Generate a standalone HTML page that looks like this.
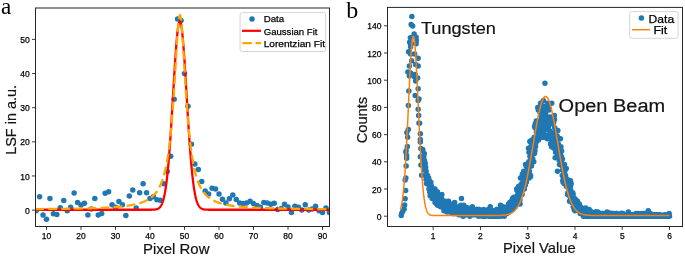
<!DOCTYPE html>
<html><head><meta charset="utf-8"><style>
html,body{margin:0;padding:0;background:#fff;width:685px;height:256px;overflow:hidden}
svg{display:block;will-change:transform}
text.s{stroke:#000;stroke-width:0.25px}
text.m{stroke:#141414;stroke-width:0.2px}

</style></head><body>
<svg width="685" height="256" viewBox="0 0 685 256">
<rect width="685" height="256" fill="#fff"/>
<defs><clipPath id="ca"><rect x="35.5" y="8.0" width="294.0" height="218.5"/></clipPath>
<clipPath id="cb"><rect x="387.5" y="7.4" width="295.0" height="219.1"/></clipPath></defs>
<g fill="#1f77b4"></g>
<g clip-path="url(#ca)">
<circle fill="#1f77b4" cx="36.15" cy="210.78" r="2.75"/>
<circle fill="#1f77b4" cx="39.60" cy="196.79" r="2.75"/>
<circle fill="#1f77b4" cx="43.05" cy="214.88" r="2.75"/>
<circle fill="#1f77b4" cx="46.50" cy="219.32" r="2.75"/>
<circle fill="#1f77b4" cx="49.95" cy="198.49" r="2.75"/>
<circle fill="#1f77b4" cx="53.40" cy="213.86" r="2.75"/>
<circle fill="#1f77b4" cx="56.85" cy="214.54" r="2.75"/>
<circle fill="#1f77b4" cx="60.30" cy="207.71" r="2.75"/>
<circle fill="#1f77b4" cx="63.75" cy="200.54" r="2.75"/>
<circle fill="#1f77b4" cx="67.20" cy="210.78" r="2.75"/>
<circle fill="#1f77b4" cx="70.65" cy="207.20" r="2.75"/>
<circle fill="#1f77b4" cx="74.10" cy="193.03" r="2.75"/>
<circle fill="#1f77b4" cx="77.55" cy="202.59" r="2.75"/>
<circle fill="#1f77b4" cx="81.00" cy="204.98" r="2.75"/>
<circle fill="#1f77b4" cx="84.45" cy="203.27" r="2.75"/>
<circle fill="#1f77b4" cx="87.90" cy="214.88" r="2.75"/>
<circle fill="#1f77b4" cx="91.35" cy="209.08" r="2.75"/>
<circle fill="#1f77b4" cx="94.80" cy="198.49" r="2.75"/>
<circle fill="#1f77b4" cx="98.25" cy="214.88" r="2.75"/>
<circle fill="#1f77b4" cx="101.70" cy="213.51" r="2.75"/>
<circle fill="#1f77b4" cx="105.15" cy="193.37" r="2.75"/>
<circle fill="#1f77b4" cx="108.60" cy="191.66" r="2.75"/>
<circle fill="#1f77b4" cx="112.05" cy="204.64" r="2.75"/>
<circle fill="#1f77b4" cx="115.50" cy="207.20" r="2.75"/>
<circle fill="#1f77b4" cx="118.95" cy="201.56" r="2.75"/>
<circle fill="#1f77b4" cx="122.40" cy="204.64" r="2.75"/>
<circle fill="#1f77b4" cx="125.85" cy="215.56" r="2.75"/>
<circle fill="#1f77b4" cx="129.30" cy="196.10" r="2.75"/>
<circle fill="#1f77b4" cx="132.75" cy="189.96" r="2.75"/>
<circle fill="#1f77b4" cx="136.20" cy="208.05" r="2.75"/>
<circle fill="#1f77b4" cx="139.65" cy="192.69" r="2.75"/>
<circle fill="#1f77b4" cx="143.10" cy="183.81" r="2.75"/>
<circle fill="#1f77b4" cx="146.55" cy="192.69" r="2.75"/>
<circle fill="#1f77b4" cx="150.00" cy="198.49" r="2.75"/>
<circle fill="#1f77b4" cx="153.45" cy="196.79" r="2.75"/>
<circle fill="#1f77b4" cx="156.90" cy="199.86" r="2.75"/>
<circle fill="#1f77b4" cx="160.35" cy="200.20" r="2.75"/>
<circle fill="#1f77b4" cx="163.80" cy="183.81" r="2.75"/>
<circle fill="#1f77b4" cx="167.25" cy="171.52" r="2.75"/>
<circle fill="#1f77b4" cx="170.70" cy="156.16" r="2.75"/>
<circle fill="#1f77b4" cx="174.15" cy="99.14" r="2.75"/>
<circle fill="#1f77b4" cx="177.60" cy="18.92" r="2.75"/>
<circle fill="#1f77b4" cx="181.05" cy="20.62" r="2.75"/>
<circle fill="#1f77b4" cx="184.50" cy="73.54" r="2.75"/>
<circle fill="#1f77b4" cx="187.95" cy="106.31" r="2.75"/>
<circle fill="#1f77b4" cx="191.40" cy="144.21" r="2.75"/>
<circle fill="#1f77b4" cx="194.85" cy="164.01" r="2.75"/>
<circle fill="#1f77b4" cx="198.30" cy="169.47" r="2.75"/>
<circle fill="#1f77b4" cx="201.75" cy="181.42" r="2.75"/>
<circle fill="#1f77b4" cx="205.20" cy="190.98" r="2.75"/>
<circle fill="#1f77b4" cx="208.65" cy="194.05" r="2.75"/>
<circle fill="#1f77b4" cx="212.10" cy="188.25" r="2.75"/>
<circle fill="#1f77b4" cx="215.55" cy="188.93" r="2.75"/>
<circle fill="#1f77b4" cx="219.00" cy="194.05" r="2.75"/>
<circle fill="#1f77b4" cx="222.45" cy="199.18" r="2.75"/>
<circle fill="#1f77b4" cx="225.90" cy="202.93" r="2.75"/>
<circle fill="#1f77b4" cx="229.35" cy="198.83" r="2.75"/>
<circle fill="#1f77b4" cx="232.80" cy="195.08" r="2.75"/>
<circle fill="#1f77b4" cx="236.25" cy="199.52" r="2.75"/>
<circle fill="#1f77b4" cx="239.70" cy="202.93" r="2.75"/>
<circle fill="#1f77b4" cx="243.15" cy="203.61" r="2.75"/>
<circle fill="#1f77b4" cx="246.60" cy="202.93" r="2.75"/>
<circle fill="#1f77b4" cx="250.05" cy="201.22" r="2.75"/>
<circle fill="#1f77b4" cx="253.50" cy="203.61" r="2.75"/>
<circle fill="#1f77b4" cx="256.95" cy="205.49" r="2.75"/>
<circle fill="#1f77b4" cx="260.40" cy="207.20" r="2.75"/>
<circle fill="#1f77b4" cx="263.85" cy="202.59" r="2.75"/>
<circle fill="#1f77b4" cx="267.30" cy="202.93" r="2.75"/>
<circle fill="#1f77b4" cx="270.75" cy="204.30" r="2.75"/>
<circle fill="#1f77b4" cx="274.20" cy="203.27" r="2.75"/>
<circle fill="#1f77b4" cx="277.65" cy="209.42" r="2.75"/>
<circle fill="#1f77b4" cx="281.10" cy="208.39" r="2.75"/>
<circle fill="#1f77b4" cx="284.55" cy="204.30" r="2.75"/>
<circle fill="#1f77b4" cx="288.00" cy="207.03" r="2.75"/>
<circle fill="#1f77b4" cx="291.45" cy="212.49" r="2.75"/>
<circle fill="#1f77b4" cx="294.90" cy="206.34" r="2.75"/>
<circle fill="#1f77b4" cx="298.35" cy="207.20" r="2.75"/>
<circle fill="#1f77b4" cx="301.80" cy="209.90" r="2.75"/>
<circle fill="#1f77b4" cx="305.25" cy="204.64" r="2.75"/>
<circle fill="#1f77b4" cx="308.70" cy="209.90" r="2.75"/>
<circle fill="#1f77b4" cx="312.15" cy="209.08" r="2.75"/>
<circle fill="#1f77b4" cx="315.60" cy="206.34" r="2.75"/>
<circle fill="#1f77b4" cx="319.05" cy="210.78" r="2.75"/>
<circle fill="#1f77b4" cx="322.50" cy="212.49" r="2.75"/>
<circle fill="#1f77b4" cx="325.95" cy="208.05" r="2.75"/>
<circle fill="#1f77b4" cx="329.40" cy="212.49" r="2.75"/>
<path d="M 34.42 209.76 L 34.80 209.76 L 35.17 209.76 L 35.54 209.76 L 35.91 209.76 L 36.28 209.76 L 36.65 209.76 L 37.02 209.76 L 37.40 209.76 L 37.77 209.76 L 38.14 209.76 L 38.51 209.76 L 38.88 209.76 L 39.25 209.76 L 39.62 209.76 L 40.00 209.76 L 40.37 209.76 L 40.74 209.76 L 41.11 209.76 L 41.48 209.76 L 41.85 209.76 L 42.22 209.76 L 42.59 209.76 L 42.97 209.76 L 43.34 209.76 L 43.71 209.76 L 44.08 209.76 L 44.45 209.76 L 44.82 209.76 L 45.19 209.76 L 45.57 209.76 L 45.94 209.76 L 46.31 209.76 L 46.68 209.76 L 47.05 209.76 L 47.42 209.76 L 47.79 209.76 L 48.16 209.76 L 48.54 209.76 L 48.91 209.76 L 49.28 209.76 L 49.65 209.76 L 50.02 209.76 L 50.39 209.76 L 50.76 209.76 L 51.14 209.76 L 51.51 209.76 L 51.88 209.76 L 52.25 209.76 L 52.62 209.76 L 52.99 209.76 L 53.36 209.76 L 53.73 209.76 L 54.11 209.76 L 54.48 209.76 L 54.85 209.76 L 55.22 209.76 L 55.59 209.76 L 55.96 209.76 L 56.33 209.76 L 56.71 209.76 L 57.08 209.76 L 57.45 209.76 L 57.82 209.76 L 58.19 209.76 L 58.56 209.76 L 58.93 209.76 L 59.30 209.76 L 59.68 209.76 L 60.05 209.76 L 60.42 209.76 L 60.79 209.76 L 61.16 209.76 L 61.53 209.76 L 61.90 209.76 L 62.28 209.76 L 62.65 209.76 L 63.02 209.76 L 63.39 209.76 L 63.76 209.76 L 64.13 209.76 L 64.50 209.76 L 64.87 209.76 L 65.25 209.76 L 65.62 209.76 L 65.99 209.76 L 66.36 209.76 L 66.73 209.76 L 67.10 209.76 L 67.47 209.76 L 67.85 209.76 L 68.22 209.76 L 68.59 209.76 L 68.96 209.76 L 69.33 209.76 L 69.70 209.76 L 70.07 209.76 L 70.44 209.76 L 70.82 209.76 L 71.19 209.76 L 71.56 209.76 L 71.93 209.76 L 72.30 209.76 L 72.67 209.76 L 73.04 209.76 L 73.42 209.76 L 73.79 209.76 L 74.16 209.76 L 74.53 209.76 L 74.90 209.76 L 75.27 209.76 L 75.64 209.76 L 76.01 209.76 L 76.39 209.76 L 76.76 209.76 L 77.13 209.76 L 77.50 209.76 L 77.87 209.76 L 78.24 209.76 L 78.61 209.76 L 78.99 209.76 L 79.36 209.76 L 79.73 209.76 L 80.10 209.76 L 80.47 209.76 L 80.84 209.76 L 81.21 209.76 L 81.59 209.76 L 81.96 209.76 L 82.33 209.76 L 82.70 209.76 L 83.07 209.76 L 83.44 209.76 L 83.81 209.76 L 84.18 209.76 L 84.56 209.76 L 84.93 209.76 L 85.30 209.76 L 85.67 209.76 L 86.04 209.76 L 86.41 209.76 L 86.78 209.76 L 87.16 209.76 L 87.53 209.76 L 87.90 209.76 L 88.27 209.76 L 88.64 209.76 L 89.01 209.76 L 89.38 209.76 L 89.75 209.76 L 90.13 209.76 L 90.50 209.76 L 90.87 209.76 L 91.24 209.76 L 91.61 209.76 L 91.98 209.76 L 92.35 209.76 L 92.73 209.76 L 93.10 209.76 L 93.47 209.76 L 93.84 209.76 L 94.21 209.76 L 94.58 209.76 L 94.95 209.76 L 95.32 209.76 L 95.70 209.76 L 96.07 209.76 L 96.44 209.76 L 96.81 209.76 L 97.18 209.76 L 97.55 209.76 L 97.92 209.76 L 98.30 209.76 L 98.67 209.76 L 99.04 209.76 L 99.41 209.76 L 99.78 209.76 L 100.15 209.76 L 100.52 209.76 L 100.89 209.76 L 101.27 209.76 L 101.64 209.76 L 102.01 209.76 L 102.38 209.76 L 102.75 209.76 L 103.12 209.76 L 103.49 209.76 L 103.87 209.76 L 104.24 209.76 L 104.61 209.76 L 104.98 209.76 L 105.35 209.76 L 105.72 209.76 L 106.09 209.76 L 106.46 209.76 L 106.84 209.76 L 107.21 209.76 L 107.58 209.76 L 107.95 209.76 L 108.32 209.76 L 108.69 209.76 L 109.06 209.76 L 109.44 209.76 L 109.81 209.76 L 110.18 209.76 L 110.55 209.76 L 110.92 209.76 L 111.29 209.76 L 111.66 209.76 L 112.03 209.76 L 112.41 209.76 L 112.78 209.76 L 113.15 209.76 L 113.52 209.76 L 113.89 209.76 L 114.26 209.76 L 114.63 209.76 L 115.01 209.76 L 115.38 209.76 L 115.75 209.76 L 116.12 209.76 L 116.49 209.76 L 116.86 209.76 L 117.23 209.76 L 117.60 209.76 L 117.98 209.76 L 118.35 209.76 L 118.72 209.76 L 119.09 209.76 L 119.46 209.76 L 119.83 209.76 L 120.20 209.76 L 120.58 209.76 L 120.95 209.76 L 121.32 209.76 L 121.69 209.76 L 122.06 209.76 L 122.43 209.76 L 122.80 209.76 L 123.18 209.76 L 123.55 209.76 L 123.92 209.76 L 124.29 209.76 L 124.66 209.76 L 125.03 209.76 L 125.40 209.76 L 125.77 209.76 L 126.15 209.76 L 126.52 209.76 L 126.89 209.76 L 127.26 209.76 L 127.63 209.76 L 128.00 209.76 L 128.37 209.76 L 128.75 209.76 L 129.12 209.76 L 129.49 209.76 L 129.86 209.76 L 130.23 209.76 L 130.60 209.76 L 130.97 209.76 L 131.34 209.76 L 131.72 209.76 L 132.09 209.76 L 132.46 209.76 L 132.83 209.76 L 133.20 209.76 L 133.57 209.76 L 133.94 209.76 L 134.32 209.76 L 134.69 209.76 L 135.06 209.76 L 135.43 209.76 L 135.80 209.76 L 136.17 209.76 L 136.54 209.76 L 136.91 209.76 L 137.29 209.76 L 137.66 209.76 L 138.03 209.76 L 138.40 209.76 L 138.77 209.76 L 139.14 209.76 L 139.51 209.76 L 139.89 209.76 L 140.26 209.76 L 140.63 209.76 L 141.00 209.76 L 141.37 209.76 L 141.74 209.76 L 142.11 209.76 L 142.48 209.76 L 142.86 209.76 L 143.23 209.76 L 143.60 209.76 L 143.97 209.76 L 144.34 209.76 L 144.71 209.76 L 145.08 209.76 L 145.46 209.76 L 145.83 209.76 L 146.20 209.76 L 146.57 209.76 L 146.94 209.76 L 147.31 209.76 L 147.68 209.76 L 148.05 209.76 L 148.43 209.75 L 148.80 209.75 L 149.17 209.75 L 149.54 209.75 L 149.91 209.75 L 150.28 209.74 L 150.65 209.74 L 151.03 209.74 L 151.40 209.73 L 151.77 209.72 L 152.14 209.71 L 152.51 209.70 L 152.88 209.69 L 153.25 209.67 L 153.62 209.65 L 154.00 209.62 L 154.37 209.59 L 154.74 209.55 L 155.11 209.51 L 155.48 209.45 L 155.85 209.39 L 156.22 209.31 L 156.60 209.22 L 156.97 209.11 L 157.34 208.97 L 157.71 208.82 L 158.08 208.64 L 158.45 208.43 L 158.82 208.18 L 159.19 207.89 L 159.57 207.56 L 159.94 207.17 L 160.31 206.73 L 160.68 206.22 L 161.05 205.63 L 161.42 204.97 L 161.79 204.21 L 162.17 203.36 L 162.54 202.39 L 162.91 201.30 L 163.28 200.08 L 163.65 198.72 L 164.02 197.21 L 164.39 195.53 L 164.77 193.67 L 165.14 191.62 L 165.51 189.38 L 165.88 186.92 L 166.25 184.25 L 166.62 181.34 L 166.99 178.21 L 167.36 174.82 L 167.74 171.20 L 168.11 167.32 L 168.48 163.19 L 168.85 158.81 L 169.22 154.18 L 169.59 149.32 L 169.96 144.23 L 170.34 138.92 L 170.71 133.40 L 171.08 127.71 L 171.45 121.85 L 171.82 115.85 L 172.19 109.75 L 172.56 103.56 L 172.93 97.33 L 173.31 91.09 L 173.68 84.87 L 174.05 78.72 L 174.42 72.68 L 174.79 66.79 L 175.16 61.08 L 175.53 55.61 L 175.91 50.42 L 176.28 45.54 L 176.65 41.01 L 177.02 36.88 L 177.39 33.18 L 177.76 29.93 L 178.13 27.17 L 178.50 24.92 L 178.88 23.20 L 179.25 22.03 L 179.62 21.41 L 179.99 21.35 L 180.36 21.85 L 180.73 22.92 L 181.10 24.52 L 181.48 26.67 L 181.85 29.32 L 182.22 32.47 L 182.59 36.09 L 182.96 40.13 L 183.33 44.58 L 183.70 49.39 L 184.07 54.52 L 184.45 59.94 L 184.82 65.59 L 185.19 71.45 L 185.56 77.47 L 185.93 83.60 L 186.30 89.81 L 186.67 96.05 L 187.05 102.28 L 187.42 108.48 L 187.79 114.61 L 188.16 120.63 L 188.53 126.52 L 188.90 132.25 L 189.27 137.80 L 189.64 143.15 L 190.02 148.29 L 190.39 153.20 L 190.76 157.88 L 191.13 162.31 L 191.50 166.49 L 191.87 170.42 L 192.24 174.10 L 192.62 177.53 L 192.99 180.72 L 193.36 183.67 L 193.73 186.39 L 194.10 188.89 L 194.47 191.18 L 194.84 193.26 L 195.21 195.16 L 195.59 196.88 L 195.96 198.42 L 196.33 199.82 L 196.70 201.06 L 197.07 202.18 L 197.44 203.17 L 197.81 204.05 L 198.19 204.82 L 198.56 205.50 L 198.93 206.10 L 199.30 206.63 L 199.67 207.09 L 200.04 207.48 L 200.41 207.83 L 200.78 208.12 L 201.16 208.38 L 201.53 208.60 L 201.90 208.79 L 202.27 208.94 L 202.64 209.08 L 203.01 209.19 L 203.38 209.29 L 203.76 209.37 L 204.13 209.44 L 204.50 209.50 L 204.87 209.54 L 205.24 209.58 L 205.61 209.62 L 205.98 209.64 L 206.36 209.67 L 206.73 209.68 L 207.10 209.70 L 207.47 209.71 L 207.84 209.72 L 208.21 209.73 L 208.58 209.73 L 208.95 209.74 L 209.33 209.74 L 209.70 209.75 L 210.07 209.75 L 210.44 209.75 L 210.81 209.75 L 211.18 209.75 L 211.55 209.76 L 211.93 209.76 L 212.30 209.76 L 212.67 209.76 L 213.04 209.76 L 213.41 209.76 L 213.78 209.76 L 214.15 209.76 L 214.52 209.76 L 214.90 209.76 L 215.27 209.76 L 215.64 209.76 L 216.01 209.76 L 216.38 209.76 L 216.75 209.76 L 217.12 209.76 L 217.50 209.76 L 217.87 209.76 L 218.24 209.76 L 218.61 209.76 L 218.98 209.76 L 219.35 209.76 L 219.72 209.76 L 220.09 209.76 L 220.47 209.76 L 220.84 209.76 L 221.21 209.76 L 221.58 209.76 L 221.95 209.76 L 222.32 209.76 L 222.69 209.76 L 223.07 209.76 L 223.44 209.76 L 223.81 209.76 L 224.18 209.76 L 224.55 209.76 L 224.92 209.76 L 225.29 209.76 L 225.66 209.76 L 226.04 209.76 L 226.41 209.76 L 226.78 209.76 L 227.15 209.76 L 227.52 209.76 L 227.89 209.76 L 228.26 209.76 L 228.64 209.76 L 229.01 209.76 L 229.38 209.76 L 229.75 209.76 L 230.12 209.76 L 230.49 209.76 L 230.86 209.76 L 231.23 209.76 L 231.61 209.76 L 231.98 209.76 L 232.35 209.76 L 232.72 209.76 L 233.09 209.76 L 233.46 209.76 L 233.83 209.76 L 234.21 209.76 L 234.58 209.76 L 234.95 209.76 L 235.32 209.76 L 235.69 209.76 L 236.06 209.76 L 236.43 209.76 L 236.80 209.76 L 237.18 209.76 L 237.55 209.76 L 237.92 209.76 L 238.29 209.76 L 238.66 209.76 L 239.03 209.76 L 239.40 209.76 L 239.78 209.76 L 240.15 209.76 L 240.52 209.76 L 240.89 209.76 L 241.26 209.76 L 241.63 209.76 L 242.00 209.76 L 242.37 209.76 L 242.75 209.76 L 243.12 209.76 L 243.49 209.76 L 243.86 209.76 L 244.23 209.76 L 244.60 209.76 L 244.97 209.76 L 245.35 209.76 L 245.72 209.76 L 246.09 209.76 L 246.46 209.76 L 246.83 209.76 L 247.20 209.76 L 247.57 209.76 L 247.95 209.76 L 248.32 209.76 L 248.69 209.76 L 249.06 209.76 L 249.43 209.76 L 249.80 209.76 L 250.17 209.76 L 250.54 209.76 L 250.92 209.76 L 251.29 209.76 L 251.66 209.76 L 252.03 209.76 L 252.40 209.76 L 252.77 209.76 L 253.14 209.76 L 253.52 209.76 L 253.89 209.76 L 254.26 209.76 L 254.63 209.76 L 255.00 209.76 L 255.37 209.76 L 255.74 209.76 L 256.11 209.76 L 256.49 209.76 L 256.86 209.76 L 257.23 209.76 L 257.60 209.76 L 257.97 209.76 L 258.34 209.76 L 258.71 209.76 L 259.09 209.76 L 259.46 209.76 L 259.83 209.76 L 260.20 209.76 L 260.57 209.76 L 260.94 209.76 L 261.31 209.76 L 261.68 209.76 L 262.06 209.76 L 262.43 209.76 L 262.80 209.76 L 263.17 209.76 L 263.54 209.76 L 263.91 209.76 L 264.28 209.76 L 264.66 209.76 L 265.03 209.76 L 265.40 209.76 L 265.77 209.76 L 266.14 209.76 L 266.51 209.76 L 266.88 209.76 L 267.25 209.76 L 267.63 209.76 L 268.00 209.76 L 268.37 209.76 L 268.74 209.76 L 269.11 209.76 L 269.48 209.76 L 269.85 209.76 L 270.23 209.76 L 270.60 209.76 L 270.97 209.76 L 271.34 209.76 L 271.71 209.76 L 272.08 209.76 L 272.45 209.76 L 272.82 209.76 L 273.20 209.76 L 273.57 209.76 L 273.94 209.76 L 274.31 209.76 L 274.68 209.76 L 275.05 209.76 L 275.42 209.76 L 275.80 209.76 L 276.17 209.76 L 276.54 209.76 L 276.91 209.76 L 277.28 209.76 L 277.65 209.76 L 278.02 209.76 L 278.39 209.76 L 278.77 209.76 L 279.14 209.76 L 279.51 209.76 L 279.88 209.76 L 280.25 209.76 L 280.62 209.76 L 280.99 209.76 L 281.37 209.76 L 281.74 209.76 L 282.11 209.76 L 282.48 209.76 L 282.85 209.76 L 283.22 209.76 L 283.59 209.76 L 283.96 209.76 L 284.34 209.76 L 284.71 209.76 L 285.08 209.76 L 285.45 209.76 L 285.82 209.76 L 286.19 209.76 L 286.56 209.76 L 286.94 209.76 L 287.31 209.76 L 287.68 209.76 L 288.05 209.76 L 288.42 209.76 L 288.79 209.76 L 289.16 209.76 L 289.54 209.76 L 289.91 209.76 L 290.28 209.76 L 290.65 209.76 L 291.02 209.76 L 291.39 209.76 L 291.76 209.76 L 292.13 209.76 L 292.51 209.76 L 292.88 209.76 L 293.25 209.76 L 293.62 209.76 L 293.99 209.76 L 294.36 209.76 L 294.73 209.76 L 295.11 209.76 L 295.48 209.76 L 295.85 209.76 L 296.22 209.76 L 296.59 209.76 L 296.96 209.76 L 297.33 209.76 L 297.70 209.76 L 298.08 209.76 L 298.45 209.76 L 298.82 209.76 L 299.19 209.76 L 299.56 209.76 L 299.93 209.76 L 300.30 209.76 L 300.68 209.76 L 301.05 209.76 L 301.42 209.76 L 301.79 209.76 L 302.16 209.76 L 302.53 209.76 L 302.90 209.76 L 303.27 209.76 L 303.65 209.76 L 304.02 209.76 L 304.39 209.76 L 304.76 209.76 L 305.13 209.76 L 305.50 209.76 L 305.87 209.76 L 306.25 209.76 L 306.62 209.76 L 306.99 209.76 L 307.36 209.76 L 307.73 209.76 L 308.10 209.76 L 308.47 209.76 L 308.84 209.76 L 309.22 209.76 L 309.59 209.76 L 309.96 209.76 L 310.33 209.76 L 310.70 209.76 L 311.07 209.76 L 311.44 209.76 L 311.82 209.76 L 312.19 209.76 L 312.56 209.76 L 312.93 209.76 L 313.30 209.76 L 313.67 209.76 L 314.04 209.76 L 314.41 209.76 L 314.79 209.76 L 315.16 209.76 L 315.53 209.76 L 315.90 209.76 L 316.27 209.76 L 316.64 209.76 L 317.01 209.76 L 317.39 209.76 L 317.76 209.76 L 318.13 209.76 L 318.50 209.76 L 318.87 209.76 L 319.24 209.76 L 319.61 209.76 L 319.98 209.76 L 320.36 209.76 L 320.73 209.76 L 321.10 209.76 L 321.47 209.76 L 321.84 209.76 L 322.21 209.76 L 322.58 209.76 L 322.96 209.76 L 323.33 209.76 L 323.70 209.76 L 324.07 209.76 L 324.44 209.76 L 324.81 209.76 L 325.18 209.76 L 325.55 209.76 L 325.93 209.76 L 326.30 209.76 L 326.67 209.76 L 327.04 209.76 L 327.41 209.76 L 327.78 209.76 L 328.15 209.76 L 328.53 209.76 L 328.90 209.76 L 329.27 209.76 L 329.64 209.76 L 330.01 209.76 L 330.38 209.76 L 330.75 209.76 L 331.12 209.76" fill="none" stroke="#ff0000" stroke-width="2.3" stroke-linejoin="round"/>
<path d="M 34.42 209.08 L 34.80 209.08 L 35.17 209.08 L 35.54 209.08 L 35.91 209.07 L 36.28 209.07 L 36.65 209.07 L 37.02 209.07 L 37.40 209.06 L 37.77 209.06 L 38.14 209.06 L 38.51 209.06 L 38.88 209.05 L 39.25 209.05 L 39.62 209.05 L 40.00 209.04 L 40.37 209.04 L 40.74 209.04 L 41.11 209.04 L 41.48 209.03 L 41.85 209.03 L 42.22 209.03 L 42.59 209.02 L 42.97 209.02 L 43.34 209.02 L 43.71 209.01 L 44.08 209.01 L 44.45 209.01 L 44.82 209.00 L 45.19 209.00 L 45.57 209.00 L 45.94 208.99 L 46.31 208.99 L 46.68 208.99 L 47.05 208.98 L 47.42 208.98 L 47.79 208.98 L 48.16 208.97 L 48.54 208.97 L 48.91 208.97 L 49.28 208.96 L 49.65 208.96 L 50.02 208.96 L 50.39 208.95 L 50.76 208.95 L 51.14 208.95 L 51.51 208.94 L 51.88 208.94 L 52.25 208.93 L 52.62 208.93 L 52.99 208.93 L 53.36 208.92 L 53.73 208.92 L 54.11 208.92 L 54.48 208.91 L 54.85 208.91 L 55.22 208.90 L 55.59 208.90 L 55.96 208.90 L 56.33 208.89 L 56.71 208.89 L 57.08 208.88 L 57.45 208.88 L 57.82 208.87 L 58.19 208.87 L 58.56 208.87 L 58.93 208.86 L 59.30 208.86 L 59.68 208.85 L 60.05 208.85 L 60.42 208.84 L 60.79 208.84 L 61.16 208.83 L 61.53 208.83 L 61.90 208.82 L 62.28 208.82 L 62.65 208.81 L 63.02 208.81 L 63.39 208.80 L 63.76 208.80 L 64.13 208.79 L 64.50 208.79 L 64.87 208.78 L 65.25 208.78 L 65.62 208.77 L 65.99 208.77 L 66.36 208.76 L 66.73 208.76 L 67.10 208.75 L 67.47 208.75 L 67.85 208.74 L 68.22 208.74 L 68.59 208.73 L 68.96 208.72 L 69.33 208.72 L 69.70 208.71 L 70.07 208.71 L 70.44 208.70 L 70.82 208.69 L 71.19 208.69 L 71.56 208.68 L 71.93 208.68 L 72.30 208.67 L 72.67 208.66 L 73.04 208.66 L 73.42 208.65 L 73.79 208.64 L 74.16 208.64 L 74.53 208.63 L 74.90 208.62 L 75.27 208.62 L 75.64 208.61 L 76.01 208.60 L 76.39 208.60 L 76.76 208.59 L 77.13 208.58 L 77.50 208.57 L 77.87 208.57 L 78.24 208.56 L 78.61 208.55 L 78.99 208.54 L 79.36 208.54 L 79.73 208.53 L 80.10 208.52 L 80.47 208.51 L 80.84 208.51 L 81.21 208.50 L 81.59 208.49 L 81.96 208.48 L 82.33 208.47 L 82.70 208.46 L 83.07 208.46 L 83.44 208.45 L 83.81 208.44 L 84.18 208.43 L 84.56 208.42 L 84.93 208.41 L 85.30 208.40 L 85.67 208.39 L 86.04 208.38 L 86.41 208.37 L 86.78 208.36 L 87.16 208.35 L 87.53 208.34 L 87.90 208.33 L 88.27 208.32 L 88.64 208.31 L 89.01 208.30 L 89.38 208.29 L 89.75 208.28 L 90.13 208.27 L 90.50 208.26 L 90.87 208.25 L 91.24 208.24 L 91.61 208.23 L 91.98 208.22 L 92.35 208.20 L 92.73 208.19 L 93.10 208.18 L 93.47 208.17 L 93.84 208.16 L 94.21 208.14 L 94.58 208.13 L 94.95 208.12 L 95.32 208.11 L 95.70 208.09 L 96.07 208.08 L 96.44 208.07 L 96.81 208.05 L 97.18 208.04 L 97.55 208.03 L 97.92 208.01 L 98.30 208.00 L 98.67 207.98 L 99.04 207.97 L 99.41 207.95 L 99.78 207.94 L 100.15 207.92 L 100.52 207.91 L 100.89 207.89 L 101.27 207.88 L 101.64 207.86 L 102.01 207.84 L 102.38 207.83 L 102.75 207.81 L 103.12 207.79 L 103.49 207.78 L 103.87 207.76 L 104.24 207.74 L 104.61 207.72 L 104.98 207.70 L 105.35 207.69 L 105.72 207.67 L 106.09 207.65 L 106.46 207.63 L 106.84 207.61 L 107.21 207.59 L 107.58 207.57 L 107.95 207.55 L 108.32 207.53 L 108.69 207.51 L 109.06 207.48 L 109.44 207.46 L 109.81 207.44 L 110.18 207.42 L 110.55 207.39 L 110.92 207.37 L 111.29 207.35 L 111.66 207.32 L 112.03 207.30 L 112.41 207.27 L 112.78 207.25 L 113.15 207.22 L 113.52 207.20 L 113.89 207.17 L 114.26 207.14 L 114.63 207.11 L 115.01 207.09 L 115.38 207.06 L 115.75 207.03 L 116.12 207.00 L 116.49 206.97 L 116.86 206.94 L 117.23 206.91 L 117.60 206.88 L 117.98 206.84 L 118.35 206.81 L 118.72 206.78 L 119.09 206.74 L 119.46 206.71 L 119.83 206.67 L 120.20 206.64 L 120.58 206.60 L 120.95 206.57 L 121.32 206.53 L 121.69 206.49 L 122.06 206.45 L 122.43 206.41 L 122.80 206.37 L 123.18 206.33 L 123.55 206.29 L 123.92 206.24 L 124.29 206.20 L 124.66 206.15 L 125.03 206.11 L 125.40 206.06 L 125.77 206.01 L 126.15 205.96 L 126.52 205.91 L 126.89 205.86 L 127.26 205.81 L 127.63 205.76 L 128.00 205.71 L 128.37 205.65 L 128.75 205.59 L 129.12 205.54 L 129.49 205.48 L 129.86 205.42 L 130.23 205.36 L 130.60 205.30 L 130.97 205.23 L 131.34 205.17 L 131.72 205.10 L 132.09 205.03 L 132.46 204.96 L 132.83 204.89 L 133.20 204.82 L 133.57 204.74 L 133.94 204.67 L 134.32 204.59 L 134.69 204.51 L 135.06 204.42 L 135.43 204.34 L 135.80 204.25 L 136.17 204.17 L 136.54 204.08 L 136.91 203.98 L 137.29 203.89 L 137.66 203.79 L 138.03 203.69 L 138.40 203.59 L 138.77 203.48 L 139.14 203.37 L 139.51 203.26 L 139.89 203.15 L 140.26 203.03 L 140.63 202.91 L 141.00 202.79 L 141.37 202.66 L 141.74 202.53 L 142.11 202.40 L 142.48 202.26 L 142.86 202.12 L 143.23 201.97 L 143.60 201.82 L 143.97 201.67 L 144.34 201.51 L 144.71 201.34 L 145.08 201.17 L 145.46 201.00 L 145.83 200.82 L 146.20 200.64 L 146.57 200.45 L 146.94 200.25 L 147.31 200.05 L 147.68 199.84 L 148.05 199.62 L 148.43 199.39 L 148.80 199.16 L 149.17 198.92 L 149.54 198.68 L 149.91 198.42 L 150.28 198.16 L 150.65 197.88 L 151.03 197.60 L 151.40 197.30 L 151.77 197.00 L 152.14 196.68 L 152.51 196.36 L 152.88 196.02 L 153.25 195.66 L 153.62 195.30 L 154.00 194.92 L 154.37 194.52 L 154.74 194.11 L 155.11 193.68 L 155.48 193.23 L 155.85 192.77 L 156.22 192.29 L 156.60 191.78 L 156.97 191.26 L 157.34 190.71 L 157.71 190.14 L 158.08 189.54 L 158.45 188.92 L 158.82 188.26 L 159.19 187.58 L 159.57 186.86 L 159.94 186.12 L 160.31 185.33 L 160.68 184.51 L 161.05 183.65 L 161.42 182.74 L 161.79 181.79 L 162.17 180.79 L 162.54 179.74 L 162.91 178.64 L 163.28 177.47 L 163.65 176.25 L 164.02 174.95 L 164.39 173.59 L 164.77 172.15 L 165.14 170.63 L 165.51 169.02 L 165.88 167.33 L 166.25 165.53 L 166.62 163.63 L 166.99 161.62 L 167.36 159.48 L 167.74 157.22 L 168.11 154.83 L 168.48 152.29 L 168.85 149.59 L 169.22 146.73 L 169.59 143.70 L 169.96 140.48 L 170.34 137.07 L 170.71 133.46 L 171.08 129.63 L 171.45 125.57 L 171.82 121.29 L 172.19 116.77 L 172.56 112.00 L 172.93 107.00 L 173.31 101.75 L 173.68 96.27 L 174.05 90.57 L 174.42 84.67 L 174.79 78.60 L 175.16 72.39 L 175.53 66.10 L 175.91 59.79 L 176.28 53.52 L 176.65 47.40 L 177.02 41.50 L 177.39 35.94 L 177.76 30.83 L 178.13 26.28 L 178.50 22.40 L 178.88 19.29 L 179.25 17.04 L 179.62 15.71 L 179.99 15.34 L 180.36 15.94 L 180.73 17.49 L 181.10 19.95 L 181.48 23.25 L 181.85 27.30 L 182.22 31.99 L 182.59 37.22 L 182.96 42.87 L 183.33 48.83 L 183.70 55.00 L 184.07 61.28 L 184.45 67.59 L 184.82 73.87 L 185.19 80.05 L 185.56 86.08 L 185.93 91.94 L 186.30 97.59 L 186.67 103.01 L 187.05 108.21 L 187.42 113.15 L 187.79 117.86 L 188.16 122.33 L 188.53 126.55 L 188.90 130.55 L 189.27 134.33 L 189.64 137.90 L 190.02 141.26 L 190.39 144.44 L 190.76 147.43 L 191.13 150.25 L 191.50 152.90 L 191.87 155.41 L 192.24 157.77 L 192.62 160.00 L 192.99 162.10 L 193.36 164.09 L 193.73 165.96 L 194.10 167.74 L 194.47 169.41 L 194.84 171.00 L 195.21 172.50 L 195.59 173.92 L 195.96 175.26 L 196.33 176.54 L 196.70 177.75 L 197.07 178.90 L 197.44 179.99 L 197.81 181.03 L 198.19 182.02 L 198.56 182.96 L 198.93 183.86 L 199.30 184.71 L 199.67 185.52 L 200.04 186.30 L 200.41 187.04 L 200.78 187.74 L 201.16 188.42 L 201.53 189.07 L 201.90 189.68 L 202.27 190.27 L 202.64 190.84 L 203.01 191.38 L 203.38 191.90 L 203.76 192.40 L 204.13 192.88 L 204.50 193.34 L 204.87 193.78 L 205.24 194.21 L 205.61 194.61 L 205.98 195.01 L 206.36 195.38 L 206.73 195.75 L 207.10 196.10 L 207.47 196.43 L 207.84 196.76 L 208.21 197.07 L 208.58 197.37 L 208.95 197.67 L 209.33 197.95 L 209.70 198.22 L 210.07 198.48 L 210.44 198.74 L 210.81 198.98 L 211.18 199.22 L 211.55 199.45 L 211.93 199.67 L 212.30 199.89 L 212.67 200.09 L 213.04 200.30 L 213.41 200.49 L 213.78 200.68 L 214.15 200.86 L 214.52 201.04 L 214.90 201.22 L 215.27 201.38 L 215.64 201.55 L 216.01 201.70 L 216.38 201.86 L 216.75 202.01 L 217.12 202.15 L 217.50 202.29 L 217.87 202.43 L 218.24 202.56 L 218.61 202.69 L 218.98 202.82 L 219.35 202.94 L 219.72 203.06 L 220.09 203.18 L 220.47 203.29 L 220.84 203.40 L 221.21 203.51 L 221.58 203.61 L 221.95 203.71 L 222.32 203.81 L 222.69 203.91 L 223.07 204.00 L 223.44 204.10 L 223.81 204.19 L 224.18 204.27 L 224.55 204.36 L 224.92 204.44 L 225.29 204.53 L 225.66 204.61 L 226.04 204.68 L 226.41 204.76 L 226.78 204.83 L 227.15 204.91 L 227.52 204.98 L 227.89 205.05 L 228.26 205.12 L 228.64 205.18 L 229.01 205.25 L 229.38 205.31 L 229.75 205.37 L 230.12 205.43 L 230.49 205.49 L 230.86 205.55 L 231.23 205.61 L 231.61 205.66 L 231.98 205.72 L 232.35 205.77 L 232.72 205.82 L 233.09 205.88 L 233.46 205.93 L 233.83 205.98 L 234.21 206.02 L 234.58 206.07 L 234.95 206.12 L 235.32 206.16 L 235.69 206.21 L 236.06 206.25 L 236.43 206.30 L 236.80 206.34 L 237.18 206.38 L 237.55 206.42 L 237.92 206.46 L 238.29 206.50 L 238.66 206.54 L 239.03 206.57 L 239.40 206.61 L 239.78 206.65 L 240.15 206.68 L 240.52 206.72 L 240.89 206.75 L 241.26 206.79 L 241.63 206.82 L 242.00 206.85 L 242.37 206.88 L 242.75 206.92 L 243.12 206.95 L 243.49 206.98 L 243.86 207.01 L 244.23 207.04 L 244.60 207.06 L 244.97 207.09 L 245.35 207.12 L 245.72 207.15 L 246.09 207.18 L 246.46 207.20 L 246.83 207.23 L 247.20 207.25 L 247.57 207.28 L 247.95 207.30 L 248.32 207.33 L 248.69 207.35 L 249.06 207.38 L 249.43 207.40 L 249.80 207.42 L 250.17 207.44 L 250.54 207.47 L 250.92 207.49 L 251.29 207.51 L 251.66 207.53 L 252.03 207.55 L 252.40 207.57 L 252.77 207.59 L 253.14 207.61 L 253.52 207.63 L 253.89 207.65 L 254.26 207.67 L 254.63 207.69 L 255.00 207.71 L 255.37 207.73 L 255.74 207.75 L 256.11 207.76 L 256.49 207.78 L 256.86 207.80 L 257.23 207.81 L 257.60 207.83 L 257.97 207.85 L 258.34 207.86 L 258.71 207.88 L 259.09 207.90 L 259.46 207.91 L 259.83 207.93 L 260.20 207.94 L 260.57 207.96 L 260.94 207.97 L 261.31 207.99 L 261.68 208.00 L 262.06 208.02 L 262.43 208.03 L 262.80 208.04 L 263.17 208.06 L 263.54 208.07 L 263.91 208.08 L 264.28 208.10 L 264.66 208.11 L 265.03 208.12 L 265.40 208.14 L 265.77 208.15 L 266.14 208.16 L 266.51 208.17 L 266.88 208.18 L 267.25 208.20 L 267.63 208.21 L 268.00 208.22 L 268.37 208.23 L 268.74 208.24 L 269.11 208.25 L 269.48 208.26 L 269.85 208.27 L 270.23 208.29 L 270.60 208.30 L 270.97 208.31 L 271.34 208.32 L 271.71 208.33 L 272.08 208.34 L 272.45 208.35 L 272.82 208.36 L 273.20 208.37 L 273.57 208.38 L 273.94 208.39 L 274.31 208.40 L 274.68 208.40 L 275.05 208.41 L 275.42 208.42 L 275.80 208.43 L 276.17 208.44 L 276.54 208.45 L 276.91 208.46 L 277.28 208.47 L 277.65 208.47 L 278.02 208.48 L 278.39 208.49 L 278.77 208.50 L 279.14 208.51 L 279.51 208.52 L 279.88 208.52 L 280.25 208.53 L 280.62 208.54 L 280.99 208.55 L 281.37 208.55 L 281.74 208.56 L 282.11 208.57 L 282.48 208.58 L 282.85 208.58 L 283.22 208.59 L 283.59 208.60 L 283.96 208.61 L 284.34 208.61 L 284.71 208.62 L 285.08 208.63 L 285.45 208.63 L 285.82 208.64 L 286.19 208.65 L 286.56 208.65 L 286.94 208.66 L 287.31 208.67 L 287.68 208.67 L 288.05 208.68 L 288.42 208.68 L 288.79 208.69 L 289.16 208.70 L 289.54 208.70 L 289.91 208.71 L 290.28 208.71 L 290.65 208.72 L 291.02 208.73 L 291.39 208.73 L 291.76 208.74 L 292.13 208.74 L 292.51 208.75 L 292.88 208.75 L 293.25 208.76 L 293.62 208.76 L 293.99 208.77 L 294.36 208.77 L 294.73 208.78 L 295.11 208.79 L 295.48 208.79 L 295.85 208.80 L 296.22 208.80 L 296.59 208.81 L 296.96 208.81 L 297.33 208.82 L 297.70 208.82 L 298.08 208.83 L 298.45 208.83 L 298.82 208.83 L 299.19 208.84 L 299.56 208.84 L 299.93 208.85 L 300.30 208.85 L 300.68 208.86 L 301.05 208.86 L 301.42 208.87 L 301.79 208.87 L 302.16 208.87 L 302.53 208.88 L 302.90 208.88 L 303.27 208.89 L 303.65 208.89 L 304.02 208.90 L 304.39 208.90 L 304.76 208.90 L 305.13 208.91 L 305.50 208.91 L 305.87 208.92 L 306.25 208.92 L 306.62 208.92 L 306.99 208.93 L 307.36 208.93 L 307.73 208.94 L 308.10 208.94 L 308.47 208.94 L 308.84 208.95 L 309.22 208.95 L 309.59 208.95 L 309.96 208.96 L 310.33 208.96 L 310.70 208.96 L 311.07 208.97 L 311.44 208.97 L 311.82 208.98 L 312.19 208.98 L 312.56 208.98 L 312.93 208.99 L 313.30 208.99 L 313.67 208.99 L 314.04 209.00 L 314.41 209.00 L 314.79 209.00 L 315.16 209.01 L 315.53 209.01 L 315.90 209.01 L 316.27 209.01 L 316.64 209.02 L 317.01 209.02 L 317.39 209.02 L 317.76 209.03 L 318.13 209.03 L 318.50 209.03 L 318.87 209.04 L 319.24 209.04 L 319.61 209.04 L 319.98 209.04 L 320.36 209.05 L 320.73 209.05 L 321.10 209.05 L 321.47 209.06 L 321.84 209.06 L 322.21 209.06 L 322.58 209.06 L 322.96 209.07 L 323.33 209.07 L 323.70 209.07 L 324.07 209.07 L 324.44 209.08 L 324.81 209.08 L 325.18 209.08 L 325.55 209.09 L 325.93 209.09 L 326.30 209.09 L 326.67 209.09 L 327.04 209.10 L 327.41 209.10 L 327.78 209.10 L 328.15 209.10 L 328.53 209.10 L 328.90 209.11 L 329.27 209.11 L 329.64 209.11 L 330.01 209.11 L 330.38 209.12 L 330.75 209.12 L 331.12 209.12" fill="none" stroke="#ffa500" stroke-width="2.3" stroke-dasharray="8.9 4.2" stroke-dashoffset="-0.6"/>
</g>
<g clip-path="url(#cb)">
<path fill="#1f77b4" d="M419.8 156.4a2.75 2.75 0 1 0 5.5 0a2.75 2.75 0 1 0 -5.5 0M420.0 149.6a2.75 2.75 0 1 0 5.5 0a2.75 2.75 0 1 0 -5.5 0M420.1 150.9a2.75 2.75 0 1 0 5.5 0a2.75 2.75 0 1 0 -5.5 0M420.3 160.4a2.75 2.75 0 1 0 5.5 0a2.75 2.75 0 1 0 -5.5 0M420.5 159.1a2.75 2.75 0 1 0 5.5 0a2.75 2.75 0 1 0 -5.5 0M420.6 160.4a2.75 2.75 0 1 0 5.5 0a2.75 2.75 0 1 0 -5.5 0M420.8 156.4a2.75 2.75 0 1 0 5.5 0a2.75 2.75 0 1 0 -5.5 0M421.0 160.4a2.75 2.75 0 1 0 5.5 0a2.75 2.75 0 1 0 -5.5 0M421.1 156.4a2.75 2.75 0 1 0 5.5 0a2.75 2.75 0 1 0 -5.5 0M421.3 170.0a2.75 2.75 0 1 0 5.5 0a2.75 2.75 0 1 0 -5.5 0M421.5 153.6a2.75 2.75 0 1 0 5.5 0a2.75 2.75 0 1 0 -5.5 0M421.6 163.2a2.75 2.75 0 1 0 5.5 0a2.75 2.75 0 1 0 -5.5 0M421.8 160.4a2.75 2.75 0 1 0 5.5 0a2.75 2.75 0 1 0 -5.5 0M422.0 165.9a2.75 2.75 0 1 0 5.5 0a2.75 2.75 0 1 0 -5.5 0M422.1 167.2a2.75 2.75 0 1 0 5.5 0a2.75 2.75 0 1 0 -5.5 0M422.3 164.5a2.75 2.75 0 1 0 5.5 0a2.75 2.75 0 1 0 -5.5 0M422.5 163.2a2.75 2.75 0 1 0 5.5 0a2.75 2.75 0 1 0 -5.5 0M422.6 170.0a2.75 2.75 0 1 0 5.5 0a2.75 2.75 0 1 0 -5.5 0M422.8 170.0a2.75 2.75 0 1 0 5.5 0a2.75 2.75 0 1 0 -5.5 0M422.9 167.2a2.75 2.75 0 1 0 5.5 0a2.75 2.75 0 1 0 -5.5 0M423.1 175.4a2.75 2.75 0 1 0 5.5 0a2.75 2.75 0 1 0 -5.5 0M423.3 179.5a2.75 2.75 0 1 0 5.5 0a2.75 2.75 0 1 0 -5.5 0M423.4 171.3a2.75 2.75 0 1 0 5.5 0a2.75 2.75 0 1 0 -5.5 0M423.6 176.8a2.75 2.75 0 1 0 5.5 0a2.75 2.75 0 1 0 -5.5 0M423.8 183.6a2.75 2.75 0 1 0 5.5 0a2.75 2.75 0 1 0 -5.5 0M423.9 179.5a2.75 2.75 0 1 0 5.5 0a2.75 2.75 0 1 0 -5.5 0M424.1 178.1a2.75 2.75 0 1 0 5.5 0a2.75 2.75 0 1 0 -5.5 0M424.3 182.2a2.75 2.75 0 1 0 5.5 0a2.75 2.75 0 1 0 -5.5 0M424.4 183.6a2.75 2.75 0 1 0 5.5 0a2.75 2.75 0 1 0 -5.5 0M424.6 178.1a2.75 2.75 0 1 0 5.5 0a2.75 2.75 0 1 0 -5.5 0M424.8 175.4a2.75 2.75 0 1 0 5.5 0a2.75 2.75 0 1 0 -5.5 0M424.9 180.8a2.75 2.75 0 1 0 5.5 0a2.75 2.75 0 1 0 -5.5 0M425.1 183.6a2.75 2.75 0 1 0 5.5 0a2.75 2.75 0 1 0 -5.5 0M425.3 179.5a2.75 2.75 0 1 0 5.5 0a2.75 2.75 0 1 0 -5.5 0M425.4 179.5a2.75 2.75 0 1 0 5.5 0a2.75 2.75 0 1 0 -5.5 0M425.6 183.6a2.75 2.75 0 1 0 5.5 0a2.75 2.75 0 1 0 -5.5 0M425.7 179.5a2.75 2.75 0 1 0 5.5 0a2.75 2.75 0 1 0 -5.5 0M425.9 178.1a2.75 2.75 0 1 0 5.5 0a2.75 2.75 0 1 0 -5.5 0M426.1 184.9a2.75 2.75 0 1 0 5.5 0a2.75 2.75 0 1 0 -5.5 0M426.2 189.0a2.75 2.75 0 1 0 5.5 0a2.75 2.75 0 1 0 -5.5 0M426.4 183.6a2.75 2.75 0 1 0 5.5 0a2.75 2.75 0 1 0 -5.5 0M426.6 183.6a2.75 2.75 0 1 0 5.5 0a2.75 2.75 0 1 0 -5.5 0M426.7 180.8a2.75 2.75 0 1 0 5.5 0a2.75 2.75 0 1 0 -5.5 0M426.9 191.7a2.75 2.75 0 1 0 5.5 0a2.75 2.75 0 1 0 -5.5 0M427.1 190.4a2.75 2.75 0 1 0 5.5 0a2.75 2.75 0 1 0 -5.5 0M427.2 190.4a2.75 2.75 0 1 0 5.5 0a2.75 2.75 0 1 0 -5.5 0M427.4 195.8a2.75 2.75 0 1 0 5.5 0a2.75 2.75 0 1 0 -5.5 0M427.6 187.6a2.75 2.75 0 1 0 5.5 0a2.75 2.75 0 1 0 -5.5 0M427.7 186.3a2.75 2.75 0 1 0 5.5 0a2.75 2.75 0 1 0 -5.5 0M427.9 191.7a2.75 2.75 0 1 0 5.5 0a2.75 2.75 0 1 0 -5.5 0M428.1 182.2a2.75 2.75 0 1 0 5.5 0a2.75 2.75 0 1 0 -5.5 0M428.2 184.9a2.75 2.75 0 1 0 5.5 0a2.75 2.75 0 1 0 -5.5 0M428.4 186.3a2.75 2.75 0 1 0 5.5 0a2.75 2.75 0 1 0 -5.5 0M428.5 187.6a2.75 2.75 0 1 0 5.5 0a2.75 2.75 0 1 0 -5.5 0M428.7 186.3a2.75 2.75 0 1 0 5.5 0a2.75 2.75 0 1 0 -5.5 0M428.9 195.8a2.75 2.75 0 1 0 5.5 0a2.75 2.75 0 1 0 -5.5 0M429.0 187.6a2.75 2.75 0 1 0 5.5 0a2.75 2.75 0 1 0 -5.5 0M429.2 189.0a2.75 2.75 0 1 0 5.5 0a2.75 2.75 0 1 0 -5.5 0M429.4 198.5a2.75 2.75 0 1 0 5.5 0a2.75 2.75 0 1 0 -5.5 0M429.5 190.4a2.75 2.75 0 1 0 5.5 0a2.75 2.75 0 1 0 -5.5 0M429.7 193.1a2.75 2.75 0 1 0 5.5 0a2.75 2.75 0 1 0 -5.5 0M429.9 189.0a2.75 2.75 0 1 0 5.5 0a2.75 2.75 0 1 0 -5.5 0M430.0 194.4a2.75 2.75 0 1 0 5.5 0a2.75 2.75 0 1 0 -5.5 0M430.2 193.1a2.75 2.75 0 1 0 5.5 0a2.75 2.75 0 1 0 -5.5 0M430.4 191.7a2.75 2.75 0 1 0 5.5 0a2.75 2.75 0 1 0 -5.5 0M430.5 197.2a2.75 2.75 0 1 0 5.5 0a2.75 2.75 0 1 0 -5.5 0M430.7 191.7a2.75 2.75 0 1 0 5.5 0a2.75 2.75 0 1 0 -5.5 0M430.9 194.4a2.75 2.75 0 1 0 5.5 0a2.75 2.75 0 1 0 -5.5 0M431.0 191.7a2.75 2.75 0 1 0 5.5 0a2.75 2.75 0 1 0 -5.5 0M431.2 195.8a2.75 2.75 0 1 0 5.5 0a2.75 2.75 0 1 0 -5.5 0M431.3 190.4a2.75 2.75 0 1 0 5.5 0a2.75 2.75 0 1 0 -5.5 0M431.5 191.7a2.75 2.75 0 1 0 5.5 0a2.75 2.75 0 1 0 -5.5 0M431.7 195.8a2.75 2.75 0 1 0 5.5 0a2.75 2.75 0 1 0 -5.5 0M431.8 193.1a2.75 2.75 0 1 0 5.5 0a2.75 2.75 0 1 0 -5.5 0M432.0 190.4a2.75 2.75 0 1 0 5.5 0a2.75 2.75 0 1 0 -5.5 0M432.2 189.0a2.75 2.75 0 1 0 5.5 0a2.75 2.75 0 1 0 -5.5 0M432.3 202.6a2.75 2.75 0 1 0 5.5 0a2.75 2.75 0 1 0 -5.5 0M432.5 193.1a2.75 2.75 0 1 0 5.5 0a2.75 2.75 0 1 0 -5.5 0M432.7 194.4a2.75 2.75 0 1 0 5.5 0a2.75 2.75 0 1 0 -5.5 0M432.8 197.2a2.75 2.75 0 1 0 5.5 0a2.75 2.75 0 1 0 -5.5 0M433.0 201.2a2.75 2.75 0 1 0 5.5 0a2.75 2.75 0 1 0 -5.5 0M433.2 191.7a2.75 2.75 0 1 0 5.5 0a2.75 2.75 0 1 0 -5.5 0M433.3 202.6a2.75 2.75 0 1 0 5.5 0a2.75 2.75 0 1 0 -5.5 0M433.5 195.8a2.75 2.75 0 1 0 5.5 0a2.75 2.75 0 1 0 -5.5 0M433.7 193.1a2.75 2.75 0 1 0 5.5 0a2.75 2.75 0 1 0 -5.5 0M433.8 204.0a2.75 2.75 0 1 0 5.5 0a2.75 2.75 0 1 0 -5.5 0M434.0 198.5a2.75 2.75 0 1 0 5.5 0a2.75 2.75 0 1 0 -5.5 0M434.1 202.6a2.75 2.75 0 1 0 5.5 0a2.75 2.75 0 1 0 -5.5 0M434.3 197.2a2.75 2.75 0 1 0 5.5 0a2.75 2.75 0 1 0 -5.5 0M434.5 193.1a2.75 2.75 0 1 0 5.5 0a2.75 2.75 0 1 0 -5.5 0M434.6 191.7a2.75 2.75 0 1 0 5.5 0a2.75 2.75 0 1 0 -5.5 0M434.8 205.3a2.75 2.75 0 1 0 5.5 0a2.75 2.75 0 1 0 -5.5 0M435.0 201.2a2.75 2.75 0 1 0 5.5 0a2.75 2.75 0 1 0 -5.5 0M435.1 197.2a2.75 2.75 0 1 0 5.5 0a2.75 2.75 0 1 0 -5.5 0M435.3 194.4a2.75 2.75 0 1 0 5.5 0a2.75 2.75 0 1 0 -5.5 0M435.5 198.5a2.75 2.75 0 1 0 5.5 0a2.75 2.75 0 1 0 -5.5 0M435.6 202.6a2.75 2.75 0 1 0 5.5 0a2.75 2.75 0 1 0 -5.5 0M435.8 198.5a2.75 2.75 0 1 0 5.5 0a2.75 2.75 0 1 0 -5.5 0M436.0 199.9a2.75 2.75 0 1 0 5.5 0a2.75 2.75 0 1 0 -5.5 0M436.1 201.2a2.75 2.75 0 1 0 5.5 0a2.75 2.75 0 1 0 -5.5 0M436.3 202.6a2.75 2.75 0 1 0 5.5 0a2.75 2.75 0 1 0 -5.5 0M436.5 199.9a2.75 2.75 0 1 0 5.5 0a2.75 2.75 0 1 0 -5.5 0M436.6 199.9a2.75 2.75 0 1 0 5.5 0a2.75 2.75 0 1 0 -5.5 0M436.8 201.2a2.75 2.75 0 1 0 5.5 0a2.75 2.75 0 1 0 -5.5 0M436.9 201.2a2.75 2.75 0 1 0 5.5 0a2.75 2.75 0 1 0 -5.5 0M437.1 205.3a2.75 2.75 0 1 0 5.5 0a2.75 2.75 0 1 0 -5.5 0M437.3 202.6a2.75 2.75 0 1 0 5.5 0a2.75 2.75 0 1 0 -5.5 0M437.4 197.2a2.75 2.75 0 1 0 5.5 0a2.75 2.75 0 1 0 -5.5 0M437.6 202.6a2.75 2.75 0 1 0 5.5 0a2.75 2.75 0 1 0 -5.5 0M437.8 206.7a2.75 2.75 0 1 0 5.5 0a2.75 2.75 0 1 0 -5.5 0M437.9 197.2a2.75 2.75 0 1 0 5.5 0a2.75 2.75 0 1 0 -5.5 0M438.1 199.9a2.75 2.75 0 1 0 5.5 0a2.75 2.75 0 1 0 -5.5 0M438.3 195.8a2.75 2.75 0 1 0 5.5 0a2.75 2.75 0 1 0 -5.5 0M438.4 202.6a2.75 2.75 0 1 0 5.5 0a2.75 2.75 0 1 0 -5.5 0M438.6 204.0a2.75 2.75 0 1 0 5.5 0a2.75 2.75 0 1 0 -5.5 0M438.8 206.7a2.75 2.75 0 1 0 5.5 0a2.75 2.75 0 1 0 -5.5 0M438.9 198.5a2.75 2.75 0 1 0 5.5 0a2.75 2.75 0 1 0 -5.5 0M439.1 194.4a2.75 2.75 0 1 0 5.5 0a2.75 2.75 0 1 0 -5.5 0M439.3 205.3a2.75 2.75 0 1 0 5.5 0a2.75 2.75 0 1 0 -5.5 0M439.4 205.3a2.75 2.75 0 1 0 5.5 0a2.75 2.75 0 1 0 -5.5 0M439.6 201.2a2.75 2.75 0 1 0 5.5 0a2.75 2.75 0 1 0 -5.5 0M439.7 206.7a2.75 2.75 0 1 0 5.5 0a2.75 2.75 0 1 0 -5.5 0M439.9 204.0a2.75 2.75 0 1 0 5.5 0a2.75 2.75 0 1 0 -5.5 0M440.1 205.3a2.75 2.75 0 1 0 5.5 0a2.75 2.75 0 1 0 -5.5 0M440.2 202.6a2.75 2.75 0 1 0 5.5 0a2.75 2.75 0 1 0 -5.5 0M440.4 201.2a2.75 2.75 0 1 0 5.5 0a2.75 2.75 0 1 0 -5.5 0M440.6 204.0a2.75 2.75 0 1 0 5.5 0a2.75 2.75 0 1 0 -5.5 0M440.7 201.2a2.75 2.75 0 1 0 5.5 0a2.75 2.75 0 1 0 -5.5 0M440.9 205.3a2.75 2.75 0 1 0 5.5 0a2.75 2.75 0 1 0 -5.5 0M441.1 204.0a2.75 2.75 0 1 0 5.5 0a2.75 2.75 0 1 0 -5.5 0M441.2 210.8a2.75 2.75 0 1 0 5.5 0a2.75 2.75 0 1 0 -5.5 0M441.4 209.4a2.75 2.75 0 1 0 5.5 0a2.75 2.75 0 1 0 -5.5 0M441.6 202.6a2.75 2.75 0 1 0 5.5 0a2.75 2.75 0 1 0 -5.5 0M441.7 206.7a2.75 2.75 0 1 0 5.5 0a2.75 2.75 0 1 0 -5.5 0M441.9 202.6a2.75 2.75 0 1 0 5.5 0a2.75 2.75 0 1 0 -5.5 0M442.1 204.0a2.75 2.75 0 1 0 5.5 0a2.75 2.75 0 1 0 -5.5 0M442.2 201.2a2.75 2.75 0 1 0 5.5 0a2.75 2.75 0 1 0 -5.5 0M442.4 202.6a2.75 2.75 0 1 0 5.5 0a2.75 2.75 0 1 0 -5.5 0M442.5 202.6a2.75 2.75 0 1 0 5.5 0a2.75 2.75 0 1 0 -5.5 0M442.7 205.3a2.75 2.75 0 1 0 5.5 0a2.75 2.75 0 1 0 -5.5 0M442.9 208.0a2.75 2.75 0 1 0 5.5 0a2.75 2.75 0 1 0 -5.5 0M443.0 208.0a2.75 2.75 0 1 0 5.5 0a2.75 2.75 0 1 0 -5.5 0M443.2 206.7a2.75 2.75 0 1 0 5.5 0a2.75 2.75 0 1 0 -5.5 0M443.4 209.4a2.75 2.75 0 1 0 5.5 0a2.75 2.75 0 1 0 -5.5 0M443.5 208.0a2.75 2.75 0 1 0 5.5 0a2.75 2.75 0 1 0 -5.5 0M443.7 206.7a2.75 2.75 0 1 0 5.5 0a2.75 2.75 0 1 0 -5.5 0M443.9 205.3a2.75 2.75 0 1 0 5.5 0a2.75 2.75 0 1 0 -5.5 0M444.0 206.7a2.75 2.75 0 1 0 5.5 0a2.75 2.75 0 1 0 -5.5 0M444.2 212.1a2.75 2.75 0 1 0 5.5 0a2.75 2.75 0 1 0 -5.5 0M444.4 206.7a2.75 2.75 0 1 0 5.5 0a2.75 2.75 0 1 0 -5.5 0M444.5 205.3a2.75 2.75 0 1 0 5.5 0a2.75 2.75 0 1 0 -5.5 0M444.7 204.0a2.75 2.75 0 1 0 5.5 0a2.75 2.75 0 1 0 -5.5 0M444.9 205.3a2.75 2.75 0 1 0 5.5 0a2.75 2.75 0 1 0 -5.5 0M445.0 208.0a2.75 2.75 0 1 0 5.5 0a2.75 2.75 0 1 0 -5.5 0M445.2 209.4a2.75 2.75 0 1 0 5.5 0a2.75 2.75 0 1 0 -5.5 0M445.3 201.2a2.75 2.75 0 1 0 5.5 0a2.75 2.75 0 1 0 -5.5 0M445.5 205.3a2.75 2.75 0 1 0 5.5 0a2.75 2.75 0 1 0 -5.5 0M445.7 202.6a2.75 2.75 0 1 0 5.5 0a2.75 2.75 0 1 0 -5.5 0M445.8 201.2a2.75 2.75 0 1 0 5.5 0a2.75 2.75 0 1 0 -5.5 0M446.0 209.4a2.75 2.75 0 1 0 5.5 0a2.75 2.75 0 1 0 -5.5 0M446.2 206.7a2.75 2.75 0 1 0 5.5 0a2.75 2.75 0 1 0 -5.5 0M446.3 206.7a2.75 2.75 0 1 0 5.5 0a2.75 2.75 0 1 0 -5.5 0M446.5 206.7a2.75 2.75 0 1 0 5.5 0a2.75 2.75 0 1 0 -5.5 0M446.7 206.7a2.75 2.75 0 1 0 5.5 0a2.75 2.75 0 1 0 -5.5 0M446.8 206.7a2.75 2.75 0 1 0 5.5 0a2.75 2.75 0 1 0 -5.5 0M447.0 206.7a2.75 2.75 0 1 0 5.5 0a2.75 2.75 0 1 0 -5.5 0M447.2 212.1a2.75 2.75 0 1 0 5.5 0a2.75 2.75 0 1 0 -5.5 0M447.3 208.0a2.75 2.75 0 1 0 5.5 0a2.75 2.75 0 1 0 -5.5 0M447.5 209.4a2.75 2.75 0 1 0 5.5 0a2.75 2.75 0 1 0 -5.5 0M447.7 205.3a2.75 2.75 0 1 0 5.5 0a2.75 2.75 0 1 0 -5.5 0M447.8 208.0a2.75 2.75 0 1 0 5.5 0a2.75 2.75 0 1 0 -5.5 0M448.0 210.8a2.75 2.75 0 1 0 5.5 0a2.75 2.75 0 1 0 -5.5 0M448.2 206.7a2.75 2.75 0 1 0 5.5 0a2.75 2.75 0 1 0 -5.5 0M448.3 205.3a2.75 2.75 0 1 0 5.5 0a2.75 2.75 0 1 0 -5.5 0M448.5 208.0a2.75 2.75 0 1 0 5.5 0a2.75 2.75 0 1 0 -5.5 0M448.6 208.0a2.75 2.75 0 1 0 5.5 0a2.75 2.75 0 1 0 -5.5 0M448.8 210.8a2.75 2.75 0 1 0 5.5 0a2.75 2.75 0 1 0 -5.5 0M449.0 209.4a2.75 2.75 0 1 0 5.5 0a2.75 2.75 0 1 0 -5.5 0M449.1 205.3a2.75 2.75 0 1 0 5.5 0a2.75 2.75 0 1 0 -5.5 0M449.3 206.7a2.75 2.75 0 1 0 5.5 0a2.75 2.75 0 1 0 -5.5 0M449.5 204.0a2.75 2.75 0 1 0 5.5 0a2.75 2.75 0 1 0 -5.5 0M449.6 205.3a2.75 2.75 0 1 0 5.5 0a2.75 2.75 0 1 0 -5.5 0M449.8 209.4a2.75 2.75 0 1 0 5.5 0a2.75 2.75 0 1 0 -5.5 0M450.0 213.5a2.75 2.75 0 1 0 5.5 0a2.75 2.75 0 1 0 -5.5 0M450.1 206.7a2.75 2.75 0 1 0 5.5 0a2.75 2.75 0 1 0 -5.5 0M450.3 205.3a2.75 2.75 0 1 0 5.5 0a2.75 2.75 0 1 0 -5.5 0M450.5 213.5a2.75 2.75 0 1 0 5.5 0a2.75 2.75 0 1 0 -5.5 0M450.6 206.7a2.75 2.75 0 1 0 5.5 0a2.75 2.75 0 1 0 -5.5 0M450.8 209.4a2.75 2.75 0 1 0 5.5 0a2.75 2.75 0 1 0 -5.5 0M451.0 206.7a2.75 2.75 0 1 0 5.5 0a2.75 2.75 0 1 0 -5.5 0M451.1 209.4a2.75 2.75 0 1 0 5.5 0a2.75 2.75 0 1 0 -5.5 0M451.3 213.5a2.75 2.75 0 1 0 5.5 0a2.75 2.75 0 1 0 -5.5 0M451.4 209.4a2.75 2.75 0 1 0 5.5 0a2.75 2.75 0 1 0 -5.5 0M451.6 208.0a2.75 2.75 0 1 0 5.5 0a2.75 2.75 0 1 0 -5.5 0M451.8 208.0a2.75 2.75 0 1 0 5.5 0a2.75 2.75 0 1 0 -5.5 0M451.9 202.6a2.75 2.75 0 1 0 5.5 0a2.75 2.75 0 1 0 -5.5 0M452.1 210.8a2.75 2.75 0 1 0 5.5 0a2.75 2.75 0 1 0 -5.5 0M452.3 210.8a2.75 2.75 0 1 0 5.5 0a2.75 2.75 0 1 0 -5.5 0M452.4 210.8a2.75 2.75 0 1 0 5.5 0a2.75 2.75 0 1 0 -5.5 0M452.6 212.1a2.75 2.75 0 1 0 5.5 0a2.75 2.75 0 1 0 -5.5 0M452.8 212.1a2.75 2.75 0 1 0 5.5 0a2.75 2.75 0 1 0 -5.5 0M452.9 213.5a2.75 2.75 0 1 0 5.5 0a2.75 2.75 0 1 0 -5.5 0M453.1 213.5a2.75 2.75 0 1 0 5.5 0a2.75 2.75 0 1 0 -5.5 0M453.3 209.4a2.75 2.75 0 1 0 5.5 0a2.75 2.75 0 1 0 -5.5 0M453.4 206.7a2.75 2.75 0 1 0 5.5 0a2.75 2.75 0 1 0 -5.5 0M453.6 209.4a2.75 2.75 0 1 0 5.5 0a2.75 2.75 0 1 0 -5.5 0M453.8 210.8a2.75 2.75 0 1 0 5.5 0a2.75 2.75 0 1 0 -5.5 0M453.9 206.7a2.75 2.75 0 1 0 5.5 0a2.75 2.75 0 1 0 -5.5 0M454.1 206.7a2.75 2.75 0 1 0 5.5 0a2.75 2.75 0 1 0 -5.5 0M454.2 206.7a2.75 2.75 0 1 0 5.5 0a2.75 2.75 0 1 0 -5.5 0M454.4 208.0a2.75 2.75 0 1 0 5.5 0a2.75 2.75 0 1 0 -5.5 0M454.6 209.4a2.75 2.75 0 1 0 5.5 0a2.75 2.75 0 1 0 -5.5 0M454.7 213.5a2.75 2.75 0 1 0 5.5 0a2.75 2.75 0 1 0 -5.5 0M454.9 209.4a2.75 2.75 0 1 0 5.5 0a2.75 2.75 0 1 0 -5.5 0M455.1 208.0a2.75 2.75 0 1 0 5.5 0a2.75 2.75 0 1 0 -5.5 0M455.2 213.5a2.75 2.75 0 1 0 5.5 0a2.75 2.75 0 1 0 -5.5 0M455.4 209.4a2.75 2.75 0 1 0 5.5 0a2.75 2.75 0 1 0 -5.5 0M455.6 209.4a2.75 2.75 0 1 0 5.5 0a2.75 2.75 0 1 0 -5.5 0M455.7 210.8a2.75 2.75 0 1 0 5.5 0a2.75 2.75 0 1 0 -5.5 0M455.9 212.1a2.75 2.75 0 1 0 5.5 0a2.75 2.75 0 1 0 -5.5 0M456.1 210.8a2.75 2.75 0 1 0 5.5 0a2.75 2.75 0 1 0 -5.5 0M456.2 214.8a2.75 2.75 0 1 0 5.5 0a2.75 2.75 0 1 0 -5.5 0M456.4 209.4a2.75 2.75 0 1 0 5.5 0a2.75 2.75 0 1 0 -5.5 0M456.6 214.8a2.75 2.75 0 1 0 5.5 0a2.75 2.75 0 1 0 -5.5 0M456.7 214.8a2.75 2.75 0 1 0 5.5 0a2.75 2.75 0 1 0 -5.5 0M456.9 213.5a2.75 2.75 0 1 0 5.5 0a2.75 2.75 0 1 0 -5.5 0M457.0 212.1a2.75 2.75 0 1 0 5.5 0a2.75 2.75 0 1 0 -5.5 0M457.2 210.8a2.75 2.75 0 1 0 5.5 0a2.75 2.75 0 1 0 -5.5 0M457.4 210.8a2.75 2.75 0 1 0 5.5 0a2.75 2.75 0 1 0 -5.5 0M457.5 209.4a2.75 2.75 0 1 0 5.5 0a2.75 2.75 0 1 0 -5.5 0M457.7 213.5a2.75 2.75 0 1 0 5.5 0a2.75 2.75 0 1 0 -5.5 0M457.9 205.3a2.75 2.75 0 1 0 5.5 0a2.75 2.75 0 1 0 -5.5 0M458.0 212.1a2.75 2.75 0 1 0 5.5 0a2.75 2.75 0 1 0 -5.5 0M458.2 214.8a2.75 2.75 0 1 0 5.5 0a2.75 2.75 0 1 0 -5.5 0M458.4 213.5a2.75 2.75 0 1 0 5.5 0a2.75 2.75 0 1 0 -5.5 0M458.5 213.5a2.75 2.75 0 1 0 5.5 0a2.75 2.75 0 1 0 -5.5 0M458.7 198.5a2.75 2.75 0 1 0 5.5 0a2.75 2.75 0 1 0 -5.5 0M458.9 209.4a2.75 2.75 0 1 0 5.5 0a2.75 2.75 0 1 0 -5.5 0M459.0 210.8a2.75 2.75 0 1 0 5.5 0a2.75 2.75 0 1 0 -5.5 0M459.2 210.8a2.75 2.75 0 1 0 5.5 0a2.75 2.75 0 1 0 -5.5 0M459.4 209.4a2.75 2.75 0 1 0 5.5 0a2.75 2.75 0 1 0 -5.5 0M459.5 210.8a2.75 2.75 0 1 0 5.5 0a2.75 2.75 0 1 0 -5.5 0M459.7 212.1a2.75 2.75 0 1 0 5.5 0a2.75 2.75 0 1 0 -5.5 0M459.8 212.1a2.75 2.75 0 1 0 5.5 0a2.75 2.75 0 1 0 -5.5 0M460.0 212.1a2.75 2.75 0 1 0 5.5 0a2.75 2.75 0 1 0 -5.5 0M460.2 209.4a2.75 2.75 0 1 0 5.5 0a2.75 2.75 0 1 0 -5.5 0M460.3 216.2a2.75 2.75 0 1 0 5.5 0a2.75 2.75 0 1 0 -5.5 0M460.5 216.2a2.75 2.75 0 1 0 5.5 0a2.75 2.75 0 1 0 -5.5 0M460.7 209.4a2.75 2.75 0 1 0 5.5 0a2.75 2.75 0 1 0 -5.5 0M460.8 209.4a2.75 2.75 0 1 0 5.5 0a2.75 2.75 0 1 0 -5.5 0M461.0 205.3a2.75 2.75 0 1 0 5.5 0a2.75 2.75 0 1 0 -5.5 0M461.2 208.0a2.75 2.75 0 1 0 5.5 0a2.75 2.75 0 1 0 -5.5 0M461.3 214.8a2.75 2.75 0 1 0 5.5 0a2.75 2.75 0 1 0 -5.5 0M461.5 214.8a2.75 2.75 0 1 0 5.5 0a2.75 2.75 0 1 0 -5.5 0M461.7 212.1a2.75 2.75 0 1 0 5.5 0a2.75 2.75 0 1 0 -5.5 0M461.8 209.4a2.75 2.75 0 1 0 5.5 0a2.75 2.75 0 1 0 -5.5 0M462.0 212.1a2.75 2.75 0 1 0 5.5 0a2.75 2.75 0 1 0 -5.5 0M462.2 206.7a2.75 2.75 0 1 0 5.5 0a2.75 2.75 0 1 0 -5.5 0M462.3 214.8a2.75 2.75 0 1 0 5.5 0a2.75 2.75 0 1 0 -5.5 0M462.5 214.8a2.75 2.75 0 1 0 5.5 0a2.75 2.75 0 1 0 -5.5 0M462.6 213.5a2.75 2.75 0 1 0 5.5 0a2.75 2.75 0 1 0 -5.5 0M462.8 213.5a2.75 2.75 0 1 0 5.5 0a2.75 2.75 0 1 0 -5.5 0M463.0 213.5a2.75 2.75 0 1 0 5.5 0a2.75 2.75 0 1 0 -5.5 0M463.1 213.5a2.75 2.75 0 1 0 5.5 0a2.75 2.75 0 1 0 -5.5 0M463.3 212.1a2.75 2.75 0 1 0 5.5 0a2.75 2.75 0 1 0 -5.5 0M463.5 213.5a2.75 2.75 0 1 0 5.5 0a2.75 2.75 0 1 0 -5.5 0M463.6 210.8a2.75 2.75 0 1 0 5.5 0a2.75 2.75 0 1 0 -5.5 0M463.8 208.0a2.75 2.75 0 1 0 5.5 0a2.75 2.75 0 1 0 -5.5 0M464.0 212.1a2.75 2.75 0 1 0 5.5 0a2.75 2.75 0 1 0 -5.5 0M464.1 212.1a2.75 2.75 0 1 0 5.5 0a2.75 2.75 0 1 0 -5.5 0M464.3 210.8a2.75 2.75 0 1 0 5.5 0a2.75 2.75 0 1 0 -5.5 0M464.5 214.8a2.75 2.75 0 1 0 5.5 0a2.75 2.75 0 1 0 -5.5 0M464.6 213.5a2.75 2.75 0 1 0 5.5 0a2.75 2.75 0 1 0 -5.5 0M464.8 208.0a2.75 2.75 0 1 0 5.5 0a2.75 2.75 0 1 0 -5.5 0M465.0 208.0a2.75 2.75 0 1 0 5.5 0a2.75 2.75 0 1 0 -5.5 0M465.1 213.5a2.75 2.75 0 1 0 5.5 0a2.75 2.75 0 1 0 -5.5 0M465.3 210.8a2.75 2.75 0 1 0 5.5 0a2.75 2.75 0 1 0 -5.5 0M465.4 210.8a2.75 2.75 0 1 0 5.5 0a2.75 2.75 0 1 0 -5.5 0M465.6 214.8a2.75 2.75 0 1 0 5.5 0a2.75 2.75 0 1 0 -5.5 0M465.8 209.4a2.75 2.75 0 1 0 5.5 0a2.75 2.75 0 1 0 -5.5 0M465.9 210.8a2.75 2.75 0 1 0 5.5 0a2.75 2.75 0 1 0 -5.5 0M466.1 213.5a2.75 2.75 0 1 0 5.5 0a2.75 2.75 0 1 0 -5.5 0M466.3 213.5a2.75 2.75 0 1 0 5.5 0a2.75 2.75 0 1 0 -5.5 0M466.4 212.1a2.75 2.75 0 1 0 5.5 0a2.75 2.75 0 1 0 -5.5 0M466.6 210.8a2.75 2.75 0 1 0 5.5 0a2.75 2.75 0 1 0 -5.5 0M466.8 214.8a2.75 2.75 0 1 0 5.5 0a2.75 2.75 0 1 0 -5.5 0M466.9 212.1a2.75 2.75 0 1 0 5.5 0a2.75 2.75 0 1 0 -5.5 0M467.1 216.2a2.75 2.75 0 1 0 5.5 0a2.75 2.75 0 1 0 -5.5 0M467.3 210.8a2.75 2.75 0 1 0 5.5 0a2.75 2.75 0 1 0 -5.5 0M467.4 208.0a2.75 2.75 0 1 0 5.5 0a2.75 2.75 0 1 0 -5.5 0M467.6 213.5a2.75 2.75 0 1 0 5.5 0a2.75 2.75 0 1 0 -5.5 0M467.8 212.1a2.75 2.75 0 1 0 5.5 0a2.75 2.75 0 1 0 -5.5 0M467.9 209.4a2.75 2.75 0 1 0 5.5 0a2.75 2.75 0 1 0 -5.5 0M468.1 213.5a2.75 2.75 0 1 0 5.5 0a2.75 2.75 0 1 0 -5.5 0M468.2 208.0a2.75 2.75 0 1 0 5.5 0a2.75 2.75 0 1 0 -5.5 0M468.4 212.1a2.75 2.75 0 1 0 5.5 0a2.75 2.75 0 1 0 -5.5 0M468.6 208.0a2.75 2.75 0 1 0 5.5 0a2.75 2.75 0 1 0 -5.5 0M468.7 213.5a2.75 2.75 0 1 0 5.5 0a2.75 2.75 0 1 0 -5.5 0M468.9 213.5a2.75 2.75 0 1 0 5.5 0a2.75 2.75 0 1 0 -5.5 0M469.1 213.5a2.75 2.75 0 1 0 5.5 0a2.75 2.75 0 1 0 -5.5 0M469.2 210.8a2.75 2.75 0 1 0 5.5 0a2.75 2.75 0 1 0 -5.5 0M469.4 214.8a2.75 2.75 0 1 0 5.5 0a2.75 2.75 0 1 0 -5.5 0M469.6 206.7a2.75 2.75 0 1 0 5.5 0a2.75 2.75 0 1 0 -5.5 0M469.7 214.8a2.75 2.75 0 1 0 5.5 0a2.75 2.75 0 1 0 -5.5 0M469.9 212.1a2.75 2.75 0 1 0 5.5 0a2.75 2.75 0 1 0 -5.5 0M470.1 213.5a2.75 2.75 0 1 0 5.5 0a2.75 2.75 0 1 0 -5.5 0M470.2 210.8a2.75 2.75 0 1 0 5.5 0a2.75 2.75 0 1 0 -5.5 0M470.4 213.5a2.75 2.75 0 1 0 5.5 0a2.75 2.75 0 1 0 -5.5 0M470.6 214.8a2.75 2.75 0 1 0 5.5 0a2.75 2.75 0 1 0 -5.5 0M470.7 214.8a2.75 2.75 0 1 0 5.5 0a2.75 2.75 0 1 0 -5.5 0M470.9 213.5a2.75 2.75 0 1 0 5.5 0a2.75 2.75 0 1 0 -5.5 0M471.0 210.8a2.75 2.75 0 1 0 5.5 0a2.75 2.75 0 1 0 -5.5 0M471.2 214.8a2.75 2.75 0 1 0 5.5 0a2.75 2.75 0 1 0 -5.5 0M471.4 210.8a2.75 2.75 0 1 0 5.5 0a2.75 2.75 0 1 0 -5.5 0M471.5 213.5a2.75 2.75 0 1 0 5.5 0a2.75 2.75 0 1 0 -5.5 0M471.7 212.1a2.75 2.75 0 1 0 5.5 0a2.75 2.75 0 1 0 -5.5 0M471.9 213.5a2.75 2.75 0 1 0 5.5 0a2.75 2.75 0 1 0 -5.5 0M472.0 214.8a2.75 2.75 0 1 0 5.5 0a2.75 2.75 0 1 0 -5.5 0M472.2 209.4a2.75 2.75 0 1 0 5.5 0a2.75 2.75 0 1 0 -5.5 0M472.4 213.5a2.75 2.75 0 1 0 5.5 0a2.75 2.75 0 1 0 -5.5 0M472.5 214.8a2.75 2.75 0 1 0 5.5 0a2.75 2.75 0 1 0 -5.5 0M472.7 214.8a2.75 2.75 0 1 0 5.5 0a2.75 2.75 0 1 0 -5.5 0M472.9 213.5a2.75 2.75 0 1 0 5.5 0a2.75 2.75 0 1 0 -5.5 0M473.0 213.5a2.75 2.75 0 1 0 5.5 0a2.75 2.75 0 1 0 -5.5 0M473.2 214.8a2.75 2.75 0 1 0 5.5 0a2.75 2.75 0 1 0 -5.5 0M473.4 209.4a2.75 2.75 0 1 0 5.5 0a2.75 2.75 0 1 0 -5.5 0M473.5 210.8a2.75 2.75 0 1 0 5.5 0a2.75 2.75 0 1 0 -5.5 0M473.7 214.8a2.75 2.75 0 1 0 5.5 0a2.75 2.75 0 1 0 -5.5 0M473.8 214.8a2.75 2.75 0 1 0 5.5 0a2.75 2.75 0 1 0 -5.5 0M474.0 214.8a2.75 2.75 0 1 0 5.5 0a2.75 2.75 0 1 0 -5.5 0M474.2 209.4a2.75 2.75 0 1 0 5.5 0a2.75 2.75 0 1 0 -5.5 0M474.3 212.1a2.75 2.75 0 1 0 5.5 0a2.75 2.75 0 1 0 -5.5 0M474.5 209.4a2.75 2.75 0 1 0 5.5 0a2.75 2.75 0 1 0 -5.5 0M474.7 213.5a2.75 2.75 0 1 0 5.5 0a2.75 2.75 0 1 0 -5.5 0M474.8 210.8a2.75 2.75 0 1 0 5.5 0a2.75 2.75 0 1 0 -5.5 0M475.0 214.8a2.75 2.75 0 1 0 5.5 0a2.75 2.75 0 1 0 -5.5 0M475.2 213.5a2.75 2.75 0 1 0 5.5 0a2.75 2.75 0 1 0 -5.5 0M475.3 213.5a2.75 2.75 0 1 0 5.5 0a2.75 2.75 0 1 0 -5.5 0M475.5 213.5a2.75 2.75 0 1 0 5.5 0a2.75 2.75 0 1 0 -5.5 0M475.7 214.8a2.75 2.75 0 1 0 5.5 0a2.75 2.75 0 1 0 -5.5 0M475.8 216.2a2.75 2.75 0 1 0 5.5 0a2.75 2.75 0 1 0 -5.5 0M476.0 212.1a2.75 2.75 0 1 0 5.5 0a2.75 2.75 0 1 0 -5.5 0M476.2 209.4a2.75 2.75 0 1 0 5.5 0a2.75 2.75 0 1 0 -5.5 0M476.3 214.8a2.75 2.75 0 1 0 5.5 0a2.75 2.75 0 1 0 -5.5 0M476.5 209.4a2.75 2.75 0 1 0 5.5 0a2.75 2.75 0 1 0 -5.5 0M476.6 213.5a2.75 2.75 0 1 0 5.5 0a2.75 2.75 0 1 0 -5.5 0M476.8 213.5a2.75 2.75 0 1 0 5.5 0a2.75 2.75 0 1 0 -5.5 0M477.0 214.8a2.75 2.75 0 1 0 5.5 0a2.75 2.75 0 1 0 -5.5 0M477.1 210.8a2.75 2.75 0 1 0 5.5 0a2.75 2.75 0 1 0 -5.5 0M477.3 214.8a2.75 2.75 0 1 0 5.5 0a2.75 2.75 0 1 0 -5.5 0M477.5 212.1a2.75 2.75 0 1 0 5.5 0a2.75 2.75 0 1 0 -5.5 0M477.6 213.5a2.75 2.75 0 1 0 5.5 0a2.75 2.75 0 1 0 -5.5 0M477.8 212.1a2.75 2.75 0 1 0 5.5 0a2.75 2.75 0 1 0 -5.5 0M478.0 214.8a2.75 2.75 0 1 0 5.5 0a2.75 2.75 0 1 0 -5.5 0M478.1 214.8a2.75 2.75 0 1 0 5.5 0a2.75 2.75 0 1 0 -5.5 0M478.3 214.8a2.75 2.75 0 1 0 5.5 0a2.75 2.75 0 1 0 -5.5 0M478.5 213.5a2.75 2.75 0 1 0 5.5 0a2.75 2.75 0 1 0 -5.5 0M478.6 213.5a2.75 2.75 0 1 0 5.5 0a2.75 2.75 0 1 0 -5.5 0M478.8 213.5a2.75 2.75 0 1 0 5.5 0a2.75 2.75 0 1 0 -5.5 0M479.0 213.5a2.75 2.75 0 1 0 5.5 0a2.75 2.75 0 1 0 -5.5 0M479.1 214.8a2.75 2.75 0 1 0 5.5 0a2.75 2.75 0 1 0 -5.5 0M479.3 210.8a2.75 2.75 0 1 0 5.5 0a2.75 2.75 0 1 0 -5.5 0M479.4 214.8a2.75 2.75 0 1 0 5.5 0a2.75 2.75 0 1 0 -5.5 0M479.6 216.2a2.75 2.75 0 1 0 5.5 0a2.75 2.75 0 1 0 -5.5 0M479.8 212.1a2.75 2.75 0 1 0 5.5 0a2.75 2.75 0 1 0 -5.5 0M479.9 212.1a2.75 2.75 0 1 0 5.5 0a2.75 2.75 0 1 0 -5.5 0M480.1 214.8a2.75 2.75 0 1 0 5.5 0a2.75 2.75 0 1 0 -5.5 0M480.3 214.8a2.75 2.75 0 1 0 5.5 0a2.75 2.75 0 1 0 -5.5 0M480.4 216.2a2.75 2.75 0 1 0 5.5 0a2.75 2.75 0 1 0 -5.5 0M480.6 210.8a2.75 2.75 0 1 0 5.5 0a2.75 2.75 0 1 0 -5.5 0M480.8 213.5a2.75 2.75 0 1 0 5.5 0a2.75 2.75 0 1 0 -5.5 0M480.9 209.4a2.75 2.75 0 1 0 5.5 0a2.75 2.75 0 1 0 -5.5 0M481.1 214.8a2.75 2.75 0 1 0 5.5 0a2.75 2.75 0 1 0 -5.5 0M481.3 213.5a2.75 2.75 0 1 0 5.5 0a2.75 2.75 0 1 0 -5.5 0M481.4 214.8a2.75 2.75 0 1 0 5.5 0a2.75 2.75 0 1 0 -5.5 0M481.6 214.8a2.75 2.75 0 1 0 5.5 0a2.75 2.75 0 1 0 -5.5 0M481.8 216.2a2.75 2.75 0 1 0 5.5 0a2.75 2.75 0 1 0 -5.5 0M481.9 210.8a2.75 2.75 0 1 0 5.5 0a2.75 2.75 0 1 0 -5.5 0M482.1 210.8a2.75 2.75 0 1 0 5.5 0a2.75 2.75 0 1 0 -5.5 0M482.2 210.8a2.75 2.75 0 1 0 5.5 0a2.75 2.75 0 1 0 -5.5 0M482.4 213.5a2.75 2.75 0 1 0 5.5 0a2.75 2.75 0 1 0 -5.5 0M482.6 216.2a2.75 2.75 0 1 0 5.5 0a2.75 2.75 0 1 0 -5.5 0M482.7 214.8a2.75 2.75 0 1 0 5.5 0a2.75 2.75 0 1 0 -5.5 0M482.9 213.5a2.75 2.75 0 1 0 5.5 0a2.75 2.75 0 1 0 -5.5 0M483.1 210.8a2.75 2.75 0 1 0 5.5 0a2.75 2.75 0 1 0 -5.5 0M483.2 214.8a2.75 2.75 0 1 0 5.5 0a2.75 2.75 0 1 0 -5.5 0M483.4 212.1a2.75 2.75 0 1 0 5.5 0a2.75 2.75 0 1 0 -5.5 0M483.6 214.8a2.75 2.75 0 1 0 5.5 0a2.75 2.75 0 1 0 -5.5 0M483.7 212.1a2.75 2.75 0 1 0 5.5 0a2.75 2.75 0 1 0 -5.5 0M483.9 214.8a2.75 2.75 0 1 0 5.5 0a2.75 2.75 0 1 0 -5.5 0M484.1 210.8a2.75 2.75 0 1 0 5.5 0a2.75 2.75 0 1 0 -5.5 0M484.2 212.1a2.75 2.75 0 1 0 5.5 0a2.75 2.75 0 1 0 -5.5 0M484.4 213.5a2.75 2.75 0 1 0 5.5 0a2.75 2.75 0 1 0 -5.5 0M484.6 213.5a2.75 2.75 0 1 0 5.5 0a2.75 2.75 0 1 0 -5.5 0M484.7 212.1a2.75 2.75 0 1 0 5.5 0a2.75 2.75 0 1 0 -5.5 0M484.9 213.5a2.75 2.75 0 1 0 5.5 0a2.75 2.75 0 1 0 -5.5 0M485.1 213.5a2.75 2.75 0 1 0 5.5 0a2.75 2.75 0 1 0 -5.5 0M485.2 214.8a2.75 2.75 0 1 0 5.5 0a2.75 2.75 0 1 0 -5.5 0M485.4 214.8a2.75 2.75 0 1 0 5.5 0a2.75 2.75 0 1 0 -5.5 0M485.5 209.4a2.75 2.75 0 1 0 5.5 0a2.75 2.75 0 1 0 -5.5 0M485.7 213.5a2.75 2.75 0 1 0 5.5 0a2.75 2.75 0 1 0 -5.5 0M485.9 212.1a2.75 2.75 0 1 0 5.5 0a2.75 2.75 0 1 0 -5.5 0M486.0 214.8a2.75 2.75 0 1 0 5.5 0a2.75 2.75 0 1 0 -5.5 0M486.2 209.4a2.75 2.75 0 1 0 5.5 0a2.75 2.75 0 1 0 -5.5 0M486.4 216.2a2.75 2.75 0 1 0 5.5 0a2.75 2.75 0 1 0 -5.5 0M486.5 213.5a2.75 2.75 0 1 0 5.5 0a2.75 2.75 0 1 0 -5.5 0M486.7 216.2a2.75 2.75 0 1 0 5.5 0a2.75 2.75 0 1 0 -5.5 0M486.9 214.8a2.75 2.75 0 1 0 5.5 0a2.75 2.75 0 1 0 -5.5 0M487.0 212.1a2.75 2.75 0 1 0 5.5 0a2.75 2.75 0 1 0 -5.5 0M487.2 214.8a2.75 2.75 0 1 0 5.5 0a2.75 2.75 0 1 0 -5.5 0M487.4 214.8a2.75 2.75 0 1 0 5.5 0a2.75 2.75 0 1 0 -5.5 0M487.5 206.7a2.75 2.75 0 1 0 5.5 0a2.75 2.75 0 1 0 -5.5 0M487.7 214.8a2.75 2.75 0 1 0 5.5 0a2.75 2.75 0 1 0 -5.5 0M487.9 210.8a2.75 2.75 0 1 0 5.5 0a2.75 2.75 0 1 0 -5.5 0M488.0 214.8a2.75 2.75 0 1 0 5.5 0a2.75 2.75 0 1 0 -5.5 0M488.2 214.8a2.75 2.75 0 1 0 5.5 0a2.75 2.75 0 1 0 -5.5 0M488.3 216.2a2.75 2.75 0 1 0 5.5 0a2.75 2.75 0 1 0 -5.5 0M488.5 214.8a2.75 2.75 0 1 0 5.5 0a2.75 2.75 0 1 0 -5.5 0M488.7 216.2a2.75 2.75 0 1 0 5.5 0a2.75 2.75 0 1 0 -5.5 0M488.8 212.1a2.75 2.75 0 1 0 5.5 0a2.75 2.75 0 1 0 -5.5 0M489.0 214.8a2.75 2.75 0 1 0 5.5 0a2.75 2.75 0 1 0 -5.5 0M489.2 214.8a2.75 2.75 0 1 0 5.5 0a2.75 2.75 0 1 0 -5.5 0M489.3 214.8a2.75 2.75 0 1 0 5.5 0a2.75 2.75 0 1 0 -5.5 0M489.5 214.8a2.75 2.75 0 1 0 5.5 0a2.75 2.75 0 1 0 -5.5 0M489.7 216.2a2.75 2.75 0 1 0 5.5 0a2.75 2.75 0 1 0 -5.5 0M489.8 212.1a2.75 2.75 0 1 0 5.5 0a2.75 2.75 0 1 0 -5.5 0M490.0 212.1a2.75 2.75 0 1 0 5.5 0a2.75 2.75 0 1 0 -5.5 0M490.2 214.8a2.75 2.75 0 1 0 5.5 0a2.75 2.75 0 1 0 -5.5 0M490.3 216.2a2.75 2.75 0 1 0 5.5 0a2.75 2.75 0 1 0 -5.5 0M490.5 210.8a2.75 2.75 0 1 0 5.5 0a2.75 2.75 0 1 0 -5.5 0M490.7 214.8a2.75 2.75 0 1 0 5.5 0a2.75 2.75 0 1 0 -5.5 0M490.8 214.8a2.75 2.75 0 1 0 5.5 0a2.75 2.75 0 1 0 -5.5 0M491.0 214.8a2.75 2.75 0 1 0 5.5 0a2.75 2.75 0 1 0 -5.5 0M491.1 214.8a2.75 2.75 0 1 0 5.5 0a2.75 2.75 0 1 0 -5.5 0M491.3 212.1a2.75 2.75 0 1 0 5.5 0a2.75 2.75 0 1 0 -5.5 0M491.5 213.5a2.75 2.75 0 1 0 5.5 0a2.75 2.75 0 1 0 -5.5 0M491.6 214.8a2.75 2.75 0 1 0 5.5 0a2.75 2.75 0 1 0 -5.5 0M491.8 214.8a2.75 2.75 0 1 0 5.5 0a2.75 2.75 0 1 0 -5.5 0M492.0 210.8a2.75 2.75 0 1 0 5.5 0a2.75 2.75 0 1 0 -5.5 0M492.1 216.2a2.75 2.75 0 1 0 5.5 0a2.75 2.75 0 1 0 -5.5 0M492.3 216.2a2.75 2.75 0 1 0 5.5 0a2.75 2.75 0 1 0 -5.5 0M492.5 210.8a2.75 2.75 0 1 0 5.5 0a2.75 2.75 0 1 0 -5.5 0M492.6 212.1a2.75 2.75 0 1 0 5.5 0a2.75 2.75 0 1 0 -5.5 0M492.8 216.2a2.75 2.75 0 1 0 5.5 0a2.75 2.75 0 1 0 -5.5 0M493.0 213.5a2.75 2.75 0 1 0 5.5 0a2.75 2.75 0 1 0 -5.5 0M493.1 212.1a2.75 2.75 0 1 0 5.5 0a2.75 2.75 0 1 0 -5.5 0M493.3 212.1a2.75 2.75 0 1 0 5.5 0a2.75 2.75 0 1 0 -5.5 0M493.5 212.1a2.75 2.75 0 1 0 5.5 0a2.75 2.75 0 1 0 -5.5 0M493.6 214.8a2.75 2.75 0 1 0 5.5 0a2.75 2.75 0 1 0 -5.5 0M493.8 209.4a2.75 2.75 0 1 0 5.5 0a2.75 2.75 0 1 0 -5.5 0M493.9 213.5a2.75 2.75 0 1 0 5.5 0a2.75 2.75 0 1 0 -5.5 0M494.1 210.8a2.75 2.75 0 1 0 5.5 0a2.75 2.75 0 1 0 -5.5 0M494.3 213.5a2.75 2.75 0 1 0 5.5 0a2.75 2.75 0 1 0 -5.5 0M494.4 209.4a2.75 2.75 0 1 0 5.5 0a2.75 2.75 0 1 0 -5.5 0M494.6 210.8a2.75 2.75 0 1 0 5.5 0a2.75 2.75 0 1 0 -5.5 0M494.8 216.2a2.75 2.75 0 1 0 5.5 0a2.75 2.75 0 1 0 -5.5 0M494.9 210.8a2.75 2.75 0 1 0 5.5 0a2.75 2.75 0 1 0 -5.5 0M495.1 213.5a2.75 2.75 0 1 0 5.5 0a2.75 2.75 0 1 0 -5.5 0M495.3 214.8a2.75 2.75 0 1 0 5.5 0a2.75 2.75 0 1 0 -5.5 0M495.4 213.5a2.75 2.75 0 1 0 5.5 0a2.75 2.75 0 1 0 -5.5 0M495.6 213.5a2.75 2.75 0 1 0 5.5 0a2.75 2.75 0 1 0 -5.5 0M495.8 210.8a2.75 2.75 0 1 0 5.5 0a2.75 2.75 0 1 0 -5.5 0M495.9 216.2a2.75 2.75 0 1 0 5.5 0a2.75 2.75 0 1 0 -5.5 0M496.1 213.5a2.75 2.75 0 1 0 5.5 0a2.75 2.75 0 1 0 -5.5 0M496.3 214.8a2.75 2.75 0 1 0 5.5 0a2.75 2.75 0 1 0 -5.5 0M496.4 209.4a2.75 2.75 0 1 0 5.5 0a2.75 2.75 0 1 0 -5.5 0M496.6 212.1a2.75 2.75 0 1 0 5.5 0a2.75 2.75 0 1 0 -5.5 0M496.7 213.5a2.75 2.75 0 1 0 5.5 0a2.75 2.75 0 1 0 -5.5 0M496.9 210.8a2.75 2.75 0 1 0 5.5 0a2.75 2.75 0 1 0 -5.5 0M497.1 212.1a2.75 2.75 0 1 0 5.5 0a2.75 2.75 0 1 0 -5.5 0M497.2 213.5a2.75 2.75 0 1 0 5.5 0a2.75 2.75 0 1 0 -5.5 0M497.4 216.2a2.75 2.75 0 1 0 5.5 0a2.75 2.75 0 1 0 -5.5 0M497.6 209.4a2.75 2.75 0 1 0 5.5 0a2.75 2.75 0 1 0 -5.5 0M497.7 205.3a2.75 2.75 0 1 0 5.5 0a2.75 2.75 0 1 0 -5.5 0M497.9 213.5a2.75 2.75 0 1 0 5.5 0a2.75 2.75 0 1 0 -5.5 0M498.1 214.8a2.75 2.75 0 1 0 5.5 0a2.75 2.75 0 1 0 -5.5 0M498.2 212.1a2.75 2.75 0 1 0 5.5 0a2.75 2.75 0 1 0 -5.5 0M498.4 214.8a2.75 2.75 0 1 0 5.5 0a2.75 2.75 0 1 0 -5.5 0M498.6 210.8a2.75 2.75 0 1 0 5.5 0a2.75 2.75 0 1 0 -5.5 0M498.7 214.8a2.75 2.75 0 1 0 5.5 0a2.75 2.75 0 1 0 -5.5 0M498.9 212.1a2.75 2.75 0 1 0 5.5 0a2.75 2.75 0 1 0 -5.5 0M499.1 212.1a2.75 2.75 0 1 0 5.5 0a2.75 2.75 0 1 0 -5.5 0M499.2 210.8a2.75 2.75 0 1 0 5.5 0a2.75 2.75 0 1 0 -5.5 0M499.4 213.5a2.75 2.75 0 1 0 5.5 0a2.75 2.75 0 1 0 -5.5 0M499.5 209.4a2.75 2.75 0 1 0 5.5 0a2.75 2.75 0 1 0 -5.5 0M499.7 206.7a2.75 2.75 0 1 0 5.5 0a2.75 2.75 0 1 0 -5.5 0M499.9 214.8a2.75 2.75 0 1 0 5.5 0a2.75 2.75 0 1 0 -5.5 0M500.0 213.5a2.75 2.75 0 1 0 5.5 0a2.75 2.75 0 1 0 -5.5 0M500.2 213.5a2.75 2.75 0 1 0 5.5 0a2.75 2.75 0 1 0 -5.5 0M500.4 206.7a2.75 2.75 0 1 0 5.5 0a2.75 2.75 0 1 0 -5.5 0M500.5 212.1a2.75 2.75 0 1 0 5.5 0a2.75 2.75 0 1 0 -5.5 0M500.7 212.1a2.75 2.75 0 1 0 5.5 0a2.75 2.75 0 1 0 -5.5 0M500.9 213.5a2.75 2.75 0 1 0 5.5 0a2.75 2.75 0 1 0 -5.5 0M501.0 212.1a2.75 2.75 0 1 0 5.5 0a2.75 2.75 0 1 0 -5.5 0M501.2 208.0a2.75 2.75 0 1 0 5.5 0a2.75 2.75 0 1 0 -5.5 0M501.4 212.1a2.75 2.75 0 1 0 5.5 0a2.75 2.75 0 1 0 -5.5 0M501.5 216.2a2.75 2.75 0 1 0 5.5 0a2.75 2.75 0 1 0 -5.5 0M501.7 210.8a2.75 2.75 0 1 0 5.5 0a2.75 2.75 0 1 0 -5.5 0M501.9 212.1a2.75 2.75 0 1 0 5.5 0a2.75 2.75 0 1 0 -5.5 0M502.0 210.8a2.75 2.75 0 1 0 5.5 0a2.75 2.75 0 1 0 -5.5 0M502.2 213.5a2.75 2.75 0 1 0 5.5 0a2.75 2.75 0 1 0 -5.5 0M502.3 208.0a2.75 2.75 0 1 0 5.5 0a2.75 2.75 0 1 0 -5.5 0M502.5 209.4a2.75 2.75 0 1 0 5.5 0a2.75 2.75 0 1 0 -5.5 0M502.7 212.1a2.75 2.75 0 1 0 5.5 0a2.75 2.75 0 1 0 -5.5 0M502.8 209.4a2.75 2.75 0 1 0 5.5 0a2.75 2.75 0 1 0 -5.5 0M503.0 210.8a2.75 2.75 0 1 0 5.5 0a2.75 2.75 0 1 0 -5.5 0M503.2 213.5a2.75 2.75 0 1 0 5.5 0a2.75 2.75 0 1 0 -5.5 0M503.3 208.0a2.75 2.75 0 1 0 5.5 0a2.75 2.75 0 1 0 -5.5 0M503.5 210.8a2.75 2.75 0 1 0 5.5 0a2.75 2.75 0 1 0 -5.5 0M503.7 209.4a2.75 2.75 0 1 0 5.5 0a2.75 2.75 0 1 0 -5.5 0M503.8 209.4a2.75 2.75 0 1 0 5.5 0a2.75 2.75 0 1 0 -5.5 0M504.0 212.1a2.75 2.75 0 1 0 5.5 0a2.75 2.75 0 1 0 -5.5 0M504.2 212.1a2.75 2.75 0 1 0 5.5 0a2.75 2.75 0 1 0 -5.5 0M504.3 213.5a2.75 2.75 0 1 0 5.5 0a2.75 2.75 0 1 0 -5.5 0M504.5 210.8a2.75 2.75 0 1 0 5.5 0a2.75 2.75 0 1 0 -5.5 0M504.7 206.7a2.75 2.75 0 1 0 5.5 0a2.75 2.75 0 1 0 -5.5 0M504.8 212.1a2.75 2.75 0 1 0 5.5 0a2.75 2.75 0 1 0 -5.5 0M505.0 212.1a2.75 2.75 0 1 0 5.5 0a2.75 2.75 0 1 0 -5.5 0M505.1 209.4a2.75 2.75 0 1 0 5.5 0a2.75 2.75 0 1 0 -5.5 0M505.3 208.0a2.75 2.75 0 1 0 5.5 0a2.75 2.75 0 1 0 -5.5 0M505.5 212.1a2.75 2.75 0 1 0 5.5 0a2.75 2.75 0 1 0 -5.5 0M505.6 205.3a2.75 2.75 0 1 0 5.5 0a2.75 2.75 0 1 0 -5.5 0M505.8 204.0a2.75 2.75 0 1 0 5.5 0a2.75 2.75 0 1 0 -5.5 0M506.0 204.0a2.75 2.75 0 1 0 5.5 0a2.75 2.75 0 1 0 -5.5 0M506.1 205.3a2.75 2.75 0 1 0 5.5 0a2.75 2.75 0 1 0 -5.5 0M506.3 212.1a2.75 2.75 0 1 0 5.5 0a2.75 2.75 0 1 0 -5.5 0M506.5 209.4a2.75 2.75 0 1 0 5.5 0a2.75 2.75 0 1 0 -5.5 0M506.6 208.0a2.75 2.75 0 1 0 5.5 0a2.75 2.75 0 1 0 -5.5 0M506.8 209.4a2.75 2.75 0 1 0 5.5 0a2.75 2.75 0 1 0 -5.5 0M507.0 202.6a2.75 2.75 0 1 0 5.5 0a2.75 2.75 0 1 0 -5.5 0M507.1 205.3a2.75 2.75 0 1 0 5.5 0a2.75 2.75 0 1 0 -5.5 0M507.3 206.7a2.75 2.75 0 1 0 5.5 0a2.75 2.75 0 1 0 -5.5 0M507.5 204.0a2.75 2.75 0 1 0 5.5 0a2.75 2.75 0 1 0 -5.5 0M507.6 209.4a2.75 2.75 0 1 0 5.5 0a2.75 2.75 0 1 0 -5.5 0M507.8 209.4a2.75 2.75 0 1 0 5.5 0a2.75 2.75 0 1 0 -5.5 0M507.9 208.0a2.75 2.75 0 1 0 5.5 0a2.75 2.75 0 1 0 -5.5 0M508.1 204.0a2.75 2.75 0 1 0 5.5 0a2.75 2.75 0 1 0 -5.5 0M508.3 204.0a2.75 2.75 0 1 0 5.5 0a2.75 2.75 0 1 0 -5.5 0M508.4 202.6a2.75 2.75 0 1 0 5.5 0a2.75 2.75 0 1 0 -5.5 0M508.6 201.2a2.75 2.75 0 1 0 5.5 0a2.75 2.75 0 1 0 -5.5 0M508.8 209.4a2.75 2.75 0 1 0 5.5 0a2.75 2.75 0 1 0 -5.5 0M508.9 206.7a2.75 2.75 0 1 0 5.5 0a2.75 2.75 0 1 0 -5.5 0M509.1 204.0a2.75 2.75 0 1 0 5.5 0a2.75 2.75 0 1 0 -5.5 0M509.3 209.4a2.75 2.75 0 1 0 5.5 0a2.75 2.75 0 1 0 -5.5 0M509.4 205.3a2.75 2.75 0 1 0 5.5 0a2.75 2.75 0 1 0 -5.5 0M509.6 199.9a2.75 2.75 0 1 0 5.5 0a2.75 2.75 0 1 0 -5.5 0M509.8 198.5a2.75 2.75 0 1 0 5.5 0a2.75 2.75 0 1 0 -5.5 0M509.9 198.5a2.75 2.75 0 1 0 5.5 0a2.75 2.75 0 1 0 -5.5 0M510.1 202.6a2.75 2.75 0 1 0 5.5 0a2.75 2.75 0 1 0 -5.5 0M510.3 204.0a2.75 2.75 0 1 0 5.5 0a2.75 2.75 0 1 0 -5.5 0M510.4 198.5a2.75 2.75 0 1 0 5.5 0a2.75 2.75 0 1 0 -5.5 0M510.6 204.0a2.75 2.75 0 1 0 5.5 0a2.75 2.75 0 1 0 -5.5 0M510.7 201.2a2.75 2.75 0 1 0 5.5 0a2.75 2.75 0 1 0 -5.5 0M510.9 197.2a2.75 2.75 0 1 0 5.5 0a2.75 2.75 0 1 0 -5.5 0M511.1 202.6a2.75 2.75 0 1 0 5.5 0a2.75 2.75 0 1 0 -5.5 0M511.2 204.0a2.75 2.75 0 1 0 5.5 0a2.75 2.75 0 1 0 -5.5 0M511.4 201.2a2.75 2.75 0 1 0 5.5 0a2.75 2.75 0 1 0 -5.5 0M511.6 198.5a2.75 2.75 0 1 0 5.5 0a2.75 2.75 0 1 0 -5.5 0M511.7 198.5a2.75 2.75 0 1 0 5.5 0a2.75 2.75 0 1 0 -5.5 0M511.9 199.9a2.75 2.75 0 1 0 5.5 0a2.75 2.75 0 1 0 -5.5 0M512.1 197.2a2.75 2.75 0 1 0 5.5 0a2.75 2.75 0 1 0 -5.5 0M512.2 206.7a2.75 2.75 0 1 0 5.5 0a2.75 2.75 0 1 0 -5.5 0M512.4 204.0a2.75 2.75 0 1 0 5.5 0a2.75 2.75 0 1 0 -5.5 0M512.6 198.5a2.75 2.75 0 1 0 5.5 0a2.75 2.75 0 1 0 -5.5 0M512.7 202.6a2.75 2.75 0 1 0 5.5 0a2.75 2.75 0 1 0 -5.5 0M512.9 205.3a2.75 2.75 0 1 0 5.5 0a2.75 2.75 0 1 0 -5.5 0M513.1 204.0a2.75 2.75 0 1 0 5.5 0a2.75 2.75 0 1 0 -5.5 0M513.2 202.6a2.75 2.75 0 1 0 5.5 0a2.75 2.75 0 1 0 -5.5 0M513.4 198.5a2.75 2.75 0 1 0 5.5 0a2.75 2.75 0 1 0 -5.5 0M513.5 202.6a2.75 2.75 0 1 0 5.5 0a2.75 2.75 0 1 0 -5.5 0M513.7 197.2a2.75 2.75 0 1 0 5.5 0a2.75 2.75 0 1 0 -5.5 0M513.9 189.0a2.75 2.75 0 1 0 5.5 0a2.75 2.75 0 1 0 -5.5 0M514.0 197.2a2.75 2.75 0 1 0 5.5 0a2.75 2.75 0 1 0 -5.5 0M514.2 190.4a2.75 2.75 0 1 0 5.5 0a2.75 2.75 0 1 0 -5.5 0M514.4 195.8a2.75 2.75 0 1 0 5.5 0a2.75 2.75 0 1 0 -5.5 0M514.5 201.2a2.75 2.75 0 1 0 5.5 0a2.75 2.75 0 1 0 -5.5 0M514.7 197.2a2.75 2.75 0 1 0 5.5 0a2.75 2.75 0 1 0 -5.5 0M514.9 199.9a2.75 2.75 0 1 0 5.5 0a2.75 2.75 0 1 0 -5.5 0M515.0 191.7a2.75 2.75 0 1 0 5.5 0a2.75 2.75 0 1 0 -5.5 0M515.2 199.9a2.75 2.75 0 1 0 5.5 0a2.75 2.75 0 1 0 -5.5 0M515.4 187.6a2.75 2.75 0 1 0 5.5 0a2.75 2.75 0 1 0 -5.5 0M515.5 191.7a2.75 2.75 0 1 0 5.5 0a2.75 2.75 0 1 0 -5.5 0M515.7 204.0a2.75 2.75 0 1 0 5.5 0a2.75 2.75 0 1 0 -5.5 0M515.9 190.4a2.75 2.75 0 1 0 5.5 0a2.75 2.75 0 1 0 -5.5 0M516.0 186.3a2.75 2.75 0 1 0 5.5 0a2.75 2.75 0 1 0 -5.5 0M516.2 197.2a2.75 2.75 0 1 0 5.5 0a2.75 2.75 0 1 0 -5.5 0M516.3 187.6a2.75 2.75 0 1 0 5.5 0a2.75 2.75 0 1 0 -5.5 0M516.5 201.2a2.75 2.75 0 1 0 5.5 0a2.75 2.75 0 1 0 -5.5 0M516.7 190.4a2.75 2.75 0 1 0 5.5 0a2.75 2.75 0 1 0 -5.5 0M516.8 199.9a2.75 2.75 0 1 0 5.5 0a2.75 2.75 0 1 0 -5.5 0M517.0 189.0a2.75 2.75 0 1 0 5.5 0a2.75 2.75 0 1 0 -5.5 0M517.2 199.9a2.75 2.75 0 1 0 5.5 0a2.75 2.75 0 1 0 -5.5 0M517.3 204.0a2.75 2.75 0 1 0 5.5 0a2.75 2.75 0 1 0 -5.5 0M517.5 187.6a2.75 2.75 0 1 0 5.5 0a2.75 2.75 0 1 0 -5.5 0M517.7 178.1a2.75 2.75 0 1 0 5.5 0a2.75 2.75 0 1 0 -5.5 0M517.8 193.1a2.75 2.75 0 1 0 5.5 0a2.75 2.75 0 1 0 -5.5 0M518.0 184.9a2.75 2.75 0 1 0 5.5 0a2.75 2.75 0 1 0 -5.5 0M518.2 187.6a2.75 2.75 0 1 0 5.5 0a2.75 2.75 0 1 0 -5.5 0M518.3 190.4a2.75 2.75 0 1 0 5.5 0a2.75 2.75 0 1 0 -5.5 0M518.5 184.9a2.75 2.75 0 1 0 5.5 0a2.75 2.75 0 1 0 -5.5 0M518.7 178.1a2.75 2.75 0 1 0 5.5 0a2.75 2.75 0 1 0 -5.5 0M518.8 194.4a2.75 2.75 0 1 0 5.5 0a2.75 2.75 0 1 0 -5.5 0M519.0 183.6a2.75 2.75 0 1 0 5.5 0a2.75 2.75 0 1 0 -5.5 0M519.1 184.9a2.75 2.75 0 1 0 5.5 0a2.75 2.75 0 1 0 -5.5 0M519.3 194.4a2.75 2.75 0 1 0 5.5 0a2.75 2.75 0 1 0 -5.5 0M519.5 175.4a2.75 2.75 0 1 0 5.5 0a2.75 2.75 0 1 0 -5.5 0M519.6 174.0a2.75 2.75 0 1 0 5.5 0a2.75 2.75 0 1 0 -5.5 0M519.8 190.4a2.75 2.75 0 1 0 5.5 0a2.75 2.75 0 1 0 -5.5 0M520.0 174.0a2.75 2.75 0 1 0 5.5 0a2.75 2.75 0 1 0 -5.5 0M520.1 183.6a2.75 2.75 0 1 0 5.5 0a2.75 2.75 0 1 0 -5.5 0M520.3 183.6a2.75 2.75 0 1 0 5.5 0a2.75 2.75 0 1 0 -5.5 0M520.5 174.0a2.75 2.75 0 1 0 5.5 0a2.75 2.75 0 1 0 -5.5 0M520.6 180.8a2.75 2.75 0 1 0 5.5 0a2.75 2.75 0 1 0 -5.5 0M520.8 179.5a2.75 2.75 0 1 0 5.5 0a2.75 2.75 0 1 0 -5.5 0M521.0 171.3a2.75 2.75 0 1 0 5.5 0a2.75 2.75 0 1 0 -5.5 0M521.1 172.7a2.75 2.75 0 1 0 5.5 0a2.75 2.75 0 1 0 -5.5 0M521.3 175.4a2.75 2.75 0 1 0 5.5 0a2.75 2.75 0 1 0 -5.5 0M521.5 189.0a2.75 2.75 0 1 0 5.5 0a2.75 2.75 0 1 0 -5.5 0M521.6 189.0a2.75 2.75 0 1 0 5.5 0a2.75 2.75 0 1 0 -5.5 0M521.8 171.3a2.75 2.75 0 1 0 5.5 0a2.75 2.75 0 1 0 -5.5 0M522.0 184.9a2.75 2.75 0 1 0 5.5 0a2.75 2.75 0 1 0 -5.5 0M522.1 176.8a2.75 2.75 0 1 0 5.5 0a2.75 2.75 0 1 0 -5.5 0M522.3 184.9a2.75 2.75 0 1 0 5.5 0a2.75 2.75 0 1 0 -5.5 0M522.4 178.1a2.75 2.75 0 1 0 5.5 0a2.75 2.75 0 1 0 -5.5 0M522.6 184.9a2.75 2.75 0 1 0 5.5 0a2.75 2.75 0 1 0 -5.5 0M522.8 164.5a2.75 2.75 0 1 0 5.5 0a2.75 2.75 0 1 0 -5.5 0M522.9 182.2a2.75 2.75 0 1 0 5.5 0a2.75 2.75 0 1 0 -5.5 0M523.1 175.4a2.75 2.75 0 1 0 5.5 0a2.75 2.75 0 1 0 -5.5 0M523.3 175.4a2.75 2.75 0 1 0 5.5 0a2.75 2.75 0 1 0 -5.5 0M523.4 165.9a2.75 2.75 0 1 0 5.5 0a2.75 2.75 0 1 0 -5.5 0M523.6 182.2a2.75 2.75 0 1 0 5.5 0a2.75 2.75 0 1 0 -5.5 0M523.8 172.7a2.75 2.75 0 1 0 5.5 0a2.75 2.75 0 1 0 -5.5 0M523.9 172.7a2.75 2.75 0 1 0 5.5 0a2.75 2.75 0 1 0 -5.5 0M524.1 167.2a2.75 2.75 0 1 0 5.5 0a2.75 2.75 0 1 0 -5.5 0M524.3 167.2a2.75 2.75 0 1 0 5.5 0a2.75 2.75 0 1 0 -5.5 0M524.4 172.7a2.75 2.75 0 1 0 5.5 0a2.75 2.75 0 1 0 -5.5 0M524.6 167.2a2.75 2.75 0 1 0 5.5 0a2.75 2.75 0 1 0 -5.5 0M524.8 171.3a2.75 2.75 0 1 0 5.5 0a2.75 2.75 0 1 0 -5.5 0M524.9 164.5a2.75 2.75 0 1 0 5.5 0a2.75 2.75 0 1 0 -5.5 0M525.1 168.6a2.75 2.75 0 1 0 5.5 0a2.75 2.75 0 1 0 -5.5 0M525.2 171.3a2.75 2.75 0 1 0 5.5 0a2.75 2.75 0 1 0 -5.5 0M525.4 167.2a2.75 2.75 0 1 0 5.5 0a2.75 2.75 0 1 0 -5.5 0M525.6 163.2a2.75 2.75 0 1 0 5.5 0a2.75 2.75 0 1 0 -5.5 0M525.7 148.2a2.75 2.75 0 1 0 5.5 0a2.75 2.75 0 1 0 -5.5 0M525.9 168.6a2.75 2.75 0 1 0 5.5 0a2.75 2.75 0 1 0 -5.5 0M526.1 161.8a2.75 2.75 0 1 0 5.5 0a2.75 2.75 0 1 0 -5.5 0M526.2 152.3a2.75 2.75 0 1 0 5.5 0a2.75 2.75 0 1 0 -5.5 0M526.4 178.1a2.75 2.75 0 1 0 5.5 0a2.75 2.75 0 1 0 -5.5 0M526.6 175.4a2.75 2.75 0 1 0 5.5 0a2.75 2.75 0 1 0 -5.5 0M526.7 171.3a2.75 2.75 0 1 0 5.5 0a2.75 2.75 0 1 0 -5.5 0M526.9 161.8a2.75 2.75 0 1 0 5.5 0a2.75 2.75 0 1 0 -5.5 0M527.1 141.4a2.75 2.75 0 1 0 5.5 0a2.75 2.75 0 1 0 -5.5 0M527.2 156.4a2.75 2.75 0 1 0 5.5 0a2.75 2.75 0 1 0 -5.5 0M527.4 149.6a2.75 2.75 0 1 0 5.5 0a2.75 2.75 0 1 0 -5.5 0M527.6 160.4a2.75 2.75 0 1 0 5.5 0a2.75 2.75 0 1 0 -5.5 0M527.7 176.8a2.75 2.75 0 1 0 5.5 0a2.75 2.75 0 1 0 -5.5 0M527.9 175.4a2.75 2.75 0 1 0 5.5 0a2.75 2.75 0 1 0 -5.5 0M528.0 148.2a2.75 2.75 0 1 0 5.5 0a2.75 2.75 0 1 0 -5.5 0M528.2 153.6a2.75 2.75 0 1 0 5.5 0a2.75 2.75 0 1 0 -5.5 0M528.4 165.9a2.75 2.75 0 1 0 5.5 0a2.75 2.75 0 1 0 -5.5 0M528.5 145.5a2.75 2.75 0 1 0 5.5 0a2.75 2.75 0 1 0 -5.5 0M528.7 165.9a2.75 2.75 0 1 0 5.5 0a2.75 2.75 0 1 0 -5.5 0M528.9 144.1a2.75 2.75 0 1 0 5.5 0a2.75 2.75 0 1 0 -5.5 0M529.0 140.0a2.75 2.75 0 1 0 5.5 0a2.75 2.75 0 1 0 -5.5 0M529.2 157.7a2.75 2.75 0 1 0 5.5 0a2.75 2.75 0 1 0 -5.5 0M529.4 160.4a2.75 2.75 0 1 0 5.5 0a2.75 2.75 0 1 0 -5.5 0M529.5 142.8a2.75 2.75 0 1 0 5.5 0a2.75 2.75 0 1 0 -5.5 0M529.7 159.1a2.75 2.75 0 1 0 5.5 0a2.75 2.75 0 1 0 -5.5 0M529.9 141.4a2.75 2.75 0 1 0 5.5 0a2.75 2.75 0 1 0 -5.5 0M530.0 159.1a2.75 2.75 0 1 0 5.5 0a2.75 2.75 0 1 0 -5.5 0M530.2 141.4a2.75 2.75 0 1 0 5.5 0a2.75 2.75 0 1 0 -5.5 0M530.4 146.8a2.75 2.75 0 1 0 5.5 0a2.75 2.75 0 1 0 -5.5 0M530.5 150.9a2.75 2.75 0 1 0 5.5 0a2.75 2.75 0 1 0 -5.5 0M530.7 153.6a2.75 2.75 0 1 0 5.5 0a2.75 2.75 0 1 0 -5.5 0M530.8 142.8a2.75 2.75 0 1 0 5.5 0a2.75 2.75 0 1 0 -5.5 0M531.0 161.8a2.75 2.75 0 1 0 5.5 0a2.75 2.75 0 1 0 -5.5 0M531.2 146.8a2.75 2.75 0 1 0 5.5 0a2.75 2.75 0 1 0 -5.5 0M531.3 146.8a2.75 2.75 0 1 0 5.5 0a2.75 2.75 0 1 0 -5.5 0M531.5 137.3a2.75 2.75 0 1 0 5.5 0a2.75 2.75 0 1 0 -5.5 0M531.7 153.6a2.75 2.75 0 1 0 5.5 0a2.75 2.75 0 1 0 -5.5 0M531.8 126.4a2.75 2.75 0 1 0 5.5 0a2.75 2.75 0 1 0 -5.5 0M532.0 144.1a2.75 2.75 0 1 0 5.5 0a2.75 2.75 0 1 0 -5.5 0M532.2 150.9a2.75 2.75 0 1 0 5.5 0a2.75 2.75 0 1 0 -5.5 0M532.3 127.8a2.75 2.75 0 1 0 5.5 0a2.75 2.75 0 1 0 -5.5 0M532.5 123.7a2.75 2.75 0 1 0 5.5 0a2.75 2.75 0 1 0 -5.5 0M532.7 140.0a2.75 2.75 0 1 0 5.5 0a2.75 2.75 0 1 0 -5.5 0M532.8 146.8a2.75 2.75 0 1 0 5.5 0a2.75 2.75 0 1 0 -5.5 0M533.0 137.3a2.75 2.75 0 1 0 5.5 0a2.75 2.75 0 1 0 -5.5 0M533.2 142.8a2.75 2.75 0 1 0 5.5 0a2.75 2.75 0 1 0 -5.5 0M533.3 138.7a2.75 2.75 0 1 0 5.5 0a2.75 2.75 0 1 0 -5.5 0M533.5 121.0a2.75 2.75 0 1 0 5.5 0a2.75 2.75 0 1 0 -5.5 0M533.6 131.9a2.75 2.75 0 1 0 5.5 0a2.75 2.75 0 1 0 -5.5 0M533.8 133.2a2.75 2.75 0 1 0 5.5 0a2.75 2.75 0 1 0 -5.5 0M534.0 130.5a2.75 2.75 0 1 0 5.5 0a2.75 2.75 0 1 0 -5.5 0M534.1 134.6a2.75 2.75 0 1 0 5.5 0a2.75 2.75 0 1 0 -5.5 0M534.3 125.1a2.75 2.75 0 1 0 5.5 0a2.75 2.75 0 1 0 -5.5 0M534.5 123.7a2.75 2.75 0 1 0 5.5 0a2.75 2.75 0 1 0 -5.5 0M534.6 136.0a2.75 2.75 0 1 0 5.5 0a2.75 2.75 0 1 0 -5.5 0M534.8 130.5a2.75 2.75 0 1 0 5.5 0a2.75 2.75 0 1 0 -5.5 0M535.0 107.4a2.75 2.75 0 1 0 5.5 0a2.75 2.75 0 1 0 -5.5 0M535.1 126.4a2.75 2.75 0 1 0 5.5 0a2.75 2.75 0 1 0 -5.5 0M535.3 131.9a2.75 2.75 0 1 0 5.5 0a2.75 2.75 0 1 0 -5.5 0M535.5 110.1a2.75 2.75 0 1 0 5.5 0a2.75 2.75 0 1 0 -5.5 0M535.6 129.2a2.75 2.75 0 1 0 5.5 0a2.75 2.75 0 1 0 -5.5 0M535.8 140.0a2.75 2.75 0 1 0 5.5 0a2.75 2.75 0 1 0 -5.5 0M536.0 121.0a2.75 2.75 0 1 0 5.5 0a2.75 2.75 0 1 0 -5.5 0M536.1 137.3a2.75 2.75 0 1 0 5.5 0a2.75 2.75 0 1 0 -5.5 0M536.3 131.9a2.75 2.75 0 1 0 5.5 0a2.75 2.75 0 1 0 -5.5 0M536.4 123.7a2.75 2.75 0 1 0 5.5 0a2.75 2.75 0 1 0 -5.5 0M536.6 127.8a2.75 2.75 0 1 0 5.5 0a2.75 2.75 0 1 0 -5.5 0M536.8 133.2a2.75 2.75 0 1 0 5.5 0a2.75 2.75 0 1 0 -5.5 0M536.9 130.5a2.75 2.75 0 1 0 5.5 0a2.75 2.75 0 1 0 -5.5 0M537.1 131.9a2.75 2.75 0 1 0 5.5 0a2.75 2.75 0 1 0 -5.5 0M537.3 112.8a2.75 2.75 0 1 0 5.5 0a2.75 2.75 0 1 0 -5.5 0M537.4 131.9a2.75 2.75 0 1 0 5.5 0a2.75 2.75 0 1 0 -5.5 0M537.6 130.5a2.75 2.75 0 1 0 5.5 0a2.75 2.75 0 1 0 -5.5 0M537.8 103.3a2.75 2.75 0 1 0 5.5 0a2.75 2.75 0 1 0 -5.5 0M537.9 129.2a2.75 2.75 0 1 0 5.5 0a2.75 2.75 0 1 0 -5.5 0M538.1 108.8a2.75 2.75 0 1 0 5.5 0a2.75 2.75 0 1 0 -5.5 0M538.3 110.1a2.75 2.75 0 1 0 5.5 0a2.75 2.75 0 1 0 -5.5 0M538.4 123.7a2.75 2.75 0 1 0 5.5 0a2.75 2.75 0 1 0 -5.5 0M538.6 137.3a2.75 2.75 0 1 0 5.5 0a2.75 2.75 0 1 0 -5.5 0M538.8 116.9a2.75 2.75 0 1 0 5.5 0a2.75 2.75 0 1 0 -5.5 0M538.9 114.2a2.75 2.75 0 1 0 5.5 0a2.75 2.75 0 1 0 -5.5 0M539.1 111.5a2.75 2.75 0 1 0 5.5 0a2.75 2.75 0 1 0 -5.5 0M539.2 121.0a2.75 2.75 0 1 0 5.5 0a2.75 2.75 0 1 0 -5.5 0M539.4 108.8a2.75 2.75 0 1 0 5.5 0a2.75 2.75 0 1 0 -5.5 0M539.6 106.0a2.75 2.75 0 1 0 5.5 0a2.75 2.75 0 1 0 -5.5 0M539.7 131.9a2.75 2.75 0 1 0 5.5 0a2.75 2.75 0 1 0 -5.5 0M539.9 106.0a2.75 2.75 0 1 0 5.5 0a2.75 2.75 0 1 0 -5.5 0M540.1 118.3a2.75 2.75 0 1 0 5.5 0a2.75 2.75 0 1 0 -5.5 0M540.2 125.1a2.75 2.75 0 1 0 5.5 0a2.75 2.75 0 1 0 -5.5 0M540.4 123.7a2.75 2.75 0 1 0 5.5 0a2.75 2.75 0 1 0 -5.5 0M540.6 100.6a2.75 2.75 0 1 0 5.5 0a2.75 2.75 0 1 0 -5.5 0M540.7 108.8a2.75 2.75 0 1 0 5.5 0a2.75 2.75 0 1 0 -5.5 0M540.9 137.3a2.75 2.75 0 1 0 5.5 0a2.75 2.75 0 1 0 -5.5 0M541.1 118.3a2.75 2.75 0 1 0 5.5 0a2.75 2.75 0 1 0 -5.5 0M541.2 121.0a2.75 2.75 0 1 0 5.5 0a2.75 2.75 0 1 0 -5.5 0M541.4 121.0a2.75 2.75 0 1 0 5.5 0a2.75 2.75 0 1 0 -5.5 0M541.6 123.7a2.75 2.75 0 1 0 5.5 0a2.75 2.75 0 1 0 -5.5 0M541.7 134.6a2.75 2.75 0 1 0 5.5 0a2.75 2.75 0 1 0 -5.5 0M541.9 110.1a2.75 2.75 0 1 0 5.5 0a2.75 2.75 0 1 0 -5.5 0M542.0 129.2a2.75 2.75 0 1 0 5.5 0a2.75 2.75 0 1 0 -5.5 0M542.2 122.4a2.75 2.75 0 1 0 5.5 0a2.75 2.75 0 1 0 -5.5 0M542.4 125.1a2.75 2.75 0 1 0 5.5 0a2.75 2.75 0 1 0 -5.5 0M542.5 126.4a2.75 2.75 0 1 0 5.5 0a2.75 2.75 0 1 0 -5.5 0M542.7 111.5a2.75 2.75 0 1 0 5.5 0a2.75 2.75 0 1 0 -5.5 0M542.9 114.2a2.75 2.75 0 1 0 5.5 0a2.75 2.75 0 1 0 -5.5 0M543.0 125.1a2.75 2.75 0 1 0 5.5 0a2.75 2.75 0 1 0 -5.5 0M543.2 129.2a2.75 2.75 0 1 0 5.5 0a2.75 2.75 0 1 0 -5.5 0M543.4 123.7a2.75 2.75 0 1 0 5.5 0a2.75 2.75 0 1 0 -5.5 0M543.5 108.8a2.75 2.75 0 1 0 5.5 0a2.75 2.75 0 1 0 -5.5 0M543.7 118.3a2.75 2.75 0 1 0 5.5 0a2.75 2.75 0 1 0 -5.5 0M543.9 116.9a2.75 2.75 0 1 0 5.5 0a2.75 2.75 0 1 0 -5.5 0M544.0 122.4a2.75 2.75 0 1 0 5.5 0a2.75 2.75 0 1 0 -5.5 0M544.2 122.4a2.75 2.75 0 1 0 5.5 0a2.75 2.75 0 1 0 -5.5 0M544.4 116.9a2.75 2.75 0 1 0 5.5 0a2.75 2.75 0 1 0 -5.5 0M544.5 138.7a2.75 2.75 0 1 0 5.5 0a2.75 2.75 0 1 0 -5.5 0M544.7 103.3a2.75 2.75 0 1 0 5.5 0a2.75 2.75 0 1 0 -5.5 0M544.8 127.8a2.75 2.75 0 1 0 5.5 0a2.75 2.75 0 1 0 -5.5 0M545.0 126.4a2.75 2.75 0 1 0 5.5 0a2.75 2.75 0 1 0 -5.5 0M545.2 106.0a2.75 2.75 0 1 0 5.5 0a2.75 2.75 0 1 0 -5.5 0M545.3 118.3a2.75 2.75 0 1 0 5.5 0a2.75 2.75 0 1 0 -5.5 0M545.5 119.6a2.75 2.75 0 1 0 5.5 0a2.75 2.75 0 1 0 -5.5 0M545.7 126.4a2.75 2.75 0 1 0 5.5 0a2.75 2.75 0 1 0 -5.5 0M545.8 137.3a2.75 2.75 0 1 0 5.5 0a2.75 2.75 0 1 0 -5.5 0M546.0 119.6a2.75 2.75 0 1 0 5.5 0a2.75 2.75 0 1 0 -5.5 0M546.2 110.1a2.75 2.75 0 1 0 5.5 0a2.75 2.75 0 1 0 -5.5 0M546.3 130.5a2.75 2.75 0 1 0 5.5 0a2.75 2.75 0 1 0 -5.5 0M546.5 108.8a2.75 2.75 0 1 0 5.5 0a2.75 2.75 0 1 0 -5.5 0M546.7 134.6a2.75 2.75 0 1 0 5.5 0a2.75 2.75 0 1 0 -5.5 0M546.8 130.5a2.75 2.75 0 1 0 5.5 0a2.75 2.75 0 1 0 -5.5 0M547.0 118.3a2.75 2.75 0 1 0 5.5 0a2.75 2.75 0 1 0 -5.5 0M547.2 123.7a2.75 2.75 0 1 0 5.5 0a2.75 2.75 0 1 0 -5.5 0M547.3 116.9a2.75 2.75 0 1 0 5.5 0a2.75 2.75 0 1 0 -5.5 0M547.5 131.9a2.75 2.75 0 1 0 5.5 0a2.75 2.75 0 1 0 -5.5 0M547.6 134.6a2.75 2.75 0 1 0 5.5 0a2.75 2.75 0 1 0 -5.5 0M547.8 144.1a2.75 2.75 0 1 0 5.5 0a2.75 2.75 0 1 0 -5.5 0M548.0 137.3a2.75 2.75 0 1 0 5.5 0a2.75 2.75 0 1 0 -5.5 0M548.1 136.0a2.75 2.75 0 1 0 5.5 0a2.75 2.75 0 1 0 -5.5 0M548.3 140.0a2.75 2.75 0 1 0 5.5 0a2.75 2.75 0 1 0 -5.5 0M548.5 123.7a2.75 2.75 0 1 0 5.5 0a2.75 2.75 0 1 0 -5.5 0M548.6 133.2a2.75 2.75 0 1 0 5.5 0a2.75 2.75 0 1 0 -5.5 0M548.8 146.8a2.75 2.75 0 1 0 5.5 0a2.75 2.75 0 1 0 -5.5 0M549.0 103.3a2.75 2.75 0 1 0 5.5 0a2.75 2.75 0 1 0 -5.5 0M549.1 136.0a2.75 2.75 0 1 0 5.5 0a2.75 2.75 0 1 0 -5.5 0M549.3 141.4a2.75 2.75 0 1 0 5.5 0a2.75 2.75 0 1 0 -5.5 0M549.5 116.9a2.75 2.75 0 1 0 5.5 0a2.75 2.75 0 1 0 -5.5 0M549.6 118.3a2.75 2.75 0 1 0 5.5 0a2.75 2.75 0 1 0 -5.5 0M549.8 141.4a2.75 2.75 0 1 0 5.5 0a2.75 2.75 0 1 0 -5.5 0M550.0 145.5a2.75 2.75 0 1 0 5.5 0a2.75 2.75 0 1 0 -5.5 0M550.1 141.4a2.75 2.75 0 1 0 5.5 0a2.75 2.75 0 1 0 -5.5 0M550.3 121.0a2.75 2.75 0 1 0 5.5 0a2.75 2.75 0 1 0 -5.5 0M550.4 134.6a2.75 2.75 0 1 0 5.5 0a2.75 2.75 0 1 0 -5.5 0M550.6 140.0a2.75 2.75 0 1 0 5.5 0a2.75 2.75 0 1 0 -5.5 0M550.8 133.2a2.75 2.75 0 1 0 5.5 0a2.75 2.75 0 1 0 -5.5 0M550.9 122.4a2.75 2.75 0 1 0 5.5 0a2.75 2.75 0 1 0 -5.5 0M551.1 148.2a2.75 2.75 0 1 0 5.5 0a2.75 2.75 0 1 0 -5.5 0M551.3 138.7a2.75 2.75 0 1 0 5.5 0a2.75 2.75 0 1 0 -5.5 0M551.4 148.2a2.75 2.75 0 1 0 5.5 0a2.75 2.75 0 1 0 -5.5 0M551.6 115.6a2.75 2.75 0 1 0 5.5 0a2.75 2.75 0 1 0 -5.5 0M551.8 119.6a2.75 2.75 0 1 0 5.5 0a2.75 2.75 0 1 0 -5.5 0M551.9 127.8a2.75 2.75 0 1 0 5.5 0a2.75 2.75 0 1 0 -5.5 0M552.1 138.7a2.75 2.75 0 1 0 5.5 0a2.75 2.75 0 1 0 -5.5 0M552.3 131.9a2.75 2.75 0 1 0 5.5 0a2.75 2.75 0 1 0 -5.5 0M552.4 157.7a2.75 2.75 0 1 0 5.5 0a2.75 2.75 0 1 0 -5.5 0M552.6 137.3a2.75 2.75 0 1 0 5.5 0a2.75 2.75 0 1 0 -5.5 0M552.8 152.3a2.75 2.75 0 1 0 5.5 0a2.75 2.75 0 1 0 -5.5 0M552.9 152.3a2.75 2.75 0 1 0 5.5 0a2.75 2.75 0 1 0 -5.5 0M553.1 148.2a2.75 2.75 0 1 0 5.5 0a2.75 2.75 0 1 0 -5.5 0M553.2 145.5a2.75 2.75 0 1 0 5.5 0a2.75 2.75 0 1 0 -5.5 0M553.4 137.3a2.75 2.75 0 1 0 5.5 0a2.75 2.75 0 1 0 -5.5 0M553.6 137.3a2.75 2.75 0 1 0 5.5 0a2.75 2.75 0 1 0 -5.5 0M553.7 141.4a2.75 2.75 0 1 0 5.5 0a2.75 2.75 0 1 0 -5.5 0M553.9 152.3a2.75 2.75 0 1 0 5.5 0a2.75 2.75 0 1 0 -5.5 0M554.1 138.7a2.75 2.75 0 1 0 5.5 0a2.75 2.75 0 1 0 -5.5 0M554.2 146.8a2.75 2.75 0 1 0 5.5 0a2.75 2.75 0 1 0 -5.5 0M554.4 136.0a2.75 2.75 0 1 0 5.5 0a2.75 2.75 0 1 0 -5.5 0M554.6 155.0a2.75 2.75 0 1 0 5.5 0a2.75 2.75 0 1 0 -5.5 0M554.7 171.3a2.75 2.75 0 1 0 5.5 0a2.75 2.75 0 1 0 -5.5 0M554.9 152.3a2.75 2.75 0 1 0 5.5 0a2.75 2.75 0 1 0 -5.5 0M555.1 130.5a2.75 2.75 0 1 0 5.5 0a2.75 2.75 0 1 0 -5.5 0M555.2 145.5a2.75 2.75 0 1 0 5.5 0a2.75 2.75 0 1 0 -5.5 0M555.4 152.3a2.75 2.75 0 1 0 5.5 0a2.75 2.75 0 1 0 -5.5 0M555.6 144.1a2.75 2.75 0 1 0 5.5 0a2.75 2.75 0 1 0 -5.5 0M555.7 146.8a2.75 2.75 0 1 0 5.5 0a2.75 2.75 0 1 0 -5.5 0M555.9 148.2a2.75 2.75 0 1 0 5.5 0a2.75 2.75 0 1 0 -5.5 0M556.0 157.7a2.75 2.75 0 1 0 5.5 0a2.75 2.75 0 1 0 -5.5 0M556.2 153.6a2.75 2.75 0 1 0 5.5 0a2.75 2.75 0 1 0 -5.5 0M556.4 152.3a2.75 2.75 0 1 0 5.5 0a2.75 2.75 0 1 0 -5.5 0M556.5 160.4a2.75 2.75 0 1 0 5.5 0a2.75 2.75 0 1 0 -5.5 0M556.7 164.5a2.75 2.75 0 1 0 5.5 0a2.75 2.75 0 1 0 -5.5 0M556.9 155.0a2.75 2.75 0 1 0 5.5 0a2.75 2.75 0 1 0 -5.5 0M557.0 149.6a2.75 2.75 0 1 0 5.5 0a2.75 2.75 0 1 0 -5.5 0M557.2 152.3a2.75 2.75 0 1 0 5.5 0a2.75 2.75 0 1 0 -5.5 0M557.4 155.0a2.75 2.75 0 1 0 5.5 0a2.75 2.75 0 1 0 -5.5 0M557.5 155.0a2.75 2.75 0 1 0 5.5 0a2.75 2.75 0 1 0 -5.5 0M557.7 138.7a2.75 2.75 0 1 0 5.5 0a2.75 2.75 0 1 0 -5.5 0M557.9 157.7a2.75 2.75 0 1 0 5.5 0a2.75 2.75 0 1 0 -5.5 0M558.0 152.3a2.75 2.75 0 1 0 5.5 0a2.75 2.75 0 1 0 -5.5 0M558.2 146.8a2.75 2.75 0 1 0 5.5 0a2.75 2.75 0 1 0 -5.5 0M558.4 161.8a2.75 2.75 0 1 0 5.5 0a2.75 2.75 0 1 0 -5.5 0M558.5 160.4a2.75 2.75 0 1 0 5.5 0a2.75 2.75 0 1 0 -5.5 0M558.7 156.4a2.75 2.75 0 1 0 5.5 0a2.75 2.75 0 1 0 -5.5 0M558.9 150.9a2.75 2.75 0 1 0 5.5 0a2.75 2.75 0 1 0 -5.5 0M559.0 163.2a2.75 2.75 0 1 0 5.5 0a2.75 2.75 0 1 0 -5.5 0M559.2 163.2a2.75 2.75 0 1 0 5.5 0a2.75 2.75 0 1 0 -5.5 0M559.3 165.9a2.75 2.75 0 1 0 5.5 0a2.75 2.75 0 1 0 -5.5 0M559.5 175.4a2.75 2.75 0 1 0 5.5 0a2.75 2.75 0 1 0 -5.5 0M559.7 159.1a2.75 2.75 0 1 0 5.5 0a2.75 2.75 0 1 0 -5.5 0M559.8 170.0a2.75 2.75 0 1 0 5.5 0a2.75 2.75 0 1 0 -5.5 0M560.0 180.8a2.75 2.75 0 1 0 5.5 0a2.75 2.75 0 1 0 -5.5 0M560.2 170.0a2.75 2.75 0 1 0 5.5 0a2.75 2.75 0 1 0 -5.5 0M560.3 182.2a2.75 2.75 0 1 0 5.5 0a2.75 2.75 0 1 0 -5.5 0M560.5 178.1a2.75 2.75 0 1 0 5.5 0a2.75 2.75 0 1 0 -5.5 0M560.7 171.3a2.75 2.75 0 1 0 5.5 0a2.75 2.75 0 1 0 -5.5 0M560.8 178.1a2.75 2.75 0 1 0 5.5 0a2.75 2.75 0 1 0 -5.5 0M561.0 164.5a2.75 2.75 0 1 0 5.5 0a2.75 2.75 0 1 0 -5.5 0M561.2 183.6a2.75 2.75 0 1 0 5.5 0a2.75 2.75 0 1 0 -5.5 0M561.3 171.3a2.75 2.75 0 1 0 5.5 0a2.75 2.75 0 1 0 -5.5 0M561.5 170.0a2.75 2.75 0 1 0 5.5 0a2.75 2.75 0 1 0 -5.5 0M561.7 164.5a2.75 2.75 0 1 0 5.5 0a2.75 2.75 0 1 0 -5.5 0M561.8 170.0a2.75 2.75 0 1 0 5.5 0a2.75 2.75 0 1 0 -5.5 0M562.0 174.0a2.75 2.75 0 1 0 5.5 0a2.75 2.75 0 1 0 -5.5 0M562.1 176.8a2.75 2.75 0 1 0 5.5 0a2.75 2.75 0 1 0 -5.5 0M562.3 178.1a2.75 2.75 0 1 0 5.5 0a2.75 2.75 0 1 0 -5.5 0M562.5 170.0a2.75 2.75 0 1 0 5.5 0a2.75 2.75 0 1 0 -5.5 0M562.6 182.2a2.75 2.75 0 1 0 5.5 0a2.75 2.75 0 1 0 -5.5 0M562.8 175.4a2.75 2.75 0 1 0 5.5 0a2.75 2.75 0 1 0 -5.5 0M563.0 179.5a2.75 2.75 0 1 0 5.5 0a2.75 2.75 0 1 0 -5.5 0M563.1 178.1a2.75 2.75 0 1 0 5.5 0a2.75 2.75 0 1 0 -5.5 0M563.3 182.2a2.75 2.75 0 1 0 5.5 0a2.75 2.75 0 1 0 -5.5 0M563.5 168.6a2.75 2.75 0 1 0 5.5 0a2.75 2.75 0 1 0 -5.5 0M563.6 186.3a2.75 2.75 0 1 0 5.5 0a2.75 2.75 0 1 0 -5.5 0M563.8 180.8a2.75 2.75 0 1 0 5.5 0a2.75 2.75 0 1 0 -5.5 0M564.0 180.8a2.75 2.75 0 1 0 5.5 0a2.75 2.75 0 1 0 -5.5 0M564.1 179.5a2.75 2.75 0 1 0 5.5 0a2.75 2.75 0 1 0 -5.5 0M564.3 180.8a2.75 2.75 0 1 0 5.5 0a2.75 2.75 0 1 0 -5.5 0M564.5 182.2a2.75 2.75 0 1 0 5.5 0a2.75 2.75 0 1 0 -5.5 0M564.6 179.5a2.75 2.75 0 1 0 5.5 0a2.75 2.75 0 1 0 -5.5 0M564.8 194.4a2.75 2.75 0 1 0 5.5 0a2.75 2.75 0 1 0 -5.5 0M564.9 186.3a2.75 2.75 0 1 0 5.5 0a2.75 2.75 0 1 0 -5.5 0M565.1 193.1a2.75 2.75 0 1 0 5.5 0a2.75 2.75 0 1 0 -5.5 0M565.3 184.9a2.75 2.75 0 1 0 5.5 0a2.75 2.75 0 1 0 -5.5 0M565.4 194.4a2.75 2.75 0 1 0 5.5 0a2.75 2.75 0 1 0 -5.5 0M565.6 193.1a2.75 2.75 0 1 0 5.5 0a2.75 2.75 0 1 0 -5.5 0M565.8 189.0a2.75 2.75 0 1 0 5.5 0a2.75 2.75 0 1 0 -5.5 0M565.9 180.8a2.75 2.75 0 1 0 5.5 0a2.75 2.75 0 1 0 -5.5 0M566.1 186.3a2.75 2.75 0 1 0 5.5 0a2.75 2.75 0 1 0 -5.5 0M566.3 187.6a2.75 2.75 0 1 0 5.5 0a2.75 2.75 0 1 0 -5.5 0M566.4 182.2a2.75 2.75 0 1 0 5.5 0a2.75 2.75 0 1 0 -5.5 0M566.6 195.8a2.75 2.75 0 1 0 5.5 0a2.75 2.75 0 1 0 -5.5 0M566.8 201.2a2.75 2.75 0 1 0 5.5 0a2.75 2.75 0 1 0 -5.5 0M566.9 193.1a2.75 2.75 0 1 0 5.5 0a2.75 2.75 0 1 0 -5.5 0M567.1 193.1a2.75 2.75 0 1 0 5.5 0a2.75 2.75 0 1 0 -5.5 0M567.3 186.3a2.75 2.75 0 1 0 5.5 0a2.75 2.75 0 1 0 -5.5 0M567.4 182.2a2.75 2.75 0 1 0 5.5 0a2.75 2.75 0 1 0 -5.5 0M567.6 199.9a2.75 2.75 0 1 0 5.5 0a2.75 2.75 0 1 0 -5.5 0M567.7 180.8a2.75 2.75 0 1 0 5.5 0a2.75 2.75 0 1 0 -5.5 0M567.9 186.3a2.75 2.75 0 1 0 5.5 0a2.75 2.75 0 1 0 -5.5 0M568.1 190.4a2.75 2.75 0 1 0 5.5 0a2.75 2.75 0 1 0 -5.5 0M568.2 193.1a2.75 2.75 0 1 0 5.5 0a2.75 2.75 0 1 0 -5.5 0M568.4 183.6a2.75 2.75 0 1 0 5.5 0a2.75 2.75 0 1 0 -5.5 0M568.6 194.4a2.75 2.75 0 1 0 5.5 0a2.75 2.75 0 1 0 -5.5 0M568.7 197.2a2.75 2.75 0 1 0 5.5 0a2.75 2.75 0 1 0 -5.5 0M568.9 195.8a2.75 2.75 0 1 0 5.5 0a2.75 2.75 0 1 0 -5.5 0M569.1 202.6a2.75 2.75 0 1 0 5.5 0a2.75 2.75 0 1 0 -5.5 0M569.2 194.4a2.75 2.75 0 1 0 5.5 0a2.75 2.75 0 1 0 -5.5 0M569.4 197.2a2.75 2.75 0 1 0 5.5 0a2.75 2.75 0 1 0 -5.5 0M569.6 195.8a2.75 2.75 0 1 0 5.5 0a2.75 2.75 0 1 0 -5.5 0M569.7 195.8a2.75 2.75 0 1 0 5.5 0a2.75 2.75 0 1 0 -5.5 0M569.9 202.6a2.75 2.75 0 1 0 5.5 0a2.75 2.75 0 1 0 -5.5 0M570.1 193.1a2.75 2.75 0 1 0 5.5 0a2.75 2.75 0 1 0 -5.5 0M570.2 202.6a2.75 2.75 0 1 0 5.5 0a2.75 2.75 0 1 0 -5.5 0M570.4 194.4a2.75 2.75 0 1 0 5.5 0a2.75 2.75 0 1 0 -5.5 0M570.5 206.7a2.75 2.75 0 1 0 5.5 0a2.75 2.75 0 1 0 -5.5 0M570.7 198.5a2.75 2.75 0 1 0 5.5 0a2.75 2.75 0 1 0 -5.5 0M570.9 204.0a2.75 2.75 0 1 0 5.5 0a2.75 2.75 0 1 0 -5.5 0M571.0 199.9a2.75 2.75 0 1 0 5.5 0a2.75 2.75 0 1 0 -5.5 0M571.2 202.6a2.75 2.75 0 1 0 5.5 0a2.75 2.75 0 1 0 -5.5 0M571.4 209.4a2.75 2.75 0 1 0 5.5 0a2.75 2.75 0 1 0 -5.5 0M571.5 205.3a2.75 2.75 0 1 0 5.5 0a2.75 2.75 0 1 0 -5.5 0M571.7 201.2a2.75 2.75 0 1 0 5.5 0a2.75 2.75 0 1 0 -5.5 0M571.9 198.5a2.75 2.75 0 1 0 5.5 0a2.75 2.75 0 1 0 -5.5 0M572.0 208.0a2.75 2.75 0 1 0 5.5 0a2.75 2.75 0 1 0 -5.5 0M572.2 210.8a2.75 2.75 0 1 0 5.5 0a2.75 2.75 0 1 0 -5.5 0M572.4 205.3a2.75 2.75 0 1 0 5.5 0a2.75 2.75 0 1 0 -5.5 0M572.5 204.0a2.75 2.75 0 1 0 5.5 0a2.75 2.75 0 1 0 -5.5 0M572.7 205.3a2.75 2.75 0 1 0 5.5 0a2.75 2.75 0 1 0 -5.5 0M572.9 206.7a2.75 2.75 0 1 0 5.5 0a2.75 2.75 0 1 0 -5.5 0M573.0 199.9a2.75 2.75 0 1 0 5.5 0a2.75 2.75 0 1 0 -5.5 0M573.2 199.9a2.75 2.75 0 1 0 5.5 0a2.75 2.75 0 1 0 -5.5 0M573.3 201.2a2.75 2.75 0 1 0 5.5 0a2.75 2.75 0 1 0 -5.5 0M573.5 208.0a2.75 2.75 0 1 0 5.5 0a2.75 2.75 0 1 0 -5.5 0M573.7 204.0a2.75 2.75 0 1 0 5.5 0a2.75 2.75 0 1 0 -5.5 0M573.8 205.3a2.75 2.75 0 1 0 5.5 0a2.75 2.75 0 1 0 -5.5 0M574.0 209.4a2.75 2.75 0 1 0 5.5 0a2.75 2.75 0 1 0 -5.5 0M574.2 202.6a2.75 2.75 0 1 0 5.5 0a2.75 2.75 0 1 0 -5.5 0M574.3 205.3a2.75 2.75 0 1 0 5.5 0a2.75 2.75 0 1 0 -5.5 0M574.5 206.7a2.75 2.75 0 1 0 5.5 0a2.75 2.75 0 1 0 -5.5 0M574.7 201.2a2.75 2.75 0 1 0 5.5 0a2.75 2.75 0 1 0 -5.5 0M574.8 204.0a2.75 2.75 0 1 0 5.5 0a2.75 2.75 0 1 0 -5.5 0M575.0 204.0a2.75 2.75 0 1 0 5.5 0a2.75 2.75 0 1 0 -5.5 0M575.2 202.6a2.75 2.75 0 1 0 5.5 0a2.75 2.75 0 1 0 -5.5 0M575.3 204.0a2.75 2.75 0 1 0 5.5 0a2.75 2.75 0 1 0 -5.5 0M575.5 210.8a2.75 2.75 0 1 0 5.5 0a2.75 2.75 0 1 0 -5.5 0M575.7 208.0a2.75 2.75 0 1 0 5.5 0a2.75 2.75 0 1 0 -5.5 0M575.8 204.0a2.75 2.75 0 1 0 5.5 0a2.75 2.75 0 1 0 -5.5 0M576.0 209.4a2.75 2.75 0 1 0 5.5 0a2.75 2.75 0 1 0 -5.5 0M576.1 208.0a2.75 2.75 0 1 0 5.5 0a2.75 2.75 0 1 0 -5.5 0M576.3 206.7a2.75 2.75 0 1 0 5.5 0a2.75 2.75 0 1 0 -5.5 0M576.5 204.0a2.75 2.75 0 1 0 5.5 0a2.75 2.75 0 1 0 -5.5 0M576.6 209.4a2.75 2.75 0 1 0 5.5 0a2.75 2.75 0 1 0 -5.5 0M576.8 208.0a2.75 2.75 0 1 0 5.5 0a2.75 2.75 0 1 0 -5.5 0M577.0 210.8a2.75 2.75 0 1 0 5.5 0a2.75 2.75 0 1 0 -5.5 0M577.1 209.4a2.75 2.75 0 1 0 5.5 0a2.75 2.75 0 1 0 -5.5 0M577.3 209.4a2.75 2.75 0 1 0 5.5 0a2.75 2.75 0 1 0 -5.5 0M577.5 213.5a2.75 2.75 0 1 0 5.5 0a2.75 2.75 0 1 0 -5.5 0M577.6 206.7a2.75 2.75 0 1 0 5.5 0a2.75 2.75 0 1 0 -5.5 0M577.8 209.4a2.75 2.75 0 1 0 5.5 0a2.75 2.75 0 1 0 -5.5 0M578.0 210.8a2.75 2.75 0 1 0 5.5 0a2.75 2.75 0 1 0 -5.5 0M578.1 210.8a2.75 2.75 0 1 0 5.5 0a2.75 2.75 0 1 0 -5.5 0M578.3 208.0a2.75 2.75 0 1 0 5.5 0a2.75 2.75 0 1 0 -5.5 0M578.5 209.4a2.75 2.75 0 1 0 5.5 0a2.75 2.75 0 1 0 -5.5 0M578.6 210.8a2.75 2.75 0 1 0 5.5 0a2.75 2.75 0 1 0 -5.5 0M578.8 213.5a2.75 2.75 0 1 0 5.5 0a2.75 2.75 0 1 0 -5.5 0M578.9 210.8a2.75 2.75 0 1 0 5.5 0a2.75 2.75 0 1 0 -5.5 0M579.1 208.0a2.75 2.75 0 1 0 5.5 0a2.75 2.75 0 1 0 -5.5 0M579.3 209.4a2.75 2.75 0 1 0 5.5 0a2.75 2.75 0 1 0 -5.5 0M579.4 209.4a2.75 2.75 0 1 0 5.5 0a2.75 2.75 0 1 0 -5.5 0M579.6 212.1a2.75 2.75 0 1 0 5.5 0a2.75 2.75 0 1 0 -5.5 0M579.8 209.4a2.75 2.75 0 1 0 5.5 0a2.75 2.75 0 1 0 -5.5 0M579.9 210.8a2.75 2.75 0 1 0 5.5 0a2.75 2.75 0 1 0 -5.5 0M580.1 213.5a2.75 2.75 0 1 0 5.5 0a2.75 2.75 0 1 0 -5.5 0M580.3 210.8a2.75 2.75 0 1 0 5.5 0a2.75 2.75 0 1 0 -5.5 0M580.4 210.8a2.75 2.75 0 1 0 5.5 0a2.75 2.75 0 1 0 -5.5 0M580.6 216.2a2.75 2.75 0 1 0 5.5 0a2.75 2.75 0 1 0 -5.5 0M580.8 216.2a2.75 2.75 0 1 0 5.5 0a2.75 2.75 0 1 0 -5.5 0M580.9 210.8a2.75 2.75 0 1 0 5.5 0a2.75 2.75 0 1 0 -5.5 0M581.1 214.8a2.75 2.75 0 1 0 5.5 0a2.75 2.75 0 1 0 -5.5 0M581.3 209.4a2.75 2.75 0 1 0 5.5 0a2.75 2.75 0 1 0 -5.5 0M581.4 212.1a2.75 2.75 0 1 0 5.5 0a2.75 2.75 0 1 0 -5.5 0M581.6 210.8a2.75 2.75 0 1 0 5.5 0a2.75 2.75 0 1 0 -5.5 0M581.7 214.8a2.75 2.75 0 1 0 5.5 0a2.75 2.75 0 1 0 -5.5 0M581.9 213.5a2.75 2.75 0 1 0 5.5 0a2.75 2.75 0 1 0 -5.5 0M582.1 213.5a2.75 2.75 0 1 0 5.5 0a2.75 2.75 0 1 0 -5.5 0M582.2 213.5a2.75 2.75 0 1 0 5.5 0a2.75 2.75 0 1 0 -5.5 0M582.4 213.5a2.75 2.75 0 1 0 5.5 0a2.75 2.75 0 1 0 -5.5 0M582.6 212.1a2.75 2.75 0 1 0 5.5 0a2.75 2.75 0 1 0 -5.5 0M582.7 213.5a2.75 2.75 0 1 0 5.5 0a2.75 2.75 0 1 0 -5.5 0M582.9 208.0a2.75 2.75 0 1 0 5.5 0a2.75 2.75 0 1 0 -5.5 0M583.1 209.4a2.75 2.75 0 1 0 5.5 0a2.75 2.75 0 1 0 -5.5 0M583.2 216.2a2.75 2.75 0 1 0 5.5 0a2.75 2.75 0 1 0 -5.5 0M583.4 212.1a2.75 2.75 0 1 0 5.5 0a2.75 2.75 0 1 0 -5.5 0M583.6 210.8a2.75 2.75 0 1 0 5.5 0a2.75 2.75 0 1 0 -5.5 0M583.7 212.1a2.75 2.75 0 1 0 5.5 0a2.75 2.75 0 1 0 -5.5 0M583.9 213.5a2.75 2.75 0 1 0 5.5 0a2.75 2.75 0 1 0 -5.5 0M584.1 214.8a2.75 2.75 0 1 0 5.5 0a2.75 2.75 0 1 0 -5.5 0M584.2 216.2a2.75 2.75 0 1 0 5.5 0a2.75 2.75 0 1 0 -5.5 0M584.4 214.8a2.75 2.75 0 1 0 5.5 0a2.75 2.75 0 1 0 -5.5 0M584.5 213.5a2.75 2.75 0 1 0 5.5 0a2.75 2.75 0 1 0 -5.5 0M584.7 212.1a2.75 2.75 0 1 0 5.5 0a2.75 2.75 0 1 0 -5.5 0M584.9 216.2a2.75 2.75 0 1 0 5.5 0a2.75 2.75 0 1 0 -5.5 0M585.0 216.2a2.75 2.75 0 1 0 5.5 0a2.75 2.75 0 1 0 -5.5 0M585.2 209.4a2.75 2.75 0 1 0 5.5 0a2.75 2.75 0 1 0 -5.5 0M585.4 212.1a2.75 2.75 0 1 0 5.5 0a2.75 2.75 0 1 0 -5.5 0M585.5 212.1a2.75 2.75 0 1 0 5.5 0a2.75 2.75 0 1 0 -5.5 0M585.7 213.5a2.75 2.75 0 1 0 5.5 0a2.75 2.75 0 1 0 -5.5 0M585.9 213.5a2.75 2.75 0 1 0 5.5 0a2.75 2.75 0 1 0 -5.5 0M586.0 213.5a2.75 2.75 0 1 0 5.5 0a2.75 2.75 0 1 0 -5.5 0M586.2 214.8a2.75 2.75 0 1 0 5.5 0a2.75 2.75 0 1 0 -5.5 0M586.4 209.4a2.75 2.75 0 1 0 5.5 0a2.75 2.75 0 1 0 -5.5 0M586.5 212.1a2.75 2.75 0 1 0 5.5 0a2.75 2.75 0 1 0 -5.5 0M586.7 214.8a2.75 2.75 0 1 0 5.5 0a2.75 2.75 0 1 0 -5.5 0M586.9 213.5a2.75 2.75 0 1 0 5.5 0a2.75 2.75 0 1 0 -5.5 0M587.0 216.2a2.75 2.75 0 1 0 5.5 0a2.75 2.75 0 1 0 -5.5 0M587.2 212.1a2.75 2.75 0 1 0 5.5 0a2.75 2.75 0 1 0 -5.5 0M587.3 214.8a2.75 2.75 0 1 0 5.5 0a2.75 2.75 0 1 0 -5.5 0M587.5 210.8a2.75 2.75 0 1 0 5.5 0a2.75 2.75 0 1 0 -5.5 0M587.7 214.8a2.75 2.75 0 1 0 5.5 0a2.75 2.75 0 1 0 -5.5 0M587.8 214.8a2.75 2.75 0 1 0 5.5 0a2.75 2.75 0 1 0 -5.5 0M588.0 212.1a2.75 2.75 0 1 0 5.5 0a2.75 2.75 0 1 0 -5.5 0M588.2 216.2a2.75 2.75 0 1 0 5.5 0a2.75 2.75 0 1 0 -5.5 0M588.3 213.5a2.75 2.75 0 1 0 5.5 0a2.75 2.75 0 1 0 -5.5 0M588.5 216.2a2.75 2.75 0 1 0 5.5 0a2.75 2.75 0 1 0 -5.5 0M588.7 214.8a2.75 2.75 0 1 0 5.5 0a2.75 2.75 0 1 0 -5.5 0M588.8 214.8a2.75 2.75 0 1 0 5.5 0a2.75 2.75 0 1 0 -5.5 0M589.0 213.5a2.75 2.75 0 1 0 5.5 0a2.75 2.75 0 1 0 -5.5 0M589.2 214.8a2.75 2.75 0 1 0 5.5 0a2.75 2.75 0 1 0 -5.5 0M589.3 213.5a2.75 2.75 0 1 0 5.5 0a2.75 2.75 0 1 0 -5.5 0M589.5 216.2a2.75 2.75 0 1 0 5.5 0a2.75 2.75 0 1 0 -5.5 0M589.7 214.8a2.75 2.75 0 1 0 5.5 0a2.75 2.75 0 1 0 -5.5 0M589.8 214.8a2.75 2.75 0 1 0 5.5 0a2.75 2.75 0 1 0 -5.5 0M590.0 214.8a2.75 2.75 0 1 0 5.5 0a2.75 2.75 0 1 0 -5.5 0M590.1 216.2a2.75 2.75 0 1 0 5.5 0a2.75 2.75 0 1 0 -5.5 0M590.3 216.2a2.75 2.75 0 1 0 5.5 0a2.75 2.75 0 1 0 -5.5 0M590.5 216.2a2.75 2.75 0 1 0 5.5 0a2.75 2.75 0 1 0 -5.5 0M590.6 214.8a2.75 2.75 0 1 0 5.5 0a2.75 2.75 0 1 0 -5.5 0M590.8 216.2a2.75 2.75 0 1 0 5.5 0a2.75 2.75 0 1 0 -5.5 0M591.0 216.2a2.75 2.75 0 1 0 5.5 0a2.75 2.75 0 1 0 -5.5 0M591.1 214.8a2.75 2.75 0 1 0 5.5 0a2.75 2.75 0 1 0 -5.5 0M591.3 213.5a2.75 2.75 0 1 0 5.5 0a2.75 2.75 0 1 0 -5.5 0M591.5 214.8a2.75 2.75 0 1 0 5.5 0a2.75 2.75 0 1 0 -5.5 0M591.6 213.5a2.75 2.75 0 1 0 5.5 0a2.75 2.75 0 1 0 -5.5 0M591.8 214.8a2.75 2.75 0 1 0 5.5 0a2.75 2.75 0 1 0 -5.5 0M592.0 216.2a2.75 2.75 0 1 0 5.5 0a2.75 2.75 0 1 0 -5.5 0M592.1 214.8a2.75 2.75 0 1 0 5.5 0a2.75 2.75 0 1 0 -5.5 0M592.3 216.2a2.75 2.75 0 1 0 5.5 0a2.75 2.75 0 1 0 -5.5 0M592.5 212.1a2.75 2.75 0 1 0 5.5 0a2.75 2.75 0 1 0 -5.5 0M592.6 214.8a2.75 2.75 0 1 0 5.5 0a2.75 2.75 0 1 0 -5.5 0M592.8 213.5a2.75 2.75 0 1 0 5.5 0a2.75 2.75 0 1 0 -5.5 0M592.9 216.2a2.75 2.75 0 1 0 5.5 0a2.75 2.75 0 1 0 -5.5 0M593.1 214.8a2.75 2.75 0 1 0 5.5 0a2.75 2.75 0 1 0 -5.5 0M593.3 212.1a2.75 2.75 0 1 0 5.5 0a2.75 2.75 0 1 0 -5.5 0M593.4 212.1a2.75 2.75 0 1 0 5.5 0a2.75 2.75 0 1 0 -5.5 0M593.6 216.2a2.75 2.75 0 1 0 5.5 0a2.75 2.75 0 1 0 -5.5 0M593.8 214.8a2.75 2.75 0 1 0 5.5 0a2.75 2.75 0 1 0 -5.5 0M593.9 216.2a2.75 2.75 0 1 0 5.5 0a2.75 2.75 0 1 0 -5.5 0M594.1 214.8a2.75 2.75 0 1 0 5.5 0a2.75 2.75 0 1 0 -5.5 0M594.3 214.8a2.75 2.75 0 1 0 5.5 0a2.75 2.75 0 1 0 -5.5 0M594.4 213.5a2.75 2.75 0 1 0 5.5 0a2.75 2.75 0 1 0 -5.5 0M594.6 216.2a2.75 2.75 0 1 0 5.5 0a2.75 2.75 0 1 0 -5.5 0M594.8 214.8a2.75 2.75 0 1 0 5.5 0a2.75 2.75 0 1 0 -5.5 0M594.9 214.8a2.75 2.75 0 1 0 5.5 0a2.75 2.75 0 1 0 -5.5 0M595.1 212.1a2.75 2.75 0 1 0 5.5 0a2.75 2.75 0 1 0 -5.5 0M595.3 216.2a2.75 2.75 0 1 0 5.5 0a2.75 2.75 0 1 0 -5.5 0M595.4 216.2a2.75 2.75 0 1 0 5.5 0a2.75 2.75 0 1 0 -5.5 0M595.6 216.2a2.75 2.75 0 1 0 5.5 0a2.75 2.75 0 1 0 -5.5 0M595.8 214.8a2.75 2.75 0 1 0 5.5 0a2.75 2.75 0 1 0 -5.5 0M595.9 216.2a2.75 2.75 0 1 0 5.5 0a2.75 2.75 0 1 0 -5.5 0M596.1 214.8a2.75 2.75 0 1 0 5.5 0a2.75 2.75 0 1 0 -5.5 0M596.2 213.5a2.75 2.75 0 1 0 5.5 0a2.75 2.75 0 1 0 -5.5 0M596.4 216.2a2.75 2.75 0 1 0 5.5 0a2.75 2.75 0 1 0 -5.5 0M596.6 214.8a2.75 2.75 0 1 0 5.5 0a2.75 2.75 0 1 0 -5.5 0M596.7 213.5a2.75 2.75 0 1 0 5.5 0a2.75 2.75 0 1 0 -5.5 0M596.9 216.2a2.75 2.75 0 1 0 5.5 0a2.75 2.75 0 1 0 -5.5 0M597.1 214.8a2.75 2.75 0 1 0 5.5 0a2.75 2.75 0 1 0 -5.5 0M597.2 213.5a2.75 2.75 0 1 0 5.5 0a2.75 2.75 0 1 0 -5.5 0M597.4 216.2a2.75 2.75 0 1 0 5.5 0a2.75 2.75 0 1 0 -5.5 0M597.6 214.8a2.75 2.75 0 1 0 5.5 0a2.75 2.75 0 1 0 -5.5 0M597.7 214.8a2.75 2.75 0 1 0 5.5 0a2.75 2.75 0 1 0 -5.5 0M597.9 216.2a2.75 2.75 0 1 0 5.5 0a2.75 2.75 0 1 0 -5.5 0M598.1 213.5a2.75 2.75 0 1 0 5.5 0a2.75 2.75 0 1 0 -5.5 0M598.2 216.2a2.75 2.75 0 1 0 5.5 0a2.75 2.75 0 1 0 -5.5 0M598.4 216.2a2.75 2.75 0 1 0 5.5 0a2.75 2.75 0 1 0 -5.5 0M598.6 216.2a2.75 2.75 0 1 0 5.5 0a2.75 2.75 0 1 0 -5.5 0M598.7 214.8a2.75 2.75 0 1 0 5.5 0a2.75 2.75 0 1 0 -5.5 0M598.9 216.2a2.75 2.75 0 1 0 5.5 0a2.75 2.75 0 1 0 -5.5 0M599.0 216.2a2.75 2.75 0 1 0 5.5 0a2.75 2.75 0 1 0 -5.5 0M599.2 214.8a2.75 2.75 0 1 0 5.5 0a2.75 2.75 0 1 0 -5.5 0M599.4 213.5a2.75 2.75 0 1 0 5.5 0a2.75 2.75 0 1 0 -5.5 0M599.5 216.2a2.75 2.75 0 1 0 5.5 0a2.75 2.75 0 1 0 -5.5 0M599.7 214.8a2.75 2.75 0 1 0 5.5 0a2.75 2.75 0 1 0 -5.5 0M599.9 214.8a2.75 2.75 0 1 0 5.5 0a2.75 2.75 0 1 0 -5.5 0M600.0 216.2a2.75 2.75 0 1 0 5.5 0a2.75 2.75 0 1 0 -5.5 0M600.2 213.5a2.75 2.75 0 1 0 5.5 0a2.75 2.75 0 1 0 -5.5 0M600.4 216.2a2.75 2.75 0 1 0 5.5 0a2.75 2.75 0 1 0 -5.5 0M600.5 214.8a2.75 2.75 0 1 0 5.5 0a2.75 2.75 0 1 0 -5.5 0M600.7 216.2a2.75 2.75 0 1 0 5.5 0a2.75 2.75 0 1 0 -5.5 0M600.9 216.2a2.75 2.75 0 1 0 5.5 0a2.75 2.75 0 1 0 -5.5 0M601.0 214.8a2.75 2.75 0 1 0 5.5 0a2.75 2.75 0 1 0 -5.5 0M601.2 214.8a2.75 2.75 0 1 0 5.5 0a2.75 2.75 0 1 0 -5.5 0M601.4 216.2a2.75 2.75 0 1 0 5.5 0a2.75 2.75 0 1 0 -5.5 0M601.5 216.2a2.75 2.75 0 1 0 5.5 0a2.75 2.75 0 1 0 -5.5 0M601.7 216.2a2.75 2.75 0 1 0 5.5 0a2.75 2.75 0 1 0 -5.5 0M601.8 216.2a2.75 2.75 0 1 0 5.5 0a2.75 2.75 0 1 0 -5.5 0M602.0 213.5a2.75 2.75 0 1 0 5.5 0a2.75 2.75 0 1 0 -5.5 0M602.2 216.2a2.75 2.75 0 1 0 5.5 0a2.75 2.75 0 1 0 -5.5 0M602.3 214.8a2.75 2.75 0 1 0 5.5 0a2.75 2.75 0 1 0 -5.5 0M602.5 216.2a2.75 2.75 0 1 0 5.5 0a2.75 2.75 0 1 0 -5.5 0M602.7 213.5a2.75 2.75 0 1 0 5.5 0a2.75 2.75 0 1 0 -5.5 0M602.8 213.5a2.75 2.75 0 1 0 5.5 0a2.75 2.75 0 1 0 -5.5 0M603.0 216.2a2.75 2.75 0 1 0 5.5 0a2.75 2.75 0 1 0 -5.5 0M603.2 216.2a2.75 2.75 0 1 0 5.5 0a2.75 2.75 0 1 0 -5.5 0M603.3 213.5a2.75 2.75 0 1 0 5.5 0a2.75 2.75 0 1 0 -5.5 0M603.5 216.2a2.75 2.75 0 1 0 5.5 0a2.75 2.75 0 1 0 -5.5 0M603.7 216.2a2.75 2.75 0 1 0 5.5 0a2.75 2.75 0 1 0 -5.5 0M603.8 214.8a2.75 2.75 0 1 0 5.5 0a2.75 2.75 0 1 0 -5.5 0M604.0 213.5a2.75 2.75 0 1 0 5.5 0a2.75 2.75 0 1 0 -5.5 0M604.2 216.2a2.75 2.75 0 1 0 5.5 0a2.75 2.75 0 1 0 -5.5 0M604.3 212.1a2.75 2.75 0 1 0 5.5 0a2.75 2.75 0 1 0 -5.5 0M604.5 216.2a2.75 2.75 0 1 0 5.5 0a2.75 2.75 0 1 0 -5.5 0M604.6 216.2a2.75 2.75 0 1 0 5.5 0a2.75 2.75 0 1 0 -5.5 0M604.8 216.2a2.75 2.75 0 1 0 5.5 0a2.75 2.75 0 1 0 -5.5 0M605.0 214.8a2.75 2.75 0 1 0 5.5 0a2.75 2.75 0 1 0 -5.5 0M605.1 214.8a2.75 2.75 0 1 0 5.5 0a2.75 2.75 0 1 0 -5.5 0M605.3 214.8a2.75 2.75 0 1 0 5.5 0a2.75 2.75 0 1 0 -5.5 0M605.5 216.2a2.75 2.75 0 1 0 5.5 0a2.75 2.75 0 1 0 -5.5 0M605.6 216.2a2.75 2.75 0 1 0 5.5 0a2.75 2.75 0 1 0 -5.5 0M605.8 214.8a2.75 2.75 0 1 0 5.5 0a2.75 2.75 0 1 0 -5.5 0M606.0 216.2a2.75 2.75 0 1 0 5.5 0a2.75 2.75 0 1 0 -5.5 0M606.1 213.5a2.75 2.75 0 1 0 5.5 0a2.75 2.75 0 1 0 -5.5 0M606.3 216.2a2.75 2.75 0 1 0 5.5 0a2.75 2.75 0 1 0 -5.5 0M606.5 214.8a2.75 2.75 0 1 0 5.5 0a2.75 2.75 0 1 0 -5.5 0M606.6 214.8a2.75 2.75 0 1 0 5.5 0a2.75 2.75 0 1 0 -5.5 0M606.8 216.2a2.75 2.75 0 1 0 5.5 0a2.75 2.75 0 1 0 -5.5 0M607.0 213.5a2.75 2.75 0 1 0 5.5 0a2.75 2.75 0 1 0 -5.5 0M607.1 214.8a2.75 2.75 0 1 0 5.5 0a2.75 2.75 0 1 0 -5.5 0M607.3 214.8a2.75 2.75 0 1 0 5.5 0a2.75 2.75 0 1 0 -5.5 0M607.4 213.5a2.75 2.75 0 1 0 5.5 0a2.75 2.75 0 1 0 -5.5 0M607.6 216.2a2.75 2.75 0 1 0 5.5 0a2.75 2.75 0 1 0 -5.5 0M607.8 213.5a2.75 2.75 0 1 0 5.5 0a2.75 2.75 0 1 0 -5.5 0M607.9 216.2a2.75 2.75 0 1 0 5.5 0a2.75 2.75 0 1 0 -5.5 0M608.1 214.8a2.75 2.75 0 1 0 5.5 0a2.75 2.75 0 1 0 -5.5 0M608.3 216.2a2.75 2.75 0 1 0 5.5 0a2.75 2.75 0 1 0 -5.5 0M608.4 216.2a2.75 2.75 0 1 0 5.5 0a2.75 2.75 0 1 0 -5.5 0M608.6 213.5a2.75 2.75 0 1 0 5.5 0a2.75 2.75 0 1 0 -5.5 0M608.8 216.2a2.75 2.75 0 1 0 5.5 0a2.75 2.75 0 1 0 -5.5 0M608.9 216.2a2.75 2.75 0 1 0 5.5 0a2.75 2.75 0 1 0 -5.5 0M609.1 216.2a2.75 2.75 0 1 0 5.5 0a2.75 2.75 0 1 0 -5.5 0M609.3 214.8a2.75 2.75 0 1 0 5.5 0a2.75 2.75 0 1 0 -5.5 0M609.4 213.5a2.75 2.75 0 1 0 5.5 0a2.75 2.75 0 1 0 -5.5 0M609.6 214.8a2.75 2.75 0 1 0 5.5 0a2.75 2.75 0 1 0 -5.5 0M609.8 216.2a2.75 2.75 0 1 0 5.5 0a2.75 2.75 0 1 0 -5.5 0M609.9 216.2a2.75 2.75 0 1 0 5.5 0a2.75 2.75 0 1 0 -5.5 0M610.1 214.8a2.75 2.75 0 1 0 5.5 0a2.75 2.75 0 1 0 -5.5 0M610.2 216.2a2.75 2.75 0 1 0 5.5 0a2.75 2.75 0 1 0 -5.5 0M610.4 216.2a2.75 2.75 0 1 0 5.5 0a2.75 2.75 0 1 0 -5.5 0M610.6 216.2a2.75 2.75 0 1 0 5.5 0a2.75 2.75 0 1 0 -5.5 0M610.7 214.8a2.75 2.75 0 1 0 5.5 0a2.75 2.75 0 1 0 -5.5 0M610.9 213.5a2.75 2.75 0 1 0 5.5 0a2.75 2.75 0 1 0 -5.5 0M611.1 214.8a2.75 2.75 0 1 0 5.5 0a2.75 2.75 0 1 0 -5.5 0M611.2 214.8a2.75 2.75 0 1 0 5.5 0a2.75 2.75 0 1 0 -5.5 0M611.4 216.2a2.75 2.75 0 1 0 5.5 0a2.75 2.75 0 1 0 -5.5 0M611.6 214.8a2.75 2.75 0 1 0 5.5 0a2.75 2.75 0 1 0 -5.5 0M611.7 216.2a2.75 2.75 0 1 0 5.5 0a2.75 2.75 0 1 0 -5.5 0M611.9 214.8a2.75 2.75 0 1 0 5.5 0a2.75 2.75 0 1 0 -5.5 0M612.1 216.2a2.75 2.75 0 1 0 5.5 0a2.75 2.75 0 1 0 -5.5 0M612.2 216.2a2.75 2.75 0 1 0 5.5 0a2.75 2.75 0 1 0 -5.5 0M612.4 216.2a2.75 2.75 0 1 0 5.5 0a2.75 2.75 0 1 0 -5.5 0M612.6 216.2a2.75 2.75 0 1 0 5.5 0a2.75 2.75 0 1 0 -5.5 0M612.7 216.2a2.75 2.75 0 1 0 5.5 0a2.75 2.75 0 1 0 -5.5 0M612.9 216.2a2.75 2.75 0 1 0 5.5 0a2.75 2.75 0 1 0 -5.5 0M613.0 214.8a2.75 2.75 0 1 0 5.5 0a2.75 2.75 0 1 0 -5.5 0M613.2 216.2a2.75 2.75 0 1 0 5.5 0a2.75 2.75 0 1 0 -5.5 0M613.4 213.5a2.75 2.75 0 1 0 5.5 0a2.75 2.75 0 1 0 -5.5 0M613.5 214.8a2.75 2.75 0 1 0 5.5 0a2.75 2.75 0 1 0 -5.5 0M613.7 216.2a2.75 2.75 0 1 0 5.5 0a2.75 2.75 0 1 0 -5.5 0M613.9 216.2a2.75 2.75 0 1 0 5.5 0a2.75 2.75 0 1 0 -5.5 0M614.0 213.5a2.75 2.75 0 1 0 5.5 0a2.75 2.75 0 1 0 -5.5 0M614.2 216.2a2.75 2.75 0 1 0 5.5 0a2.75 2.75 0 1 0 -5.5 0M614.4 216.2a2.75 2.75 0 1 0 5.5 0a2.75 2.75 0 1 0 -5.5 0M614.5 214.8a2.75 2.75 0 1 0 5.5 0a2.75 2.75 0 1 0 -5.5 0M614.7 216.2a2.75 2.75 0 1 0 5.5 0a2.75 2.75 0 1 0 -5.5 0M614.9 216.2a2.75 2.75 0 1 0 5.5 0a2.75 2.75 0 1 0 -5.5 0M615.0 214.8a2.75 2.75 0 1 0 5.5 0a2.75 2.75 0 1 0 -5.5 0M615.2 214.8a2.75 2.75 0 1 0 5.5 0a2.75 2.75 0 1 0 -5.5 0M615.4 216.2a2.75 2.75 0 1 0 5.5 0a2.75 2.75 0 1 0 -5.5 0M615.5 216.2a2.75 2.75 0 1 0 5.5 0a2.75 2.75 0 1 0 -5.5 0M615.7 214.8a2.75 2.75 0 1 0 5.5 0a2.75 2.75 0 1 0 -5.5 0M615.8 216.2a2.75 2.75 0 1 0 5.5 0a2.75 2.75 0 1 0 -5.5 0M616.0 216.2a2.75 2.75 0 1 0 5.5 0a2.75 2.75 0 1 0 -5.5 0M616.2 214.8a2.75 2.75 0 1 0 5.5 0a2.75 2.75 0 1 0 -5.5 0M616.3 216.2a2.75 2.75 0 1 0 5.5 0a2.75 2.75 0 1 0 -5.5 0M616.5 216.2a2.75 2.75 0 1 0 5.5 0a2.75 2.75 0 1 0 -5.5 0M616.7 214.8a2.75 2.75 0 1 0 5.5 0a2.75 2.75 0 1 0 -5.5 0M616.8 216.2a2.75 2.75 0 1 0 5.5 0a2.75 2.75 0 1 0 -5.5 0M617.0 216.2a2.75 2.75 0 1 0 5.5 0a2.75 2.75 0 1 0 -5.5 0M617.2 214.8a2.75 2.75 0 1 0 5.5 0a2.75 2.75 0 1 0 -5.5 0M617.3 214.8a2.75 2.75 0 1 0 5.5 0a2.75 2.75 0 1 0 -5.5 0M617.5 216.2a2.75 2.75 0 1 0 5.5 0a2.75 2.75 0 1 0 -5.5 0M617.7 214.8a2.75 2.75 0 1 0 5.5 0a2.75 2.75 0 1 0 -5.5 0M617.8 216.2a2.75 2.75 0 1 0 5.5 0a2.75 2.75 0 1 0 -5.5 0M618.0 213.5a2.75 2.75 0 1 0 5.5 0a2.75 2.75 0 1 0 -5.5 0M618.2 216.2a2.75 2.75 0 1 0 5.5 0a2.75 2.75 0 1 0 -5.5 0M618.3 214.8a2.75 2.75 0 1 0 5.5 0a2.75 2.75 0 1 0 -5.5 0M618.5 214.8a2.75 2.75 0 1 0 5.5 0a2.75 2.75 0 1 0 -5.5 0M618.6 216.2a2.75 2.75 0 1 0 5.5 0a2.75 2.75 0 1 0 -5.5 0M618.8 216.2a2.75 2.75 0 1 0 5.5 0a2.75 2.75 0 1 0 -5.5 0M619.0 214.8a2.75 2.75 0 1 0 5.5 0a2.75 2.75 0 1 0 -5.5 0M619.1 213.5a2.75 2.75 0 1 0 5.5 0a2.75 2.75 0 1 0 -5.5 0M619.3 213.5a2.75 2.75 0 1 0 5.5 0a2.75 2.75 0 1 0 -5.5 0M619.5 214.8a2.75 2.75 0 1 0 5.5 0a2.75 2.75 0 1 0 -5.5 0M619.6 214.8a2.75 2.75 0 1 0 5.5 0a2.75 2.75 0 1 0 -5.5 0M619.8 214.8a2.75 2.75 0 1 0 5.5 0a2.75 2.75 0 1 0 -5.5 0M620.0 216.2a2.75 2.75 0 1 0 5.5 0a2.75 2.75 0 1 0 -5.5 0M620.1 213.5a2.75 2.75 0 1 0 5.5 0a2.75 2.75 0 1 0 -5.5 0M620.3 214.8a2.75 2.75 0 1 0 5.5 0a2.75 2.75 0 1 0 -5.5 0M620.5 216.2a2.75 2.75 0 1 0 5.5 0a2.75 2.75 0 1 0 -5.5 0M620.6 214.8a2.75 2.75 0 1 0 5.5 0a2.75 2.75 0 1 0 -5.5 0M620.8 214.8a2.75 2.75 0 1 0 5.5 0a2.75 2.75 0 1 0 -5.5 0M621.0 216.2a2.75 2.75 0 1 0 5.5 0a2.75 2.75 0 1 0 -5.5 0M621.1 214.8a2.75 2.75 0 1 0 5.5 0a2.75 2.75 0 1 0 -5.5 0M621.3 216.2a2.75 2.75 0 1 0 5.5 0a2.75 2.75 0 1 0 -5.5 0M621.4 216.2a2.75 2.75 0 1 0 5.5 0a2.75 2.75 0 1 0 -5.5 0M621.6 214.8a2.75 2.75 0 1 0 5.5 0a2.75 2.75 0 1 0 -5.5 0M621.8 216.2a2.75 2.75 0 1 0 5.5 0a2.75 2.75 0 1 0 -5.5 0M621.9 216.2a2.75 2.75 0 1 0 5.5 0a2.75 2.75 0 1 0 -5.5 0M622.1 216.2a2.75 2.75 0 1 0 5.5 0a2.75 2.75 0 1 0 -5.5 0M622.3 216.2a2.75 2.75 0 1 0 5.5 0a2.75 2.75 0 1 0 -5.5 0M622.4 214.8a2.75 2.75 0 1 0 5.5 0a2.75 2.75 0 1 0 -5.5 0M622.6 214.8a2.75 2.75 0 1 0 5.5 0a2.75 2.75 0 1 0 -5.5 0M622.8 214.8a2.75 2.75 0 1 0 5.5 0a2.75 2.75 0 1 0 -5.5 0M622.9 216.2a2.75 2.75 0 1 0 5.5 0a2.75 2.75 0 1 0 -5.5 0M623.1 216.2a2.75 2.75 0 1 0 5.5 0a2.75 2.75 0 1 0 -5.5 0M623.3 216.2a2.75 2.75 0 1 0 5.5 0a2.75 2.75 0 1 0 -5.5 0M623.4 216.2a2.75 2.75 0 1 0 5.5 0a2.75 2.75 0 1 0 -5.5 0M623.6 214.8a2.75 2.75 0 1 0 5.5 0a2.75 2.75 0 1 0 -5.5 0M623.8 216.2a2.75 2.75 0 1 0 5.5 0a2.75 2.75 0 1 0 -5.5 0M623.9 216.2a2.75 2.75 0 1 0 5.5 0a2.75 2.75 0 1 0 -5.5 0M624.1 216.2a2.75 2.75 0 1 0 5.5 0a2.75 2.75 0 1 0 -5.5 0M624.2 216.2a2.75 2.75 0 1 0 5.5 0a2.75 2.75 0 1 0 -5.5 0M624.4 216.2a2.75 2.75 0 1 0 5.5 0a2.75 2.75 0 1 0 -5.5 0M624.6 216.2a2.75 2.75 0 1 0 5.5 0a2.75 2.75 0 1 0 -5.5 0M624.7 216.2a2.75 2.75 0 1 0 5.5 0a2.75 2.75 0 1 0 -5.5 0M624.9 216.2a2.75 2.75 0 1 0 5.5 0a2.75 2.75 0 1 0 -5.5 0M625.1 216.2a2.75 2.75 0 1 0 5.5 0a2.75 2.75 0 1 0 -5.5 0M625.2 216.2a2.75 2.75 0 1 0 5.5 0a2.75 2.75 0 1 0 -5.5 0M625.4 214.8a2.75 2.75 0 1 0 5.5 0a2.75 2.75 0 1 0 -5.5 0M625.6 212.1a2.75 2.75 0 1 0 5.5 0a2.75 2.75 0 1 0 -5.5 0M625.7 214.8a2.75 2.75 0 1 0 5.5 0a2.75 2.75 0 1 0 -5.5 0M625.9 214.8a2.75 2.75 0 1 0 5.5 0a2.75 2.75 0 1 0 -5.5 0M626.1 216.2a2.75 2.75 0 1 0 5.5 0a2.75 2.75 0 1 0 -5.5 0M626.2 214.8a2.75 2.75 0 1 0 5.5 0a2.75 2.75 0 1 0 -5.5 0M626.4 214.8a2.75 2.75 0 1 0 5.5 0a2.75 2.75 0 1 0 -5.5 0M626.6 216.2a2.75 2.75 0 1 0 5.5 0a2.75 2.75 0 1 0 -5.5 0M626.7 216.2a2.75 2.75 0 1 0 5.5 0a2.75 2.75 0 1 0 -5.5 0M626.9 214.8a2.75 2.75 0 1 0 5.5 0a2.75 2.75 0 1 0 -5.5 0M627.0 216.2a2.75 2.75 0 1 0 5.5 0a2.75 2.75 0 1 0 -5.5 0M627.2 216.2a2.75 2.75 0 1 0 5.5 0a2.75 2.75 0 1 0 -5.5 0M627.4 214.8a2.75 2.75 0 1 0 5.5 0a2.75 2.75 0 1 0 -5.5 0M627.5 216.2a2.75 2.75 0 1 0 5.5 0a2.75 2.75 0 1 0 -5.5 0M627.7 216.2a2.75 2.75 0 1 0 5.5 0a2.75 2.75 0 1 0 -5.5 0M627.9 216.2a2.75 2.75 0 1 0 5.5 0a2.75 2.75 0 1 0 -5.5 0M628.0 216.2a2.75 2.75 0 1 0 5.5 0a2.75 2.75 0 1 0 -5.5 0M628.2 216.2a2.75 2.75 0 1 0 5.5 0a2.75 2.75 0 1 0 -5.5 0M628.4 214.8a2.75 2.75 0 1 0 5.5 0a2.75 2.75 0 1 0 -5.5 0M628.5 214.8a2.75 2.75 0 1 0 5.5 0a2.75 2.75 0 1 0 -5.5 0M628.7 216.2a2.75 2.75 0 1 0 5.5 0a2.75 2.75 0 1 0 -5.5 0M628.9 214.8a2.75 2.75 0 1 0 5.5 0a2.75 2.75 0 1 0 -5.5 0M629.0 216.2a2.75 2.75 0 1 0 5.5 0a2.75 2.75 0 1 0 -5.5 0M629.2 214.8a2.75 2.75 0 1 0 5.5 0a2.75 2.75 0 1 0 -5.5 0M629.4 216.2a2.75 2.75 0 1 0 5.5 0a2.75 2.75 0 1 0 -5.5 0M629.5 216.2a2.75 2.75 0 1 0 5.5 0a2.75 2.75 0 1 0 -5.5 0M629.7 216.2a2.75 2.75 0 1 0 5.5 0a2.75 2.75 0 1 0 -5.5 0M629.8 216.2a2.75 2.75 0 1 0 5.5 0a2.75 2.75 0 1 0 -5.5 0M630.0 216.2a2.75 2.75 0 1 0 5.5 0a2.75 2.75 0 1 0 -5.5 0M630.2 216.2a2.75 2.75 0 1 0 5.5 0a2.75 2.75 0 1 0 -5.5 0M630.3 216.2a2.75 2.75 0 1 0 5.5 0a2.75 2.75 0 1 0 -5.5 0M630.5 216.2a2.75 2.75 0 1 0 5.5 0a2.75 2.75 0 1 0 -5.5 0M630.7 216.2a2.75 2.75 0 1 0 5.5 0a2.75 2.75 0 1 0 -5.5 0M630.8 214.8a2.75 2.75 0 1 0 5.5 0a2.75 2.75 0 1 0 -5.5 0M631.0 216.2a2.75 2.75 0 1 0 5.5 0a2.75 2.75 0 1 0 -5.5 0M631.2 216.2a2.75 2.75 0 1 0 5.5 0a2.75 2.75 0 1 0 -5.5 0M631.3 216.2a2.75 2.75 0 1 0 5.5 0a2.75 2.75 0 1 0 -5.5 0M631.5 216.2a2.75 2.75 0 1 0 5.5 0a2.75 2.75 0 1 0 -5.5 0M631.7 216.2a2.75 2.75 0 1 0 5.5 0a2.75 2.75 0 1 0 -5.5 0M631.8 216.2a2.75 2.75 0 1 0 5.5 0a2.75 2.75 0 1 0 -5.5 0M632.0 216.2a2.75 2.75 0 1 0 5.5 0a2.75 2.75 0 1 0 -5.5 0M632.2 214.8a2.75 2.75 0 1 0 5.5 0a2.75 2.75 0 1 0 -5.5 0M632.3 216.2a2.75 2.75 0 1 0 5.5 0a2.75 2.75 0 1 0 -5.5 0M632.5 214.8a2.75 2.75 0 1 0 5.5 0a2.75 2.75 0 1 0 -5.5 0M632.7 214.8a2.75 2.75 0 1 0 5.5 0a2.75 2.75 0 1 0 -5.5 0M632.8 216.2a2.75 2.75 0 1 0 5.5 0a2.75 2.75 0 1 0 -5.5 0M633.0 214.8a2.75 2.75 0 1 0 5.5 0a2.75 2.75 0 1 0 -5.5 0M633.1 216.2a2.75 2.75 0 1 0 5.5 0a2.75 2.75 0 1 0 -5.5 0M633.3 213.5a2.75 2.75 0 1 0 5.5 0a2.75 2.75 0 1 0 -5.5 0M633.5 216.2a2.75 2.75 0 1 0 5.5 0a2.75 2.75 0 1 0 -5.5 0M633.6 216.2a2.75 2.75 0 1 0 5.5 0a2.75 2.75 0 1 0 -5.5 0M633.8 216.2a2.75 2.75 0 1 0 5.5 0a2.75 2.75 0 1 0 -5.5 0M634.0 216.2a2.75 2.75 0 1 0 5.5 0a2.75 2.75 0 1 0 -5.5 0M634.1 214.8a2.75 2.75 0 1 0 5.5 0a2.75 2.75 0 1 0 -5.5 0M634.3 216.2a2.75 2.75 0 1 0 5.5 0a2.75 2.75 0 1 0 -5.5 0M634.5 214.8a2.75 2.75 0 1 0 5.5 0a2.75 2.75 0 1 0 -5.5 0M634.6 214.8a2.75 2.75 0 1 0 5.5 0a2.75 2.75 0 1 0 -5.5 0M634.8 216.2a2.75 2.75 0 1 0 5.5 0a2.75 2.75 0 1 0 -5.5 0M635.0 216.2a2.75 2.75 0 1 0 5.5 0a2.75 2.75 0 1 0 -5.5 0M635.1 216.2a2.75 2.75 0 1 0 5.5 0a2.75 2.75 0 1 0 -5.5 0M635.3 216.2a2.75 2.75 0 1 0 5.5 0a2.75 2.75 0 1 0 -5.5 0M635.5 213.5a2.75 2.75 0 1 0 5.5 0a2.75 2.75 0 1 0 -5.5 0M635.6 214.8a2.75 2.75 0 1 0 5.5 0a2.75 2.75 0 1 0 -5.5 0M635.8 216.2a2.75 2.75 0 1 0 5.5 0a2.75 2.75 0 1 0 -5.5 0M635.9 216.2a2.75 2.75 0 1 0 5.5 0a2.75 2.75 0 1 0 -5.5 0M636.1 216.2a2.75 2.75 0 1 0 5.5 0a2.75 2.75 0 1 0 -5.5 0M636.3 216.2a2.75 2.75 0 1 0 5.5 0a2.75 2.75 0 1 0 -5.5 0M636.4 214.8a2.75 2.75 0 1 0 5.5 0a2.75 2.75 0 1 0 -5.5 0M636.6 216.2a2.75 2.75 0 1 0 5.5 0a2.75 2.75 0 1 0 -5.5 0M636.8 216.2a2.75 2.75 0 1 0 5.5 0a2.75 2.75 0 1 0 -5.5 0M636.9 214.8a2.75 2.75 0 1 0 5.5 0a2.75 2.75 0 1 0 -5.5 0M637.1 216.2a2.75 2.75 0 1 0 5.5 0a2.75 2.75 0 1 0 -5.5 0M637.3 216.2a2.75 2.75 0 1 0 5.5 0a2.75 2.75 0 1 0 -5.5 0M637.4 216.2a2.75 2.75 0 1 0 5.5 0a2.75 2.75 0 1 0 -5.5 0M637.6 214.8a2.75 2.75 0 1 0 5.5 0a2.75 2.75 0 1 0 -5.5 0M637.8 214.8a2.75 2.75 0 1 0 5.5 0a2.75 2.75 0 1 0 -5.5 0M637.9 216.2a2.75 2.75 0 1 0 5.5 0a2.75 2.75 0 1 0 -5.5 0M638.1 214.8a2.75 2.75 0 1 0 5.5 0a2.75 2.75 0 1 0 -5.5 0M638.3 216.2a2.75 2.75 0 1 0 5.5 0a2.75 2.75 0 1 0 -5.5 0M638.4 216.2a2.75 2.75 0 1 0 5.5 0a2.75 2.75 0 1 0 -5.5 0M638.6 216.2a2.75 2.75 0 1 0 5.5 0a2.75 2.75 0 1 0 -5.5 0M638.7 216.2a2.75 2.75 0 1 0 5.5 0a2.75 2.75 0 1 0 -5.5 0M638.9 213.5a2.75 2.75 0 1 0 5.5 0a2.75 2.75 0 1 0 -5.5 0M639.1 214.8a2.75 2.75 0 1 0 5.5 0a2.75 2.75 0 1 0 -5.5 0M639.2 216.2a2.75 2.75 0 1 0 5.5 0a2.75 2.75 0 1 0 -5.5 0M639.4 216.2a2.75 2.75 0 1 0 5.5 0a2.75 2.75 0 1 0 -5.5 0M639.6 216.2a2.75 2.75 0 1 0 5.5 0a2.75 2.75 0 1 0 -5.5 0M639.7 214.8a2.75 2.75 0 1 0 5.5 0a2.75 2.75 0 1 0 -5.5 0M639.9 216.2a2.75 2.75 0 1 0 5.5 0a2.75 2.75 0 1 0 -5.5 0M640.1 216.2a2.75 2.75 0 1 0 5.5 0a2.75 2.75 0 1 0 -5.5 0M640.2 216.2a2.75 2.75 0 1 0 5.5 0a2.75 2.75 0 1 0 -5.5 0M640.4 216.2a2.75 2.75 0 1 0 5.5 0a2.75 2.75 0 1 0 -5.5 0M640.6 214.8a2.75 2.75 0 1 0 5.5 0a2.75 2.75 0 1 0 -5.5 0M640.7 213.5a2.75 2.75 0 1 0 5.5 0a2.75 2.75 0 1 0 -5.5 0M640.9 216.2a2.75 2.75 0 1 0 5.5 0a2.75 2.75 0 1 0 -5.5 0M641.1 216.2a2.75 2.75 0 1 0 5.5 0a2.75 2.75 0 1 0 -5.5 0M641.2 214.8a2.75 2.75 0 1 0 5.5 0a2.75 2.75 0 1 0 -5.5 0M641.4 216.2a2.75 2.75 0 1 0 5.5 0a2.75 2.75 0 1 0 -5.5 0M641.5 216.2a2.75 2.75 0 1 0 5.5 0a2.75 2.75 0 1 0 -5.5 0M641.7 214.8a2.75 2.75 0 1 0 5.5 0a2.75 2.75 0 1 0 -5.5 0M641.9 213.5a2.75 2.75 0 1 0 5.5 0a2.75 2.75 0 1 0 -5.5 0M642.0 216.2a2.75 2.75 0 1 0 5.5 0a2.75 2.75 0 1 0 -5.5 0M642.2 214.8a2.75 2.75 0 1 0 5.5 0a2.75 2.75 0 1 0 -5.5 0M642.4 216.2a2.75 2.75 0 1 0 5.5 0a2.75 2.75 0 1 0 -5.5 0M642.5 216.2a2.75 2.75 0 1 0 5.5 0a2.75 2.75 0 1 0 -5.5 0M642.7 216.2a2.75 2.75 0 1 0 5.5 0a2.75 2.75 0 1 0 -5.5 0M642.9 214.8a2.75 2.75 0 1 0 5.5 0a2.75 2.75 0 1 0 -5.5 0M643.0 216.2a2.75 2.75 0 1 0 5.5 0a2.75 2.75 0 1 0 -5.5 0M643.2 216.2a2.75 2.75 0 1 0 5.5 0a2.75 2.75 0 1 0 -5.5 0M643.4 214.8a2.75 2.75 0 1 0 5.5 0a2.75 2.75 0 1 0 -5.5 0M643.5 216.2a2.75 2.75 0 1 0 5.5 0a2.75 2.75 0 1 0 -5.5 0M643.7 216.2a2.75 2.75 0 1 0 5.5 0a2.75 2.75 0 1 0 -5.5 0M643.9 214.8a2.75 2.75 0 1 0 5.5 0a2.75 2.75 0 1 0 -5.5 0M644.0 216.2a2.75 2.75 0 1 0 5.5 0a2.75 2.75 0 1 0 -5.5 0M644.2 216.2a2.75 2.75 0 1 0 5.5 0a2.75 2.75 0 1 0 -5.5 0M644.3 216.2a2.75 2.75 0 1 0 5.5 0a2.75 2.75 0 1 0 -5.5 0M644.5 214.8a2.75 2.75 0 1 0 5.5 0a2.75 2.75 0 1 0 -5.5 0M644.7 216.2a2.75 2.75 0 1 0 5.5 0a2.75 2.75 0 1 0 -5.5 0M644.8 216.2a2.75 2.75 0 1 0 5.5 0a2.75 2.75 0 1 0 -5.5 0M645.0 216.2a2.75 2.75 0 1 0 5.5 0a2.75 2.75 0 1 0 -5.5 0M645.2 216.2a2.75 2.75 0 1 0 5.5 0a2.75 2.75 0 1 0 -5.5 0M645.3 216.2a2.75 2.75 0 1 0 5.5 0a2.75 2.75 0 1 0 -5.5 0M645.5 210.8a2.75 2.75 0 1 0 5.5 0a2.75 2.75 0 1 0 -5.5 0M645.7 214.8a2.75 2.75 0 1 0 5.5 0a2.75 2.75 0 1 0 -5.5 0M645.8 216.2a2.75 2.75 0 1 0 5.5 0a2.75 2.75 0 1 0 -5.5 0M646.0 216.2a2.75 2.75 0 1 0 5.5 0a2.75 2.75 0 1 0 -5.5 0M646.2 216.2a2.75 2.75 0 1 0 5.5 0a2.75 2.75 0 1 0 -5.5 0M646.3 213.5a2.75 2.75 0 1 0 5.5 0a2.75 2.75 0 1 0 -5.5 0M646.5 214.8a2.75 2.75 0 1 0 5.5 0a2.75 2.75 0 1 0 -5.5 0M646.7 214.8a2.75 2.75 0 1 0 5.5 0a2.75 2.75 0 1 0 -5.5 0M646.8 216.2a2.75 2.75 0 1 0 5.5 0a2.75 2.75 0 1 0 -5.5 0M647.0 216.2a2.75 2.75 0 1 0 5.5 0a2.75 2.75 0 1 0 -5.5 0M647.1 214.8a2.75 2.75 0 1 0 5.5 0a2.75 2.75 0 1 0 -5.5 0M647.3 214.8a2.75 2.75 0 1 0 5.5 0a2.75 2.75 0 1 0 -5.5 0M647.5 216.2a2.75 2.75 0 1 0 5.5 0a2.75 2.75 0 1 0 -5.5 0M647.6 213.5a2.75 2.75 0 1 0 5.5 0a2.75 2.75 0 1 0 -5.5 0M647.8 216.2a2.75 2.75 0 1 0 5.5 0a2.75 2.75 0 1 0 -5.5 0M648.0 216.2a2.75 2.75 0 1 0 5.5 0a2.75 2.75 0 1 0 -5.5 0M648.1 216.2a2.75 2.75 0 1 0 5.5 0a2.75 2.75 0 1 0 -5.5 0M648.3 214.8a2.75 2.75 0 1 0 5.5 0a2.75 2.75 0 1 0 -5.5 0M648.5 216.2a2.75 2.75 0 1 0 5.5 0a2.75 2.75 0 1 0 -5.5 0M648.6 216.2a2.75 2.75 0 1 0 5.5 0a2.75 2.75 0 1 0 -5.5 0M648.8 216.2a2.75 2.75 0 1 0 5.5 0a2.75 2.75 0 1 0 -5.5 0M649.0 214.8a2.75 2.75 0 1 0 5.5 0a2.75 2.75 0 1 0 -5.5 0M649.1 216.2a2.75 2.75 0 1 0 5.5 0a2.75 2.75 0 1 0 -5.5 0M649.3 216.2a2.75 2.75 0 1 0 5.5 0a2.75 2.75 0 1 0 -5.5 0M649.5 216.2a2.75 2.75 0 1 0 5.5 0a2.75 2.75 0 1 0 -5.5 0M649.6 216.2a2.75 2.75 0 1 0 5.5 0a2.75 2.75 0 1 0 -5.5 0M649.8 216.2a2.75 2.75 0 1 0 5.5 0a2.75 2.75 0 1 0 -5.5 0M649.9 214.8a2.75 2.75 0 1 0 5.5 0a2.75 2.75 0 1 0 -5.5 0M650.1 216.2a2.75 2.75 0 1 0 5.5 0a2.75 2.75 0 1 0 -5.5 0M650.3 216.2a2.75 2.75 0 1 0 5.5 0a2.75 2.75 0 1 0 -5.5 0M650.4 216.2a2.75 2.75 0 1 0 5.5 0a2.75 2.75 0 1 0 -5.5 0M650.6 216.2a2.75 2.75 0 1 0 5.5 0a2.75 2.75 0 1 0 -5.5 0M650.8 216.2a2.75 2.75 0 1 0 5.5 0a2.75 2.75 0 1 0 -5.5 0M650.9 214.8a2.75 2.75 0 1 0 5.5 0a2.75 2.75 0 1 0 -5.5 0M651.1 216.2a2.75 2.75 0 1 0 5.5 0a2.75 2.75 0 1 0 -5.5 0M651.3 216.2a2.75 2.75 0 1 0 5.5 0a2.75 2.75 0 1 0 -5.5 0M651.4 214.8a2.75 2.75 0 1 0 5.5 0a2.75 2.75 0 1 0 -5.5 0M651.6 216.2a2.75 2.75 0 1 0 5.5 0a2.75 2.75 0 1 0 -5.5 0M651.8 216.2a2.75 2.75 0 1 0 5.5 0a2.75 2.75 0 1 0 -5.5 0M651.9 216.2a2.75 2.75 0 1 0 5.5 0a2.75 2.75 0 1 0 -5.5 0M652.1 216.2a2.75 2.75 0 1 0 5.5 0a2.75 2.75 0 1 0 -5.5 0M652.3 216.2a2.75 2.75 0 1 0 5.5 0a2.75 2.75 0 1 0 -5.5 0M652.4 216.2a2.75 2.75 0 1 0 5.5 0a2.75 2.75 0 1 0 -5.5 0M652.6 214.8a2.75 2.75 0 1 0 5.5 0a2.75 2.75 0 1 0 -5.5 0M652.7 216.2a2.75 2.75 0 1 0 5.5 0a2.75 2.75 0 1 0 -5.5 0M652.9 214.8a2.75 2.75 0 1 0 5.5 0a2.75 2.75 0 1 0 -5.5 0M653.1 214.8a2.75 2.75 0 1 0 5.5 0a2.75 2.75 0 1 0 -5.5 0M653.2 214.8a2.75 2.75 0 1 0 5.5 0a2.75 2.75 0 1 0 -5.5 0M653.4 216.2a2.75 2.75 0 1 0 5.5 0a2.75 2.75 0 1 0 -5.5 0M653.6 214.8a2.75 2.75 0 1 0 5.5 0a2.75 2.75 0 1 0 -5.5 0M653.7 214.8a2.75 2.75 0 1 0 5.5 0a2.75 2.75 0 1 0 -5.5 0M653.9 214.8a2.75 2.75 0 1 0 5.5 0a2.75 2.75 0 1 0 -5.5 0M654.1 216.2a2.75 2.75 0 1 0 5.5 0a2.75 2.75 0 1 0 -5.5 0M654.2 216.2a2.75 2.75 0 1 0 5.5 0a2.75 2.75 0 1 0 -5.5 0M654.4 216.2a2.75 2.75 0 1 0 5.5 0a2.75 2.75 0 1 0 -5.5 0M654.6 216.2a2.75 2.75 0 1 0 5.5 0a2.75 2.75 0 1 0 -5.5 0M654.7 216.2a2.75 2.75 0 1 0 5.5 0a2.75 2.75 0 1 0 -5.5 0M654.9 214.8a2.75 2.75 0 1 0 5.5 0a2.75 2.75 0 1 0 -5.5 0M655.1 214.8a2.75 2.75 0 1 0 5.5 0a2.75 2.75 0 1 0 -5.5 0M655.2 216.2a2.75 2.75 0 1 0 5.5 0a2.75 2.75 0 1 0 -5.5 0M655.4 216.2a2.75 2.75 0 1 0 5.5 0a2.75 2.75 0 1 0 -5.5 0M655.5 216.2a2.75 2.75 0 1 0 5.5 0a2.75 2.75 0 1 0 -5.5 0M655.7 214.8a2.75 2.75 0 1 0 5.5 0a2.75 2.75 0 1 0 -5.5 0M655.9 216.2a2.75 2.75 0 1 0 5.5 0a2.75 2.75 0 1 0 -5.5 0M656.0 216.2a2.75 2.75 0 1 0 5.5 0a2.75 2.75 0 1 0 -5.5 0M656.2 214.8a2.75 2.75 0 1 0 5.5 0a2.75 2.75 0 1 0 -5.5 0M656.4 216.2a2.75 2.75 0 1 0 5.5 0a2.75 2.75 0 1 0 -5.5 0M656.5 216.2a2.75 2.75 0 1 0 5.5 0a2.75 2.75 0 1 0 -5.5 0M656.7 216.2a2.75 2.75 0 1 0 5.5 0a2.75 2.75 0 1 0 -5.5 0M656.9 216.2a2.75 2.75 0 1 0 5.5 0a2.75 2.75 0 1 0 -5.5 0M657.0 216.2a2.75 2.75 0 1 0 5.5 0a2.75 2.75 0 1 0 -5.5 0M657.2 216.2a2.75 2.75 0 1 0 5.5 0a2.75 2.75 0 1 0 -5.5 0M657.4 216.2a2.75 2.75 0 1 0 5.5 0a2.75 2.75 0 1 0 -5.5 0M657.5 214.8a2.75 2.75 0 1 0 5.5 0a2.75 2.75 0 1 0 -5.5 0M657.7 216.2a2.75 2.75 0 1 0 5.5 0a2.75 2.75 0 1 0 -5.5 0M657.9 216.2a2.75 2.75 0 1 0 5.5 0a2.75 2.75 0 1 0 -5.5 0M658.0 216.2a2.75 2.75 0 1 0 5.5 0a2.75 2.75 0 1 0 -5.5 0M658.2 216.2a2.75 2.75 0 1 0 5.5 0a2.75 2.75 0 1 0 -5.5 0M658.3 216.2a2.75 2.75 0 1 0 5.5 0a2.75 2.75 0 1 0 -5.5 0M658.5 216.2a2.75 2.75 0 1 0 5.5 0a2.75 2.75 0 1 0 -5.5 0M658.7 216.2a2.75 2.75 0 1 0 5.5 0a2.75 2.75 0 1 0 -5.5 0M658.8 216.2a2.75 2.75 0 1 0 5.5 0a2.75 2.75 0 1 0 -5.5 0M659.0 216.2a2.75 2.75 0 1 0 5.5 0a2.75 2.75 0 1 0 -5.5 0M659.2 216.2a2.75 2.75 0 1 0 5.5 0a2.75 2.75 0 1 0 -5.5 0M659.3 216.2a2.75 2.75 0 1 0 5.5 0a2.75 2.75 0 1 0 -5.5 0M659.5 216.2a2.75 2.75 0 1 0 5.5 0a2.75 2.75 0 1 0 -5.5 0M659.7 216.2a2.75 2.75 0 1 0 5.5 0a2.75 2.75 0 1 0 -5.5 0M659.8 216.2a2.75 2.75 0 1 0 5.5 0a2.75 2.75 0 1 0 -5.5 0M660.0 216.2a2.75 2.75 0 1 0 5.5 0a2.75 2.75 0 1 0 -5.5 0M660.2 216.2a2.75 2.75 0 1 0 5.5 0a2.75 2.75 0 1 0 -5.5 0M660.3 216.2a2.75 2.75 0 1 0 5.5 0a2.75 2.75 0 1 0 -5.5 0M660.5 216.2a2.75 2.75 0 1 0 5.5 0a2.75 2.75 0 1 0 -5.5 0M660.7 216.2a2.75 2.75 0 1 0 5.5 0a2.75 2.75 0 1 0 -5.5 0M660.8 216.2a2.75 2.75 0 1 0 5.5 0a2.75 2.75 0 1 0 -5.5 0M661.0 216.2a2.75 2.75 0 1 0 5.5 0a2.75 2.75 0 1 0 -5.5 0M661.1 216.2a2.75 2.75 0 1 0 5.5 0a2.75 2.75 0 1 0 -5.5 0M661.3 216.2a2.75 2.75 0 1 0 5.5 0a2.75 2.75 0 1 0 -5.5 0M661.5 216.2a2.75 2.75 0 1 0 5.5 0a2.75 2.75 0 1 0 -5.5 0M661.6 216.2a2.75 2.75 0 1 0 5.5 0a2.75 2.75 0 1 0 -5.5 0M661.8 214.8a2.75 2.75 0 1 0 5.5 0a2.75 2.75 0 1 0 -5.5 0M662.0 216.2a2.75 2.75 0 1 0 5.5 0a2.75 2.75 0 1 0 -5.5 0M662.1 214.8a2.75 2.75 0 1 0 5.5 0a2.75 2.75 0 1 0 -5.5 0M662.3 216.2a2.75 2.75 0 1 0 5.5 0a2.75 2.75 0 1 0 -5.5 0M662.5 216.2a2.75 2.75 0 1 0 5.5 0a2.75 2.75 0 1 0 -5.5 0M662.6 216.2a2.75 2.75 0 1 0 5.5 0a2.75 2.75 0 1 0 -5.5 0M662.8 216.2a2.75 2.75 0 1 0 5.5 0a2.75 2.75 0 1 0 -5.5 0M663.0 216.2a2.75 2.75 0 1 0 5.5 0a2.75 2.75 0 1 0 -5.5 0M663.1 216.2a2.75 2.75 0 1 0 5.5 0a2.75 2.75 0 1 0 -5.5 0M663.3 216.2a2.75 2.75 0 1 0 5.5 0a2.75 2.75 0 1 0 -5.5 0M663.5 216.2a2.75 2.75 0 1 0 5.5 0a2.75 2.75 0 1 0 -5.5 0M663.6 216.2a2.75 2.75 0 1 0 5.5 0a2.75 2.75 0 1 0 -5.5 0M663.8 216.2a2.75 2.75 0 1 0 5.5 0a2.75 2.75 0 1 0 -5.5 0M663.9 216.2a2.75 2.75 0 1 0 5.5 0a2.75 2.75 0 1 0 -5.5 0M664.1 216.2a2.75 2.75 0 1 0 5.5 0a2.75 2.75 0 1 0 -5.5 0M664.3 216.2a2.75 2.75 0 1 0 5.5 0a2.75 2.75 0 1 0 -5.5 0M664.4 216.2a2.75 2.75 0 1 0 5.5 0a2.75 2.75 0 1 0 -5.5 0M664.6 214.8a2.75 2.75 0 1 0 5.5 0a2.75 2.75 0 1 0 -5.5 0M664.8 216.2a2.75 2.75 0 1 0 5.5 0a2.75 2.75 0 1 0 -5.5 0M664.9 216.2a2.75 2.75 0 1 0 5.5 0a2.75 2.75 0 1 0 -5.5 0M665.1 216.2a2.75 2.75 0 1 0 5.5 0a2.75 2.75 0 1 0 -5.5 0M665.3 216.2a2.75 2.75 0 1 0 5.5 0a2.75 2.75 0 1 0 -5.5 0M665.4 216.2a2.75 2.75 0 1 0 5.5 0a2.75 2.75 0 1 0 -5.5 0M665.6 216.2a2.75 2.75 0 1 0 5.5 0a2.75 2.75 0 1 0 -5.5 0M665.8 216.2a2.75 2.75 0 1 0 5.5 0a2.75 2.75 0 1 0 -5.5 0M665.9 214.8a2.75 2.75 0 1 0 5.5 0a2.75 2.75 0 1 0 -5.5 0M666.1 216.2a2.75 2.75 0 1 0 5.5 0a2.75 2.75 0 1 0 -5.5 0M666.3 216.2a2.75 2.75 0 1 0 5.5 0a2.75 2.75 0 1 0 -5.5 0M666.4 213.5a2.75 2.75 0 1 0 5.5 0a2.75 2.75 0 1 0 -5.5 0M666.6 216.2a2.75 2.75 0 1 0 5.5 0a2.75 2.75 0 1 0 -5.5 0M666.8 216.2a2.75 2.75 0 1 0 5.5 0a2.75 2.75 0 1 0 -5.5 0M409.1 16.6a2.75 2.75 0 1 0 5.5 0a2.75 2.75 0 1 0 -5.5 0M408.4 24.6a2.75 2.75 0 1 0 5.5 0a2.75 2.75 0 1 0 -5.5 0M409.9 26.1a2.75 2.75 0 1 0 5.5 0a2.75 2.75 0 1 0 -5.5 0M411.4 33.9a2.75 2.75 0 1 0 5.5 0a2.75 2.75 0 1 0 -5.5 0M407.6 37.8a2.75 2.75 0 1 0 5.5 0a2.75 2.75 0 1 0 -5.5 0M413.4 37.3a2.75 2.75 0 1 0 5.5 0a2.75 2.75 0 1 0 -5.5 0M413.6 40.5a2.75 2.75 0 1 0 5.5 0a2.75 2.75 0 1 0 -5.5 0M413.4 43.7a2.75 2.75 0 1 0 5.5 0a2.75 2.75 0 1 0 -5.5 0M407.9 44.6a2.75 2.75 0 1 0 5.5 0a2.75 2.75 0 1 0 -5.5 0M406.9 42.3a2.75 2.75 0 1 0 5.5 0a2.75 2.75 0 1 0 -5.5 0M412.9 43.5a2.75 2.75 0 1 0 5.5 0a2.75 2.75 0 1 0 -5.5 0M407.8 46.7a2.75 2.75 0 1 0 5.5 0a2.75 2.75 0 1 0 -5.5 0M405.8 51.7a2.75 2.75 0 1 0 5.5 0a2.75 2.75 0 1 0 -5.5 0M406.8 52.5a2.75 2.75 0 1 0 5.5 0a2.75 2.75 0 1 0 -5.5 0M407.9 53.9a2.75 2.75 0 1 0 5.5 0a2.75 2.75 0 1 0 -5.5 0M411.9 53.9a2.75 2.75 0 1 0 5.5 0a2.75 2.75 0 1 0 -5.5 0M415.4 58.3a2.75 2.75 0 1 0 5.5 0a2.75 2.75 0 1 0 -5.5 0M408.9 60.7a2.75 2.75 0 1 0 5.5 0a2.75 2.75 0 1 0 -5.5 0M406.6 66.1a2.75 2.75 0 1 0 5.5 0a2.75 2.75 0 1 0 -5.5 0M415.4 66.1a2.75 2.75 0 1 0 5.5 0a2.75 2.75 0 1 0 -5.5 0M412.9 64.6a2.75 2.75 0 1 0 5.5 0a2.75 2.75 0 1 0 -5.5 0M405.1 72.0a2.75 2.75 0 1 0 5.5 0a2.75 2.75 0 1 0 -5.5 0M407.9 73.0a2.75 2.75 0 1 0 5.5 0a2.75 2.75 0 1 0 -5.5 0M412.4 74.4a2.75 2.75 0 1 0 5.5 0a2.75 2.75 0 1 0 -5.5 0M406.6 76.0a2.75 2.75 0 1 0 5.5 0a2.75 2.75 0 1 0 -5.5 0M411.9 77.0a2.75 2.75 0 1 0 5.5 0a2.75 2.75 0 1 0 -5.5 0M412.9 80.9a2.75 2.75 0 1 0 5.5 0a2.75 2.75 0 1 0 -5.5 0M414.9 78.0a2.75 2.75 0 1 0 5.5 0a2.75 2.75 0 1 0 -5.5 0M406.1 91.1a2.75 2.75 0 1 0 5.5 0a2.75 2.75 0 1 0 -5.5 0M415.4 88.7a2.75 2.75 0 1 0 5.5 0a2.75 2.75 0 1 0 -5.5 0M412.4 95.5a2.75 2.75 0 1 0 5.5 0a2.75 2.75 0 1 0 -5.5 0M416.2 99.0a2.75 2.75 0 1 0 5.5 0a2.75 2.75 0 1 0 -5.5 0M405.6 105.4a2.75 2.75 0 1 0 5.5 0a2.75 2.75 0 1 0 -5.5 0M415.4 100.5a2.75 2.75 0 1 0 5.5 0a2.75 2.75 0 1 0 -5.5 0M415.4 109.3a2.75 2.75 0 1 0 5.5 0a2.75 2.75 0 1 0 -5.5 0M415.9 115.6a2.75 2.75 0 1 0 5.5 0a2.75 2.75 0 1 0 -5.5 0M416.2 123.0a2.75 2.75 0 1 0 5.5 0a2.75 2.75 0 1 0 -5.5 0M405.6 129.6a2.75 2.75 0 1 0 5.5 0a2.75 2.75 0 1 0 -5.5 0M404.1 132.6a2.75 2.75 0 1 0 5.5 0a2.75 2.75 0 1 0 -5.5 0M404.9 137.2a2.75 2.75 0 1 0 5.5 0a2.75 2.75 0 1 0 -5.5 0M404.6 146.6a2.75 2.75 0 1 0 5.5 0a2.75 2.75 0 1 0 -5.5 0M403.4 150.7a2.75 2.75 0 1 0 5.5 0a2.75 2.75 0 1 0 -5.5 0M416.9 123.2a2.75 2.75 0 1 0 5.5 0a2.75 2.75 0 1 0 -5.5 0M417.6 133.7a2.75 2.75 0 1 0 5.5 0a2.75 2.75 0 1 0 -5.5 0M417.6 139.6a2.75 2.75 0 1 0 5.5 0a2.75 2.75 0 1 0 -5.5 0M417.6 142.0a2.75 2.75 0 1 0 5.5 0a2.75 2.75 0 1 0 -5.5 0M418.1 148.4a2.75 2.75 0 1 0 5.5 0a2.75 2.75 0 1 0 -5.5 0M403.1 152.0a2.75 2.75 0 1 0 5.5 0a2.75 2.75 0 1 0 -5.5 0M403.9 155.5a2.75 2.75 0 1 0 5.5 0a2.75 2.75 0 1 0 -5.5 0M403.9 158.2a2.75 2.75 0 1 0 5.5 0a2.75 2.75 0 1 0 -5.5 0M403.4 166.1a2.75 2.75 0 1 0 5.5 0a2.75 2.75 0 1 0 -5.5 0M403.1 178.0a2.75 2.75 0 1 0 5.5 0a2.75 2.75 0 1 0 -5.5 0M417.6 156.8a2.75 2.75 0 1 0 5.5 0a2.75 2.75 0 1 0 -5.5 0M418.2 165.0a2.75 2.75 0 1 0 5.5 0a2.75 2.75 0 1 0 -5.5 0M418.9 175.3a2.75 2.75 0 1 0 5.5 0a2.75 2.75 0 1 0 -5.5 0M402.4 180.0a2.75 2.75 0 1 0 5.5 0a2.75 2.75 0 1 0 -5.5 0M402.9 190.6a2.75 2.75 0 1 0 5.5 0a2.75 2.75 0 1 0 -5.5 0M402.4 198.8a2.75 2.75 0 1 0 5.5 0a2.75 2.75 0 1 0 -5.5 0M401.9 205.0a2.75 2.75 0 1 0 5.5 0a2.75 2.75 0 1 0 -5.5 0M401.4 208.9a2.75 2.75 0 1 0 5.5 0a2.75 2.75 0 1 0 -5.5 0M400.1 211.2a2.75 2.75 0 1 0 5.5 0a2.75 2.75 0 1 0 -5.5 0M398.9 213.6a2.75 2.75 0 1 0 5.5 0a2.75 2.75 0 1 0 -5.5 0M398.5 215.6a2.75 2.75 0 1 0 5.5 0a2.75 2.75 0 1 0 -5.5 0M542.2 83.2a2.75 2.75 0 1 0 5.5 0a2.75 2.75 0 1 0 -5.5 0"/>
<path d="M 400.35 209.71 L 400.53 209.14 L 400.71 208.52 L 400.89 207.85 L 401.07 207.12 L 401.25 206.34 L 401.43 205.50 L 401.61 204.60 L 401.79 203.63 L 401.97 202.60 L 402.15 201.49 L 402.33 200.31 L 402.51 199.04 L 402.69 197.70 L 402.87 196.27 L 403.05 194.76 L 403.23 193.15 L 403.41 191.45 L 403.59 189.66 L 403.77 187.77 L 403.95 185.78 L 404.12 183.69 L 404.30 181.50 L 404.48 179.20 L 404.66 176.80 L 404.84 174.29 L 405.02 171.68 L 405.20 168.97 L 405.38 166.15 L 405.56 163.23 L 405.74 160.21 L 405.92 157.10 L 406.10 153.89 L 406.28 150.58 L 406.46 147.19 L 406.64 143.72 L 406.82 140.16 L 407.00 136.54 L 407.18 132.85 L 407.36 129.10 L 407.54 125.30 L 407.72 121.45 L 407.90 117.57 L 408.07 113.66 L 408.25 109.74 L 408.43 105.80 L 408.61 101.87 L 408.79 97.95 L 408.97 94.06 L 409.15 90.20 L 409.33 86.39 L 409.51 82.64 L 409.69 78.96 L 409.87 75.36 L 410.05 71.85 L 410.23 68.44 L 410.41 65.16 L 410.59 62.00 L 410.77 58.98 L 410.95 56.10 L 411.13 53.39 L 411.31 50.85 L 411.49 48.49 L 411.67 46.31 L 411.85 44.33 L 412.03 42.56 L 412.20 40.99 L 412.38 39.64 L 412.56 38.51 L 412.74 37.61 L 412.92 36.94 L 413.10 36.50 L 413.28 36.29 L 413.46 36.32 L 413.64 36.58 L 413.82 37.07 L 414.00 37.80 L 414.18 38.76 L 414.36 39.94 L 414.54 41.34 L 414.72 42.95 L 414.90 44.77 L 415.08 46.80 L 415.26 49.02 L 415.44 51.43 L 415.62 54.01 L 415.80 56.76 L 415.98 59.67 L 416.15 62.72 L 416.33 65.91 L 416.51 69.22 L 416.69 72.65 L 416.87 76.19 L 417.05 79.81 L 417.23 83.51 L 417.41 87.27 L 417.59 91.10 L 417.77 94.96 L 417.95 98.86 L 418.13 102.79 L 418.31 106.72 L 418.49 110.65 L 418.67 114.57 L 418.85 118.47 L 419.03 122.35 L 419.21 126.19 L 419.39 129.98 L 419.57 133.71 L 419.75 137.39 L 419.93 141.00 L 420.10 144.53 L 420.28 147.99 L 420.46 151.36 L 420.64 154.64 L 420.82 157.83 L 421.00 160.93 L 421.18 163.92 L 421.36 166.82 L 421.54 169.61 L 421.72 172.30 L 421.90 174.89 L 422.08 177.37 L 422.26 179.74 L 422.44 182.02 L 422.62 184.18 L 422.80 186.25 L 422.98 188.22 L 423.16 190.08 L 423.34 191.86 L 423.52 193.53 L 423.70 195.12 L 423.88 196.61 L 424.05 198.02 L 424.23 199.34 L 424.41 200.59 L 424.59 201.75 L 424.77 202.85 L 424.95 203.87 L 425.13 204.82 L 425.31 205.71 L 425.49 206.53 L 425.67 207.30 L 425.85 208.01 L 426.03 208.67 L 426.21 209.28 L 426.39 209.84 L 426.57 210.36 L 426.75 210.84 L 426.93 211.27 L 427.11 211.68 L 427.29 212.05 L 427.47 212.38 L 427.65 212.69 L 427.83 212.97 L 428.01 213.23 L 428.18 213.46 L 428.36 213.68 L 428.54 213.87 L 428.72 214.04 L 428.90 214.20 L 429.08 214.34 L 429.26 214.47 L 429.44 214.59 L 429.62 214.69 L 429.80 214.78 L 429.98 214.87 L 430.16 214.94 L 430.34 215.01 L 430.52 215.07 L 430.70 215.12 L 430.88 215.17 L 431.06 215.21 L 431.24 215.25 L 431.42 215.28 L 431.60 215.31 L 431.78 215.34 L 431.96 215.36 L 432.13 215.38 L 432.31 215.40 L 432.49 215.41 L 432.67 215.43 L 432.85 215.44 L 433.03 215.45 L 433.21 215.46 L 433.39 215.47 L 433.57 215.48 L 433.75 215.48 L 433.93 215.49 L 434.11 215.49 L 434.29 215.50 L 434.47 215.50 L 434.65 215.50 L 434.83 215.50 L 435.01 215.51 L 435.19 215.51 L 435.37 215.51 L 435.55 215.51 L 435.73 215.51 L 435.91 215.51 L 436.08 215.52 L 436.26 215.52 L 436.44 215.52 L 436.62 215.52 L 436.80 215.52 L 436.98 215.52 L 437.16 215.52 L 437.34 215.52 L 437.52 215.52 L 437.70 215.52 L 437.88 215.52 L 438.06 215.52 L 438.24 215.52 L 438.42 215.52 L 438.60 215.52 L 438.78 215.52 L 438.96 215.52 L 439.14 215.52 L 439.32 215.52 L 439.50 215.52 L 439.68 215.52 L 439.86 215.52 L 440.03 215.52 L 440.21 215.52 L 440.39 215.52 L 440.57 215.52 L 440.75 215.52 L 440.93 215.52 L 441.11 215.52 L 441.29 215.52 L 441.47 215.52 L 441.65 215.52 L 441.83 215.52 L 442.01 215.52 L 442.19 215.52 L 442.37 215.52 L 442.55 215.52 L 442.73 215.52 L 442.91 215.52 L 443.09 215.52 L 443.27 215.52 L 443.45 215.52 L 443.63 215.52 L 443.81 215.52 L 443.98 215.52 L 444.16 215.52 L 444.34 215.52 L 444.52 215.52 L 444.70 215.52 L 444.88 215.52 L 445.06 215.52 L 445.24 215.52 L 445.42 215.52 L 445.60 215.52 L 445.78 215.52 L 445.96 215.52 L 446.14 215.52 L 446.32 215.52 L 446.50 215.52 L 446.68 215.52 L 446.86 215.52 L 447.04 215.52 L 447.22 215.52 L 447.40 215.52 L 447.58 215.52 L 447.76 215.52 L 447.94 215.52 L 448.11 215.52 L 448.29 215.52 L 448.47 215.52 L 448.65 215.52 L 448.83 215.52 L 449.01 215.52 L 449.19 215.52 L 449.37 215.52 L 449.55 215.52 L 449.73 215.52 L 449.91 215.52 L 450.09 215.52 L 450.27 215.52 L 450.45 215.52 L 450.63 215.52 L 450.81 215.52 L 450.99 215.52 L 451.17 215.52 L 451.35 215.52 L 451.53 215.52 L 451.71 215.52 L 451.89 215.52 L 452.06 215.52 L 452.24 215.52 L 452.42 215.52 L 452.60 215.52 L 452.78 215.52 L 452.96 215.52 L 453.14 215.52 L 453.32 215.52 L 453.50 215.52 L 453.68 215.52 L 453.86 215.52 L 454.04 215.52 L 454.22 215.52 L 454.40 215.52 L 454.58 215.52 L 454.76 215.52 L 454.94 215.52 L 455.12 215.52 L 455.30 215.52 L 455.48 215.52 L 455.66 215.52 L 455.84 215.52 L 456.01 215.52 L 456.19 215.52 L 456.37 215.52 L 456.55 215.52 L 456.73 215.52 L 456.91 215.52 L 457.09 215.52 L 457.27 215.52 L 457.45 215.52 L 457.63 215.52 L 457.81 215.52 L 457.99 215.52 L 458.17 215.52 L 458.35 215.52 L 458.53 215.52 L 458.71 215.52 L 458.89 215.52 L 459.07 215.52 L 459.25 215.52 L 459.43 215.52 L 459.61 215.52 L 459.79 215.52 L 459.96 215.52 L 460.14 215.52 L 460.32 215.52 L 460.50 215.52 L 460.68 215.52 L 460.86 215.52 L 461.04 215.52 L 461.22 215.52 L 461.40 215.52 L 461.58 215.52 L 461.76 215.52 L 461.94 215.52 L 462.12 215.52 L 462.30 215.52 L 462.48 215.52 L 462.66 215.52 L 462.84 215.52 L 463.02 215.52 L 463.20 215.52 L 463.38 215.52 L 463.56 215.52 L 463.74 215.52 L 463.92 215.52 L 464.09 215.52 L 464.27 215.52 L 464.45 215.52 L 464.63 215.52 L 464.81 215.52 L 464.99 215.52 L 465.17 215.52 L 465.35 215.52 L 465.53 215.52 L 465.71 215.52 L 465.89 215.52 L 466.07 215.52 L 466.25 215.52 L 466.43 215.52 L 466.61 215.52 L 466.79 215.52 L 466.97 215.52 L 467.15 215.52 L 467.33 215.52 L 467.51 215.52 L 467.69 215.52 L 467.87 215.52 L 468.04 215.52 L 468.22 215.52 L 468.40 215.52 L 468.58 215.52 L 468.76 215.52 L 468.94 215.52 L 469.12 215.52 L 469.30 215.52 L 469.48 215.52 L 469.66 215.52 L 469.84 215.52 L 470.02 215.52 L 470.20 215.52 L 470.38 215.52 L 470.56 215.52 L 470.74 215.52 L 470.92 215.52 L 471.10 215.52 L 471.28 215.52 L 471.46 215.52 L 471.64 215.52 L 471.82 215.52 L 471.99 215.52 L 472.17 215.52 L 472.35 215.52 L 472.53 215.52 L 472.71 215.52 L 472.89 215.52 L 473.07 215.52 L 473.25 215.52 L 473.43 215.52 L 473.61 215.52 L 473.79 215.52 L 473.97 215.52 L 474.15 215.52 L 474.33 215.52 L 474.51 215.52 L 474.69 215.52 L 474.87 215.52 L 475.05 215.52 L 475.23 215.52 L 475.41 215.52 L 475.59 215.52 L 475.77 215.52 L 475.94 215.52 L 476.12 215.52 L 476.30 215.52 L 476.48 215.52 L 476.66 215.52 L 476.84 215.52 L 477.02 215.52 L 477.20 215.52 L 477.38 215.52 L 477.56 215.52 L 477.74 215.52 L 477.92 215.52 L 478.10 215.52 L 478.28 215.52 L 478.46 215.52 L 478.64 215.52 L 478.82 215.52 L 479.00 215.52 L 479.18 215.52 L 479.36 215.52 L 479.54 215.52 L 479.72 215.52 L 479.90 215.52 L 480.07 215.52 L 480.25 215.52 L 480.43 215.52 L 480.61 215.52 L 480.79 215.52 L 480.97 215.52 L 481.15 215.52 L 481.33 215.52 L 481.51 215.52 L 481.69 215.52 L 481.87 215.52 L 482.05 215.52 L 482.23 215.52 L 482.41 215.52 L 482.59 215.52 L 482.77 215.52 L 482.95 215.52 L 483.13 215.52 L 483.31 215.52 L 483.49 215.52 L 483.67 215.52 L 483.85 215.52 L 484.02 215.52 L 484.20 215.52 L 484.38 215.52 L 484.56 215.52 L 484.74 215.52 L 484.92 215.52 L 485.10 215.52 L 485.28 215.52 L 485.46 215.52 L 485.64 215.52 L 485.82 215.52 L 486.00 215.52 L 486.18 215.52 L 486.36 215.52 L 486.54 215.52 L 486.72 215.52 L 486.90 215.52 L 487.08 215.52 L 487.26 215.52 L 487.44 215.52 L 487.62 215.52 L 487.80 215.52 L 487.97 215.52 L 488.15 215.52 L 488.33 215.52 L 488.51 215.52 L 488.69 215.52 L 488.87 215.52 L 489.05 215.52 L 489.23 215.52 L 489.41 215.52 L 489.59 215.52 L 489.77 215.52 L 489.95 215.52 L 490.13 215.52 L 490.31 215.52 L 490.49 215.52 L 490.67 215.52 L 490.85 215.51 L 491.03 215.51 L 491.21 215.51 L 491.39 215.51 L 491.57 215.51 L 491.75 215.51 L 491.92 215.51 L 492.10 215.51 L 492.28 215.51 L 492.46 215.51 L 492.64 215.51 L 492.82 215.51 L 493.00 215.51 L 493.18 215.51 L 493.36 215.51 L 493.54 215.51 L 493.72 215.51 L 493.90 215.51 L 494.08 215.50 L 494.26 215.50 L 494.44 215.50 L 494.62 215.50 L 494.80 215.50 L 494.98 215.50 L 495.16 215.50 L 495.34 215.50 L 495.52 215.49 L 495.70 215.49 L 495.87 215.49 L 496.05 215.49 L 496.23 215.49 L 496.41 215.48 L 496.59 215.48 L 496.77 215.48 L 496.95 215.48 L 497.13 215.48 L 497.31 215.47 L 497.49 215.47 L 497.67 215.47 L 497.85 215.46 L 498.03 215.46 L 498.21 215.46 L 498.39 215.45 L 498.57 215.45 L 498.75 215.45 L 498.93 215.44 L 499.11 215.44 L 499.29 215.43 L 499.47 215.43 L 499.65 215.42 L 499.83 215.42 L 500.00 215.41 L 500.18 215.40 L 500.36 215.40 L 500.54 215.39 L 500.72 215.38 L 500.90 215.38 L 501.08 215.37 L 501.26 215.36 L 501.44 215.35 L 501.62 215.34 L 501.80 215.33 L 501.98 215.32 L 502.16 215.31 L 502.34 215.30 L 502.52 215.29 L 502.70 215.27 L 502.88 215.26 L 503.06 215.25 L 503.24 215.23 L 503.42 215.22 L 503.60 215.20 L 503.78 215.19 L 503.95 215.17 L 504.13 215.15 L 504.31 215.13 L 504.49 215.11 L 504.67 215.09 L 504.85 215.07 L 505.03 215.05 L 505.21 215.02 L 505.39 215.00 L 505.57 214.97 L 505.75 214.95 L 505.93 214.92 L 506.11 214.89 L 506.29 214.86 L 506.47 214.83 L 506.65 214.79 L 506.83 214.76 L 507.01 214.72 L 507.19 214.68 L 507.37 214.64 L 507.55 214.60 L 507.73 214.56 L 507.90 214.51 L 508.08 214.47 L 508.26 214.42 L 508.44 214.37 L 508.62 214.32 L 508.80 214.26 L 508.98 214.20 L 509.16 214.14 L 509.34 214.08 L 509.52 214.02 L 509.70 213.95 L 509.88 213.88 L 510.06 213.81 L 510.24 213.74 L 510.42 213.66 L 510.60 213.58 L 510.78 213.49 L 510.96 213.41 L 511.14 213.32 L 511.32 213.22 L 511.50 213.13 L 511.68 213.03 L 511.85 212.92 L 512.03 212.82 L 512.21 212.70 L 512.39 212.59 L 512.57 212.47 L 512.75 212.35 L 512.93 212.22 L 513.11 212.09 L 513.29 211.95 L 513.47 211.81 L 513.65 211.66 L 513.83 211.51 L 514.01 211.35 L 514.19 211.19 L 514.37 211.02 L 514.55 210.85 L 514.73 210.67 L 514.91 210.49 L 515.09 210.30 L 515.27 210.11 L 515.45 209.90 L 515.63 209.70 L 515.81 209.48 L 515.98 209.26 L 516.16 209.04 L 516.34 208.80 L 516.52 208.56 L 516.70 208.31 L 516.88 208.06 L 517.06 207.80 L 517.24 207.53 L 517.42 207.25 L 517.60 206.96 L 517.78 206.67 L 517.96 206.37 L 518.14 206.06 L 518.32 205.74 L 518.50 205.42 L 518.68 205.08 L 518.86 204.74 L 519.04 204.39 L 519.22 204.02 L 519.40 203.65 L 519.58 203.27 L 519.76 202.88 L 519.93 202.48 L 520.11 202.08 L 520.29 201.66 L 520.47 201.23 L 520.65 200.79 L 520.83 200.34 L 521.01 199.88 L 521.19 199.41 L 521.37 198.93 L 521.55 198.44 L 521.73 197.94 L 521.91 197.43 L 522.09 196.91 L 522.27 196.38 L 522.45 195.83 L 522.63 195.27 L 522.81 194.71 L 522.99 194.13 L 523.17 193.54 L 523.35 192.94 L 523.53 192.33 L 523.71 191.70 L 523.88 191.07 L 524.06 190.42 L 524.24 189.76 L 524.42 189.09 L 524.60 188.41 L 524.78 187.72 L 524.96 187.02 L 525.14 186.30 L 525.32 185.57 L 525.50 184.84 L 525.68 184.09 L 525.86 183.32 L 526.04 182.55 L 526.22 181.77 L 526.40 180.97 L 526.58 180.17 L 526.76 179.35 L 526.94 178.52 L 527.12 177.68 L 527.30 176.83 L 527.48 175.97 L 527.66 175.10 L 527.83 174.22 L 528.01 173.33 L 528.19 172.43 L 528.37 171.52 L 528.55 170.61 L 528.73 169.68 L 528.91 168.74 L 529.09 167.79 L 529.27 166.84 L 529.45 165.88 L 529.63 164.90 L 529.81 163.93 L 529.99 162.94 L 530.17 161.94 L 530.35 160.94 L 530.53 159.94 L 530.71 158.92 L 530.89 157.90 L 531.07 156.88 L 531.25 155.85 L 531.43 154.81 L 531.61 153.77 L 531.79 152.73 L 531.96 151.68 L 532.14 150.63 L 532.32 149.57 L 532.50 148.51 L 532.68 147.45 L 532.86 146.39 L 533.04 145.33 L 533.22 144.27 L 533.40 143.20 L 533.58 142.14 L 533.76 141.07 L 533.94 140.01 L 534.12 138.95 L 534.30 137.89 L 534.48 136.84 L 534.66 135.78 L 534.84 134.73 L 535.02 133.68 L 535.20 132.64 L 535.38 131.61 L 535.56 130.57 L 535.74 129.55 L 535.91 128.53 L 536.09 127.52 L 536.27 126.51 L 536.45 125.51 L 536.63 124.53 L 536.81 123.55 L 536.99 122.58 L 537.17 121.62 L 537.35 120.67 L 537.53 119.73 L 537.71 118.81 L 537.89 117.89 L 538.07 116.99 L 538.25 116.11 L 538.43 115.23 L 538.61 114.37 L 538.79 113.53 L 538.97 112.70 L 539.15 111.88 L 539.33 111.09 L 539.51 110.31 L 539.69 109.54 L 539.86 108.80 L 540.04 108.07 L 540.22 107.36 L 540.40 106.67 L 540.58 106.00 L 540.76 105.34 L 540.94 104.71 L 541.12 104.10 L 541.30 103.51 L 541.48 102.94 L 541.66 102.40 L 541.84 101.87 L 542.02 101.37 L 542.20 100.89 L 542.38 100.43 L 542.56 100.00 L 542.74 99.59 L 542.92 99.20 L 543.10 98.84 L 543.28 98.50 L 543.46 98.19 L 543.64 97.90 L 543.81 97.63 L 543.99 97.39 L 544.17 97.18 L 544.35 96.99 L 544.53 96.83 L 544.71 96.69 L 544.89 96.58 L 545.07 96.49 L 545.25 96.43 L 545.43 96.39 L 545.61 96.38 L 545.79 96.40 L 545.97 96.44 L 546.15 96.51 L 546.33 96.61 L 546.51 96.73 L 546.69 96.87 L 546.87 97.04 L 547.05 97.24 L 547.23 97.46 L 547.41 97.71 L 547.59 97.98 L 547.76 98.27 L 547.94 98.60 L 548.12 98.94 L 548.30 99.31 L 548.48 99.70 L 548.66 100.12 L 548.84 100.56 L 549.02 101.03 L 549.20 101.51 L 549.38 102.02 L 549.56 102.55 L 549.74 103.11 L 549.92 103.68 L 550.10 104.28 L 550.28 104.89 L 550.46 105.53 L 550.64 106.19 L 550.82 106.87 L 551.00 107.56 L 551.18 108.28 L 551.36 109.01 L 551.54 109.76 L 551.72 110.53 L 551.89 111.32 L 552.07 112.12 L 552.25 112.94 L 552.43 113.77 L 552.61 114.62 L 552.79 115.48 L 552.97 116.36 L 553.15 117.25 L 553.33 118.16 L 553.51 119.08 L 553.69 120.00 L 553.87 120.94 L 554.05 121.90 L 554.23 122.86 L 554.41 123.83 L 554.59 124.81 L 554.77 125.80 L 554.95 126.80 L 555.13 127.81 L 555.31 128.82 L 555.49 129.85 L 555.67 130.87 L 555.84 131.91 L 556.02 132.95 L 556.20 133.99 L 556.38 135.04 L 556.56 136.09 L 556.74 137.14 L 556.92 138.20 L 557.10 139.26 L 557.28 140.32 L 557.46 141.38 L 557.64 142.45 L 557.82 143.51 L 558.00 144.58 L 558.18 145.64 L 558.36 146.70 L 558.54 147.76 L 558.72 148.82 L 558.90 149.88 L 559.08 150.93 L 559.26 151.98 L 559.44 153.03 L 559.62 154.07 L 559.79 155.11 L 559.97 156.15 L 560.15 157.18 L 560.33 158.20 L 560.51 159.22 L 560.69 160.23 L 560.87 161.24 L 561.05 162.23 L 561.23 163.23 L 561.41 164.21 L 561.59 165.19 L 561.77 166.16 L 561.95 167.12 L 562.13 168.07 L 562.31 169.01 L 562.49 169.95 L 562.67 170.87 L 562.85 171.79 L 563.03 172.70 L 563.21 173.59 L 563.39 174.48 L 563.57 175.36 L 563.74 176.23 L 563.92 177.08 L 564.10 177.93 L 564.28 178.76 L 564.46 179.59 L 564.64 180.40 L 564.82 181.21 L 565.00 182.00 L 565.18 182.78 L 565.36 183.55 L 565.54 184.30 L 565.72 185.05 L 565.90 185.79 L 566.08 186.51 L 566.26 187.22 L 566.44 187.92 L 566.62 188.61 L 566.80 189.29 L 566.98 189.96 L 567.16 190.61 L 567.34 191.25 L 567.52 191.89 L 567.70 192.51 L 567.87 193.12 L 568.05 193.71 L 568.23 194.30 L 568.41 194.87 L 568.59 195.44 L 568.77 195.99 L 568.95 196.53 L 569.13 197.06 L 569.31 197.58 L 569.49 198.09 L 569.67 198.59 L 569.85 199.07 L 570.03 199.55 L 570.21 200.02 L 570.39 200.47 L 570.57 200.92 L 570.75 201.35 L 570.93 201.78 L 571.11 202.20 L 571.29 202.60 L 571.47 203.00 L 571.65 203.38 L 571.82 203.76 L 572.00 204.13 L 572.18 204.49 L 572.36 204.84 L 572.54 205.18 L 572.72 205.51 L 572.90 205.84 L 573.08 206.15 L 573.26 206.46 L 573.44 206.76 L 573.62 207.05 L 573.80 207.33 L 573.98 207.61 L 574.16 207.87 L 574.34 208.13 L 574.52 208.39 L 574.70 208.63 L 574.88 208.87 L 575.06 209.10 L 575.24 209.33 L 575.42 209.55 L 575.60 209.76 L 575.77 209.96 L 575.95 210.16 L 576.13 210.36 L 576.31 210.54 L 576.49 210.73 L 576.67 210.90 L 576.85 211.07 L 577.03 211.24 L 577.21 211.40 L 577.39 211.55 L 577.57 211.70 L 577.75 211.85 L 577.93 211.99 L 578.11 212.12 L 578.29 212.26 L 578.47 212.38 L 578.65 212.50 L 578.83 212.62 L 579.01 212.74 L 579.19 212.85 L 579.37 212.95 L 579.55 213.06 L 579.72 213.16 L 579.90 213.25 L 580.08 213.34 L 580.26 213.43 L 580.44 213.52 L 580.62 213.60 L 580.80 213.68 L 580.98 213.76 L 581.16 213.83 L 581.34 213.90 L 581.52 213.97 L 581.70 214.04 L 581.88 214.10 L 582.06 214.16 L 582.24 214.22 L 582.42 214.28 L 582.60 214.33 L 582.78 214.38 L 582.96 214.43 L 583.14 214.48 L 583.32 214.53 L 583.50 214.57 L 583.68 214.61 L 583.85 214.66 L 584.03 214.69 L 584.21 214.73 L 584.39 214.77 L 584.57 214.80 L 584.75 214.84 L 584.93 214.87 L 585.11 214.90 L 585.29 214.93 L 585.47 214.95 L 585.65 214.98 L 585.83 215.01 L 586.01 215.03 L 586.19 215.05 L 586.37 215.08 L 586.55 215.10 L 586.73 215.12 L 586.91 215.14 L 587.09 215.16 L 587.27 215.17 L 587.45 215.19 L 587.63 215.21 L 587.80 215.22 L 587.98 215.24 L 588.16 215.25 L 588.34 215.27 L 588.52 215.28 L 588.70 215.29 L 588.88 215.30 L 589.06 215.31 L 589.24 215.32 L 589.42 215.33 L 589.60 215.34 L 589.78 215.35 L 589.96 215.36 L 590.14 215.37 L 590.32 215.38 L 590.50 215.39 L 590.68 215.39 L 590.86 215.40 L 591.04 215.41 L 591.22 215.41 L 591.40 215.42 L 591.58 215.42 L 591.75 215.43 L 591.93 215.43 L 592.11 215.44 L 592.29 215.44 L 592.47 215.45 L 592.65 215.45 L 592.83 215.45 L 593.01 215.46 L 593.19 215.46 L 593.37 215.46 L 593.55 215.47 L 593.73 215.47 L 593.91 215.47 L 594.09 215.48 L 594.27 215.48 L 594.45 215.48 L 594.63 215.48 L 594.81 215.49 L 594.99 215.49 L 595.17 215.49 L 595.35 215.49 L 595.53 215.49 L 595.70 215.49 L 595.88 215.50 L 596.06 215.50 L 596.24 215.50 L 596.42 215.50 L 596.60 215.50 L 596.78 215.50 L 596.96 215.50 L 597.14 215.50 L 597.32 215.51 L 597.50 215.51 L 597.68 215.51 L 597.86 215.51 L 598.04 215.51 L 598.22 215.51 L 598.40 215.51 L 598.58 215.51 L 598.76 215.51 L 598.94 215.51 L 599.12 215.51 L 599.30 215.51 L 599.48 215.51 L 599.65 215.51 L 599.83 215.51 L 600.01 215.51 L 600.19 215.51 L 600.37 215.52 L 600.55 215.52 L 600.73 215.52 L 600.91 215.52 L 601.09 215.52 L 601.27 215.52 L 601.45 215.52 L 601.63 215.52 L 601.81 215.52 L 601.99 215.52 L 602.17 215.52 L 602.35 215.52 L 602.53 215.52 L 602.71 215.52 L 602.89 215.52 L 603.07 215.52 L 603.25 215.52 L 603.43 215.52 L 603.61 215.52 L 603.78 215.52 L 603.96 215.52 L 604.14 215.52 L 604.32 215.52 L 604.50 215.52 L 604.68 215.52 L 604.86 215.52 L 605.04 215.52 L 605.22 215.52 L 605.40 215.52 L 605.58 215.52 L 605.76 215.52 L 605.94 215.52 L 606.12 215.52 L 606.30 215.52 L 606.48 215.52 L 606.66 215.52 L 606.84 215.52 L 607.02 215.52 L 607.20 215.52 L 607.38 215.52 L 607.56 215.52 L 607.73 215.52 L 607.91 215.52 L 608.09 215.52 L 608.27 215.52 L 608.45 215.52 L 608.63 215.52 L 608.81 215.52 L 608.99 215.52 L 609.17 215.52 L 609.35 215.52 L 609.53 215.52 L 609.71 215.52 L 609.89 215.52 L 610.07 215.52 L 610.25 215.52 L 610.43 215.52 L 610.61 215.52 L 610.79 215.52 L 610.97 215.52 L 611.15 215.52 L 611.33 215.52 L 611.51 215.52 L 611.68 215.52 L 611.86 215.52 L 612.04 215.52 L 612.22 215.52 L 612.40 215.52 L 612.58 215.52 L 612.76 215.52 L 612.94 215.52 L 613.12 215.52 L 613.30 215.52 L 613.48 215.52 L 613.66 215.52 L 613.84 215.52 L 614.02 215.52 L 614.20 215.52 L 614.38 215.52 L 614.56 215.52 L 614.74 215.52 L 614.92 215.52 L 615.10 215.52 L 615.28 215.52 L 615.46 215.52 L 615.63 215.52 L 615.81 215.52 L 615.99 215.52 L 616.17 215.52 L 616.35 215.52 L 616.53 215.52 L 616.71 215.52 L 616.89 215.52 L 617.07 215.52 L 617.25 215.52 L 617.43 215.52 L 617.61 215.52 L 617.79 215.52 L 617.97 215.52 L 618.15 215.52 L 618.33 215.52 L 618.51 215.52 L 618.69 215.52 L 618.87 215.52 L 619.05 215.52 L 619.23 215.52 L 619.41 215.52 L 619.59 215.52 L 619.76 215.52 L 619.94 215.52 L 620.12 215.52 L 620.30 215.52 L 620.48 215.52 L 620.66 215.52 L 620.84 215.52 L 621.02 215.52 L 621.20 215.52 L 621.38 215.52 L 621.56 215.52 L 621.74 215.52 L 621.92 215.52 L 622.10 215.52 L 622.28 215.52 L 622.46 215.52 L 622.64 215.52 L 622.82 215.52 L 623.00 215.52 L 623.18 215.52 L 623.36 215.52 L 623.54 215.52 L 623.71 215.52 L 623.89 215.52 L 624.07 215.52 L 624.25 215.52 L 624.43 215.52 L 624.61 215.52 L 624.79 215.52 L 624.97 215.52 L 625.15 215.52 L 625.33 215.52 L 625.51 215.52 L 625.69 215.52 L 625.87 215.52 L 626.05 215.52 L 626.23 215.52 L 626.41 215.52 L 626.59 215.52 L 626.77 215.52 L 626.95 215.52 L 627.13 215.52 L 627.31 215.52 L 627.49 215.52 L 627.66 215.52 L 627.84 215.52 L 628.02 215.52 L 628.20 215.52 L 628.38 215.52 L 628.56 215.52 L 628.74 215.52 L 628.92 215.52 L 629.10 215.52 L 629.28 215.52 L 629.46 215.52 L 629.64 215.52 L 629.82 215.52 L 630.00 215.52 L 630.18 215.52 L 630.36 215.52 L 630.54 215.52 L 630.72 215.52 L 630.90 215.52 L 631.08 215.52 L 631.26 215.52 L 631.44 215.52 L 631.61 215.52 L 631.79 215.52 L 631.97 215.52 L 632.15 215.52 L 632.33 215.52 L 632.51 215.52 L 632.69 215.52 L 632.87 215.52 L 633.05 215.52 L 633.23 215.52 L 633.41 215.52 L 633.59 215.52 L 633.77 215.52 L 633.95 215.52 L 634.13 215.52 L 634.31 215.52 L 634.49 215.52 L 634.67 215.52 L 634.85 215.52 L 635.03 215.52 L 635.21 215.52 L 635.39 215.52 L 635.57 215.52 L 635.74 215.52 L 635.92 215.52 L 636.10 215.52 L 636.28 215.52 L 636.46 215.52 L 636.64 215.52 L 636.82 215.52 L 637.00 215.52 L 637.18 215.52 L 637.36 215.52 L 637.54 215.52 L 637.72 215.52 L 637.90 215.52 L 638.08 215.52 L 638.26 215.52 L 638.44 215.52 L 638.62 215.52 L 638.80 215.52 L 638.98 215.52 L 639.16 215.52 L 639.34 215.52 L 639.52 215.52 L 639.69 215.52 L 639.87 215.52 L 640.05 215.52 L 640.23 215.52 L 640.41 215.52 L 640.59 215.52 L 640.77 215.52 L 640.95 215.52 L 641.13 215.52 L 641.31 215.52 L 641.49 215.52 L 641.67 215.52 L 641.85 215.52 L 642.03 215.52 L 642.21 215.52 L 642.39 215.52 L 642.57 215.52 L 642.75 215.52 L 642.93 215.52 L 643.11 215.52 L 643.29 215.52 L 643.47 215.52 L 643.64 215.52 L 643.82 215.52 L 644.00 215.52 L 644.18 215.52 L 644.36 215.52 L 644.54 215.52 L 644.72 215.52 L 644.90 215.52 L 645.08 215.52 L 645.26 215.52 L 645.44 215.52 L 645.62 215.52 L 645.80 215.52 L 645.98 215.52 L 646.16 215.52 L 646.34 215.52 L 646.52 215.52 L 646.70 215.52 L 646.88 215.52 L 647.06 215.52 L 647.24 215.52 L 647.42 215.52 L 647.59 215.52 L 647.77 215.52 L 647.95 215.52 L 648.13 215.52 L 648.31 215.52 L 648.49 215.52 L 648.67 215.52 L 648.85 215.52 L 649.03 215.52 L 649.21 215.52 L 649.39 215.52 L 649.57 215.52 L 649.75 215.52 L 649.93 215.52 L 650.11 215.52 L 650.29 215.52 L 650.47 215.52 L 650.65 215.52 L 650.83 215.52 L 651.01 215.52 L 651.19 215.52 L 651.37 215.52 L 651.54 215.52 L 651.72 215.52 L 651.90 215.52 L 652.08 215.52 L 652.26 215.52 L 652.44 215.52 L 652.62 215.52 L 652.80 215.52 L 652.98 215.52 L 653.16 215.52 L 653.34 215.52 L 653.52 215.52 L 653.70 215.52 L 653.88 215.52 L 654.06 215.52 L 654.24 215.52 L 654.42 215.52 L 654.60 215.52 L 654.78 215.52 L 654.96 215.52 L 655.14 215.52 L 655.32 215.52 L 655.50 215.52 L 655.67 215.52 L 655.85 215.52 L 656.03 215.52 L 656.21 215.52 L 656.39 215.52 L 656.57 215.52 L 656.75 215.52 L 656.93 215.52 L 657.11 215.52 L 657.29 215.52 L 657.47 215.52 L 657.65 215.52 L 657.83 215.52 L 658.01 215.52 L 658.19 215.52 L 658.37 215.52 L 658.55 215.52 L 658.73 215.52 L 658.91 215.52 L 659.09 215.52 L 659.27 215.52 L 659.45 215.52 L 659.62 215.52 L 659.80 215.52 L 659.98 215.52 L 660.16 215.52 L 660.34 215.52 L 660.52 215.52 L 660.70 215.52 L 660.88 215.52 L 661.06 215.52 L 661.24 215.52 L 661.42 215.52 L 661.60 215.52 L 661.78 215.52 L 661.96 215.52 L 662.14 215.52 L 662.32 215.52 L 662.50 215.52 L 662.68 215.52 L 662.86 215.52 L 663.04 215.52 L 663.22 215.52 L 663.40 215.52 L 663.57 215.52 L 663.75 215.52 L 663.93 215.52 L 664.11 215.52 L 664.29 215.52 L 664.47 215.52 L 664.65 215.52 L 664.83 215.52 L 665.01 215.52 L 665.19 215.52 L 665.37 215.52 L 665.55 215.52 L 665.73 215.52 L 665.91 215.52 L 666.09 215.52 L 666.27 215.52 L 666.45 215.52 L 666.63 215.52 L 666.81 215.52 L 666.99 215.52 L 667.17 215.52 L 667.35 215.52 L 667.52 215.52 L 667.70 215.52 L 667.88 215.52 L 668.06 215.52 L 668.24 215.52 L 668.42 215.52 L 668.60 215.52 L 668.78 215.52 L 668.96 215.52 L 669.14 215.52 L 669.32 215.52 L 669.50 215.52" fill="none" stroke="#ff7f0e" stroke-width="1.5" stroke-linejoin="round"/>
</g>
<rect x="35.5" y="8.0" width="294.0" height="218.5" fill="none" stroke="#262626" stroke-width="1"/>
<rect x="387.5" y="7.4" width="295.0" height="219.1" fill="none" stroke="#262626" stroke-width="1"/>
<g font-family="Liberation Sans, sans-serif" fill="#000"><line x1="46.50" y1="226.5" x2="46.50" y2="229.9" stroke="#262626" stroke-width="0.9"/>
<text class="s" x="46.50" y="238.5" font-size="9.3" text-anchor="middle" textLength="9.4" lengthAdjust="spacingAndGlyphs">10</text>
<line x1="81.00" y1="226.5" x2="81.00" y2="229.9" stroke="#262626" stroke-width="0.9"/>
<text class="s" x="81.00" y="238.5" font-size="9.3" text-anchor="middle" textLength="9.4" lengthAdjust="spacingAndGlyphs">20</text>
<line x1="115.50" y1="226.5" x2="115.50" y2="229.9" stroke="#262626" stroke-width="0.9"/>
<text class="s" x="115.50" y="238.5" font-size="9.3" text-anchor="middle" textLength="9.4" lengthAdjust="spacingAndGlyphs">30</text>
<line x1="150.00" y1="226.5" x2="150.00" y2="229.9" stroke="#262626" stroke-width="0.9"/>
<text class="s" x="150.00" y="238.5" font-size="9.3" text-anchor="middle" textLength="9.4" lengthAdjust="spacingAndGlyphs">40</text>
<line x1="184.50" y1="226.5" x2="184.50" y2="229.9" stroke="#262626" stroke-width="0.9"/>
<text class="s" x="184.50" y="238.5" font-size="9.3" text-anchor="middle" textLength="9.4" lengthAdjust="spacingAndGlyphs">50</text>
<line x1="219.00" y1="226.5" x2="219.00" y2="229.9" stroke="#262626" stroke-width="0.9"/>
<text class="s" x="219.00" y="238.5" font-size="9.3" text-anchor="middle" textLength="9.4" lengthAdjust="spacingAndGlyphs">60</text>
<line x1="253.50" y1="226.5" x2="253.50" y2="229.9" stroke="#262626" stroke-width="0.9"/>
<text class="s" x="253.50" y="238.5" font-size="9.3" text-anchor="middle" textLength="9.4" lengthAdjust="spacingAndGlyphs">70</text>
<line x1="288.00" y1="226.5" x2="288.00" y2="229.9" stroke="#262626" stroke-width="0.9"/>
<text class="s" x="288.00" y="238.5" font-size="9.3" text-anchor="middle" textLength="9.4" lengthAdjust="spacingAndGlyphs">80</text>
<line x1="322.50" y1="226.5" x2="322.50" y2="229.9" stroke="#262626" stroke-width="0.9"/>
<text class="s" x="322.50" y="238.5" font-size="9.3" text-anchor="middle" textLength="9.4" lengthAdjust="spacingAndGlyphs">90</text>
<line x1="32.0" y1="210.10" x2="35.5" y2="210.10" stroke="#262626" stroke-width="0.9"/>
<text class="s" x="29.8" y="213.70" font-size="9" text-anchor="end" textLength="4.8" lengthAdjust="spacingAndGlyphs">0</text>
<line x1="32.0" y1="175.96" x2="35.5" y2="175.96" stroke="#262626" stroke-width="0.9"/>
<text class="s" x="29.8" y="179.56" font-size="9" text-anchor="end" textLength="9.5" lengthAdjust="spacingAndGlyphs">10</text>
<line x1="32.0" y1="141.82" x2="35.5" y2="141.82" stroke="#262626" stroke-width="0.9"/>
<text class="s" x="29.8" y="145.42" font-size="9" text-anchor="end" textLength="9.5" lengthAdjust="spacingAndGlyphs">20</text>
<line x1="32.0" y1="107.68" x2="35.5" y2="107.68" stroke="#262626" stroke-width="0.9"/>
<text class="s" x="29.8" y="111.28" font-size="9" text-anchor="end" textLength="9.5" lengthAdjust="spacingAndGlyphs">30</text>
<line x1="32.0" y1="73.54" x2="35.5" y2="73.54" stroke="#262626" stroke-width="0.9"/>
<text class="s" x="29.8" y="77.14" font-size="9" text-anchor="end" textLength="9.5" lengthAdjust="spacingAndGlyphs">40</text>
<line x1="32.0" y1="39.40" x2="35.5" y2="39.40" stroke="#262626" stroke-width="0.9"/>
<text class="s" x="29.8" y="43.00" font-size="9" text-anchor="end" textLength="9.5" lengthAdjust="spacingAndGlyphs">50</text>
<line x1="433.20" y1="226.5" x2="433.20" y2="229.9" stroke="#262626" stroke-width="0.9"/>
<text class="s" x="433.20" y="238.5" font-size="9.3" text-anchor="middle" textLength="4.7" lengthAdjust="spacingAndGlyphs">1</text>
<line x1="480.46" y1="226.5" x2="480.46" y2="229.9" stroke="#262626" stroke-width="0.9"/>
<text class="s" x="480.46" y="238.5" font-size="9.3" text-anchor="middle" textLength="4.7" lengthAdjust="spacingAndGlyphs">2</text>
<line x1="527.72" y1="226.5" x2="527.72" y2="229.9" stroke="#262626" stroke-width="0.9"/>
<text class="s" x="527.72" y="238.5" font-size="9.3" text-anchor="middle" textLength="4.7" lengthAdjust="spacingAndGlyphs">3</text>
<line x1="574.98" y1="226.5" x2="574.98" y2="229.9" stroke="#262626" stroke-width="0.9"/>
<text class="s" x="574.98" y="238.5" font-size="9.3" text-anchor="middle" textLength="4.7" lengthAdjust="spacingAndGlyphs">4</text>
<line x1="622.24" y1="226.5" x2="622.24" y2="229.9" stroke="#262626" stroke-width="0.9"/>
<text class="s" x="622.24" y="238.5" font-size="9.3" text-anchor="middle" textLength="4.7" lengthAdjust="spacingAndGlyphs">5</text>
<line x1="669.50" y1="226.5" x2="669.50" y2="229.9" stroke="#262626" stroke-width="0.9"/>
<text class="s" x="669.50" y="238.5" font-size="9.3" text-anchor="middle" textLength="4.7" lengthAdjust="spacingAndGlyphs">6</text>
<line x1="384.0" y1="216.20" x2="387.5" y2="216.20" stroke="#262626" stroke-width="0.9"/>
<text class="s" x="381.5" y="219.80" font-size="9" text-anchor="end" textLength="4.8" lengthAdjust="spacingAndGlyphs">0</text>
<line x1="384.0" y1="189.00" x2="387.5" y2="189.00" stroke="#262626" stroke-width="0.9"/>
<text class="s" x="381.5" y="192.60" font-size="9" text-anchor="end" textLength="9.5" lengthAdjust="spacingAndGlyphs">20</text>
<line x1="384.0" y1="161.80" x2="387.5" y2="161.80" stroke="#262626" stroke-width="0.9"/>
<text class="s" x="381.5" y="165.40" font-size="9" text-anchor="end" textLength="9.5" lengthAdjust="spacingAndGlyphs">40</text>
<line x1="384.0" y1="134.60" x2="387.5" y2="134.60" stroke="#262626" stroke-width="0.9"/>
<text class="s" x="381.5" y="138.20" font-size="9" text-anchor="end" textLength="9.5" lengthAdjust="spacingAndGlyphs">60</text>
<line x1="384.0" y1="107.40" x2="387.5" y2="107.40" stroke="#262626" stroke-width="0.9"/>
<text class="s" x="381.5" y="111.00" font-size="9" text-anchor="end" textLength="9.5" lengthAdjust="spacingAndGlyphs">80</text>
<line x1="384.0" y1="80.20" x2="387.5" y2="80.20" stroke="#262626" stroke-width="0.9"/>
<text class="s" x="381.5" y="83.80" font-size="9" text-anchor="end" textLength="14.2" lengthAdjust="spacingAndGlyphs">100</text>
<line x1="384.0" y1="53.00" x2="387.5" y2="53.00" stroke="#262626" stroke-width="0.9"/>
<text class="s" x="381.5" y="56.60" font-size="9" text-anchor="end" textLength="14.2" lengthAdjust="spacingAndGlyphs">120</text>
<line x1="384.0" y1="25.80" x2="387.5" y2="25.80" stroke="#262626" stroke-width="0.9"/>
<text class="s" x="381.5" y="29.40" font-size="9" text-anchor="end" textLength="14.2" lengthAdjust="spacingAndGlyphs">140</text></g>
<g font-family="Liberation Sans, sans-serif" fill="#141414"><text class="m" x="176.2" y="253.8" font-size="14.8" text-anchor="middle" textLength="66.6" lengthAdjust="spacingAndGlyphs">Pixel Row</text>
<text class="m" x="539.3" y="252.6" font-size="14.8" text-anchor="middle" textLength="72.6" lengthAdjust="spacingAndGlyphs">Pixel Value</text>
<text class="m" transform="translate(16.1 119.9) rotate(-90)" font-size="14.8" text-anchor="middle" textLength="69.8" lengthAdjust="spacingAndGlyphs">LSF in a.u.</text>
<text class="m" transform="translate(367.1 120.1) rotate(-90)" font-size="14.9" text-anchor="middle" textLength="46.4" lengthAdjust="spacingAndGlyphs">Counts</text></g>
<text x="0.9" y="13.6" font-family="Liberation Serif, serif" font-size="23.2" fill="#000">a</text>
<text x="346.3" y="17.7" font-family="Liberation Serif, serif" font-size="24" fill="#000">b</text>
<text class="m" x="420.9" y="34.3" font-family="Liberation Sans, sans-serif" font-size="17.4" fill="#141414" textLength="75" lengthAdjust="spacingAndGlyphs">Tungsten</text>
<text class="m" x="558.6" y="111.6" font-family="Liberation Sans, sans-serif" font-size="17.6" fill="#141414" textLength="106.6" lengthAdjust="spacingAndGlyphs">Open Beam</text>
<rect x="240.1" y="12.6" width="85.5" height="38.9" rx="2" fill="#fff" fill-opacity="0.8" stroke="#d0d0d0" stroke-width="0.9"/>
<circle cx="252" cy="19" r="2.75" fill="#1f77b4"/>
<line x1="242" y1="30.8" x2="261" y2="30.8" stroke="#ff0000" stroke-width="2.2"/>
<line x1="242.3" y1="43.1" x2="261" y2="43.1" stroke="#ffa500" stroke-width="2.2" stroke-dasharray="9.5 3.8"/>
<g font-family="Liberation Sans, sans-serif" font-size="9.8" fill="#000">
<text class="s" x="263.7" y="22.4" textLength="20.5" lengthAdjust="spacingAndGlyphs">Data</text>
<text class="s" x="263.7" y="34.6" textLength="53.8" lengthAdjust="spacingAndGlyphs">Gaussian Fit</text>
<text class="s" x="263.7" y="46.7" textLength="61.3" lengthAdjust="spacingAndGlyphs">Lorentzian Fit</text>
</g>
<rect x="629.7" y="11.6" width="48.4" height="26.7" rx="2" fill="#fff" fill-opacity="0.8" stroke="#d0d0d0" stroke-width="0.9"/>
<circle cx="641.4" cy="18" r="2.75" fill="#1f77b4"/>
<line x1="632" y1="29.7" x2="650" y2="29.7" stroke="#ff7f0e" stroke-width="1.5"/>
<g font-family="Liberation Sans, sans-serif" font-size="11.2" fill="#000">
<text class="s" x="648.6" y="22.5" textLength="25.6" lengthAdjust="spacingAndGlyphs">Data</text>
<text class="s" x="653.4" y="34.4" textLength="13.8" lengthAdjust="spacingAndGlyphs">Fit</text>
</g>
</svg>
</body></html>
